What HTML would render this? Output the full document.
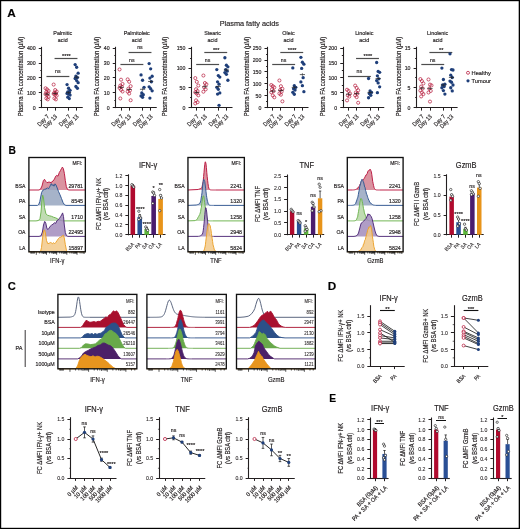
<!DOCTYPE html>
<html><head><meta charset="utf-8"><style>
html,body{margin:0;padding:0;background:#fff;width:520px;height:529px;overflow:hidden}
svg{display:block;will-change:transform}
text{font-family:"Liberation Sans",sans-serif;stroke:#231f20;stroke-width:0.18px}
</style></head><body>
<svg width="520" height="529" viewBox="0 0 520 529" font-family='"Liberation Sans", sans-serif'><rect x="0" y="0" width="520" height="1.2" fill="#000" stroke="none" stroke-width="0"/>
<rect x="0" y="0" width="1.2" height="529" fill="#000" stroke="none" stroke-width="0"/>
<rect x="518.7" y="0" width="1.3" height="529" fill="#000" stroke="none" stroke-width="0"/>
<rect x="0" y="527.8" width="520" height="1.2" fill="#000" stroke="none" stroke-width="0"/>
<text transform="translate(7.3,16.6) scale(1.05,1)" font-size="11.2" text-anchor="start" fill="#000" font-weight="bold">A</text>
<text transform="translate(8.4,154.2) scale(0.92,1)" font-size="11.2" text-anchor="start" fill="#000" font-weight="bold">B</text>
<text transform="translate(7.85,290.3)" font-size="11.2" text-anchor="start" fill="#000" font-weight="bold">C</text>
<text transform="translate(327.7,290.2) scale(1.05,1)" font-size="11.2" text-anchor="start" fill="#000" font-weight="bold">D</text>
<text transform="translate(329.3,402.1) scale(0.92,1)" font-size="11.2" text-anchor="start" fill="#000" font-weight="bold">E</text>
<text transform="translate(249.3,25.8) scale(0.97,1)" font-size="7.5" text-anchor="middle" fill="#231f20" textLength="61.03" lengthAdjust="spacingAndGlyphs">Plasma fatty acids</text>
<text transform="translate(62.75,35.2) scale(0.9,1)" font-size="6" text-anchor="middle" fill="#231f20">Palmitic</text>
<text transform="translate(62.75,41.6) scale(0.9,1)" font-size="6" text-anchor="middle" fill="#231f20">acid</text>
<text transform="translate(22.6,76.5) rotate(-90) scale(0.86,1)" font-size="6.9" text-anchor="middle" fill="#231f20">Plasma FA concentration (µM)</text>
<line x1="41.5" y1="46.8" x2="41.5" y2="108.1" stroke="#231f20" stroke-width="1.1" stroke-linecap="butt"/>
<line x1="41.2" y1="107.5" x2="82.75" y2="107.5" stroke="#231f20" stroke-width="1.1" stroke-linecap="butt"/>
<line x1="38.75" y1="107.5" x2="41.75" y2="107.5" stroke="#231f20" stroke-width="1" stroke-linecap="butt"/>
<text transform="translate(35.65,109.61) scale(0.92,1)" font-size="5.7" text-anchor="end" fill="#231f20">0</text>
<line x1="40.35" y1="100.5" x2="41.75" y2="100.5" stroke="#231f20" stroke-width="1" stroke-linecap="butt"/>
<line x1="38.75" y1="92.5" x2="41.75" y2="92.5" stroke="#231f20" stroke-width="1" stroke-linecap="butt"/>
<text transform="translate(35.65,94.81) scale(0.92,1)" font-size="5.7" text-anchor="end" fill="#231f20">100</text>
<line x1="40.35" y1="85.5" x2="41.75" y2="85.5" stroke="#231f20" stroke-width="1" stroke-linecap="butt"/>
<line x1="38.75" y1="77.5" x2="41.75" y2="77.5" stroke="#231f20" stroke-width="1" stroke-linecap="butt"/>
<text transform="translate(35.65,80.01) scale(0.92,1)" font-size="5.7" text-anchor="end" fill="#231f20">200</text>
<line x1="40.35" y1="70.5" x2="41.75" y2="70.5" stroke="#231f20" stroke-width="1" stroke-linecap="butt"/>
<line x1="38.75" y1="63.5" x2="41.75" y2="63.5" stroke="#231f20" stroke-width="1" stroke-linecap="butt"/>
<text transform="translate(35.65,65.21) scale(0.92,1)" font-size="5.7" text-anchor="end" fill="#231f20">300</text>
<line x1="40.35" y1="55.5" x2="41.75" y2="55.5" stroke="#231f20" stroke-width="1" stroke-linecap="butt"/>
<line x1="38.75" y1="48.5" x2="41.75" y2="48.5" stroke="#231f20" stroke-width="1" stroke-linecap="butt"/>
<text transform="translate(35.65,50.41) scale(0.92,1)" font-size="5.7" text-anchor="end" fill="#231f20">400</text>
<line x1="47.5" y1="107.5" x2="47.5" y2="110.6" stroke="#231f20" stroke-width="1" stroke-linecap="butt"/>
<text transform="translate(49.45,117) rotate(-45) scale(0.86,1)" font-size="6.1" text-anchor="end" fill="#231f20">Day 7</text>
<line x1="55.5" y1="107.5" x2="55.5" y2="110.6" stroke="#231f20" stroke-width="1" stroke-linecap="butt"/>
<text transform="translate(57.55,117) rotate(-45) scale(0.86,1)" font-size="6.1" text-anchor="end" fill="#231f20">Day 13</text>
<line x1="68.5" y1="107.5" x2="68.5" y2="110.6" stroke="#231f20" stroke-width="1" stroke-linecap="butt"/>
<text transform="translate(70.95,117) rotate(-45) scale(0.86,1)" font-size="6.1" text-anchor="end" fill="#231f20">Day 7</text>
<line x1="76.5" y1="107.5" x2="76.5" y2="110.6" stroke="#231f20" stroke-width="1" stroke-linecap="butt"/>
<text transform="translate(79.05,117) rotate(-45) scale(0.86,1)" font-size="6.1" text-anchor="end" fill="#231f20">Day 13</text>
<line x1="46.45" y1="76.5" x2="69.35" y2="76.5" stroke="#4d4d4d" stroke-width="1.2" stroke-linecap="butt"/>
<line x1="54.55" y1="58.5" x2="77.45" y2="58.5" stroke="#4d4d4d" stroke-width="1.2" stroke-linecap="butt"/>
<text transform="translate(57.8,73.2) scale(0.93,1)" font-size="5.6" text-anchor="middle" fill="#231f20">ns</text>
<text transform="translate(66.4,58.07)" font-size="5.6" text-anchor="middle" fill="#231f20">****</text>
<circle cx="45.55" cy="88.26" r="1.55" fill="none" stroke="#b5173a" stroke-width="0.7"/>
<circle cx="47.05" cy="89.44" r="1.55" fill="none" stroke="#b5173a" stroke-width="0.7"/>
<circle cx="48.55" cy="90.92" r="1.55" fill="none" stroke="#b5173a" stroke-width="0.7"/>
<circle cx="46.3" cy="92.11" r="1.55" fill="none" stroke="#b5173a" stroke-width="0.7"/>
<circle cx="47.8" cy="93.29" r="1.55" fill="none" stroke="#b5173a" stroke-width="0.7"/>
<circle cx="45.55" cy="94.18" r="1.55" fill="none" stroke="#b5173a" stroke-width="0.7"/>
<circle cx="47.05" cy="95.07" r="1.55" fill="none" stroke="#b5173a" stroke-width="0.7"/>
<circle cx="48.55" cy="96.84" r="1.55" fill="none" stroke="#b5173a" stroke-width="0.7"/>
<circle cx="46.3" cy="98.32" r="1.55" fill="none" stroke="#b5173a" stroke-width="0.7"/>
<circle cx="47.8" cy="99.36" r="1.55" fill="none" stroke="#b5173a" stroke-width="0.7"/>
<line x1="44.45" y1="94.18" x2="49.65" y2="94.18" stroke="#222" stroke-width="0.7" stroke-linecap="butt"/>
<line x1="47.05" y1="92.58" x2="47.05" y2="95.78" stroke="#222" stroke-width="0.5" stroke-linecap="butt"/>
<circle cx="53.65" cy="84.56" r="1.55" fill="none" stroke="#b5173a" stroke-width="0.7"/>
<circle cx="55.15" cy="90.04" r="1.55" fill="none" stroke="#b5173a" stroke-width="0.7"/>
<circle cx="56.65" cy="91.52" r="1.55" fill="none" stroke="#b5173a" stroke-width="0.7"/>
<circle cx="54.4" cy="92.7" r="1.55" fill="none" stroke="#b5173a" stroke-width="0.7"/>
<circle cx="55.9" cy="93.29" r="1.55" fill="none" stroke="#b5173a" stroke-width="0.7"/>
<circle cx="53.65" cy="93.88" r="1.55" fill="none" stroke="#b5173a" stroke-width="0.7"/>
<circle cx="55.15" cy="94.77" r="1.55" fill="none" stroke="#b5173a" stroke-width="0.7"/>
<circle cx="56.65" cy="95.66" r="1.55" fill="none" stroke="#b5173a" stroke-width="0.7"/>
<circle cx="54.4" cy="98.32" r="1.55" fill="none" stroke="#b5173a" stroke-width="0.7"/>
<circle cx="55.9" cy="99.36" r="1.55" fill="none" stroke="#b5173a" stroke-width="0.7"/>
<line x1="52.55" y1="93.44" x2="57.75" y2="93.44" stroke="#222" stroke-width="0.7" stroke-linecap="butt"/>
<line x1="55.15" y1="91.84" x2="55.15" y2="95.04" stroke="#222" stroke-width="0.5" stroke-linecap="butt"/>
<circle cx="67.05" cy="84.56" r="1.65" fill="#1f3f7a" stroke="none" stroke-width="0"/>
<circle cx="68.55" cy="88.26" r="1.65" fill="#1f3f7a" stroke="none" stroke-width="0"/>
<circle cx="70.05" cy="90.33" r="1.65" fill="#1f3f7a" stroke="none" stroke-width="0"/>
<circle cx="67.8" cy="91.81" r="1.65" fill="#1f3f7a" stroke="none" stroke-width="0"/>
<circle cx="69.3" cy="92.7" r="1.65" fill="#1f3f7a" stroke="none" stroke-width="0"/>
<circle cx="67.05" cy="93.44" r="1.65" fill="#1f3f7a" stroke="none" stroke-width="0"/>
<circle cx="68.55" cy="94.18" r="1.65" fill="#1f3f7a" stroke="none" stroke-width="0"/>
<circle cx="70.05" cy="95.07" r="1.65" fill="#1f3f7a" stroke="none" stroke-width="0"/>
<circle cx="67.8" cy="97.14" r="1.65" fill="#1f3f7a" stroke="none" stroke-width="0"/>
<circle cx="69.3" cy="98.62" r="1.65" fill="#1f3f7a" stroke="none" stroke-width="0"/>
<line x1="65.95" y1="92.7" x2="71.15" y2="92.7" stroke="#222" stroke-width="0.7" stroke-linecap="butt"/>
<line x1="68.55" y1="91.1" x2="68.55" y2="94.3" stroke="#222" stroke-width="0.5" stroke-linecap="butt"/>
<circle cx="75.15" cy="64.58" r="1.65" fill="#1f3f7a" stroke="none" stroke-width="0"/>
<circle cx="76.65" cy="67.24" r="1.65" fill="#1f3f7a" stroke="none" stroke-width="0"/>
<circle cx="78.15" cy="73.16" r="1.65" fill="#1f3f7a" stroke="none" stroke-width="0"/>
<circle cx="75.9" cy="76.12" r="1.65" fill="#1f3f7a" stroke="none" stroke-width="0"/>
<circle cx="77.4" cy="77.6" r="1.65" fill="#1f3f7a" stroke="none" stroke-width="0"/>
<circle cx="75.15" cy="78.49" r="1.65" fill="#1f3f7a" stroke="none" stroke-width="0"/>
<circle cx="76.65" cy="80.56" r="1.65" fill="#1f3f7a" stroke="none" stroke-width="0"/>
<circle cx="78.15" cy="82.64" r="1.65" fill="#1f3f7a" stroke="none" stroke-width="0"/>
<circle cx="75.9" cy="86.48" r="1.65" fill="#1f3f7a" stroke="none" stroke-width="0"/>
<circle cx="77.4" cy="88.26" r="1.65" fill="#1f3f7a" stroke="none" stroke-width="0"/>
<line x1="74.05" y1="77.16" x2="79.25" y2="77.16" stroke="#222" stroke-width="0.7" stroke-linecap="butt"/>
<line x1="76.65" y1="75.56" x2="76.65" y2="78.76" stroke="#222" stroke-width="0.5" stroke-linecap="butt"/>
<text transform="translate(136.75,35.2) scale(0.9,1)" font-size="6" text-anchor="middle" fill="#231f20">Palmitoleic</text>
<text transform="translate(136.75,41.6) scale(0.9,1)" font-size="6" text-anchor="middle" fill="#231f20">acid</text>
<text transform="translate(98.6,76.5) rotate(-90) scale(0.86,1)" font-size="6.9" text-anchor="middle" fill="#231f20">Plasma FA concentration (µM)</text>
<line x1="115.5" y1="46.8" x2="115.5" y2="108.1" stroke="#231f20" stroke-width="1.1" stroke-linecap="butt"/>
<line x1="115.2" y1="107.5" x2="156.75" y2="107.5" stroke="#231f20" stroke-width="1.1" stroke-linecap="butt"/>
<line x1="112.75" y1="107.5" x2="115.75" y2="107.5" stroke="#231f20" stroke-width="1" stroke-linecap="butt"/>
<text transform="translate(109.65,109.61) scale(0.92,1)" font-size="5.7" text-anchor="end" fill="#231f20">0</text>
<line x1="114.35" y1="100.5" x2="115.75" y2="100.5" stroke="#231f20" stroke-width="1" stroke-linecap="butt"/>
<line x1="112.75" y1="92.5" x2="115.75" y2="92.5" stroke="#231f20" stroke-width="1" stroke-linecap="butt"/>
<text transform="translate(109.65,94.81) scale(0.92,1)" font-size="5.7" text-anchor="end" fill="#231f20">10</text>
<line x1="114.35" y1="85.5" x2="115.75" y2="85.5" stroke="#231f20" stroke-width="1" stroke-linecap="butt"/>
<line x1="112.75" y1="77.5" x2="115.75" y2="77.5" stroke="#231f20" stroke-width="1" stroke-linecap="butt"/>
<text transform="translate(109.65,80.01) scale(0.92,1)" font-size="5.7" text-anchor="end" fill="#231f20">20</text>
<line x1="114.35" y1="70.5" x2="115.75" y2="70.5" stroke="#231f20" stroke-width="1" stroke-linecap="butt"/>
<line x1="112.75" y1="63.5" x2="115.75" y2="63.5" stroke="#231f20" stroke-width="1" stroke-linecap="butt"/>
<text transform="translate(109.65,65.21) scale(0.92,1)" font-size="5.7" text-anchor="end" fill="#231f20">30</text>
<line x1="114.35" y1="55.5" x2="115.75" y2="55.5" stroke="#231f20" stroke-width="1" stroke-linecap="butt"/>
<line x1="112.75" y1="48.5" x2="115.75" y2="48.5" stroke="#231f20" stroke-width="1" stroke-linecap="butt"/>
<text transform="translate(109.65,50.41) scale(0.92,1)" font-size="5.7" text-anchor="end" fill="#231f20">40</text>
<line x1="121.5" y1="107.5" x2="121.5" y2="110.6" stroke="#231f20" stroke-width="1" stroke-linecap="butt"/>
<text transform="translate(123.45,117) rotate(-45) scale(0.86,1)" font-size="6.1" text-anchor="end" fill="#231f20">Day 7</text>
<line x1="129.5" y1="107.5" x2="129.5" y2="110.6" stroke="#231f20" stroke-width="1" stroke-linecap="butt"/>
<text transform="translate(131.55,117) rotate(-45) scale(0.86,1)" font-size="6.1" text-anchor="end" fill="#231f20">Day 13</text>
<line x1="142.5" y1="107.5" x2="142.5" y2="110.6" stroke="#231f20" stroke-width="1" stroke-linecap="butt"/>
<text transform="translate(144.95,117) rotate(-45) scale(0.86,1)" font-size="6.1" text-anchor="end" fill="#231f20">Day 7</text>
<line x1="150.5" y1="107.5" x2="150.5" y2="110.6" stroke="#231f20" stroke-width="1" stroke-linecap="butt"/>
<text transform="translate(153.05,117) rotate(-45) scale(0.86,1)" font-size="6.1" text-anchor="end" fill="#231f20">Day 13</text>
<line x1="120.45" y1="64.5" x2="143.35" y2="64.5" stroke="#4d4d4d" stroke-width="1.2" stroke-linecap="butt"/>
<line x1="128.55" y1="52.5" x2="151.45" y2="52.5" stroke="#4d4d4d" stroke-width="1.2" stroke-linecap="butt"/>
<text transform="translate(131.8,61.6) scale(0.93,1)" font-size="5.6" text-anchor="middle" fill="#231f20">ns</text>
<text transform="translate(139.9,49) scale(0.93,1)" font-size="5.6" text-anchor="middle" fill="#231f20">ns</text>
<circle cx="119.55" cy="69.46" r="1.55" fill="none" stroke="#b5173a" stroke-width="0.7"/>
<circle cx="121.05" cy="79.68" r="1.55" fill="none" stroke="#b5173a" stroke-width="0.7"/>
<circle cx="122.55" cy="83.97" r="1.55" fill="none" stroke="#b5173a" stroke-width="0.7"/>
<circle cx="120.3" cy="85.6" r="1.55" fill="none" stroke="#b5173a" stroke-width="0.7"/>
<circle cx="121.8" cy="86.78" r="1.55" fill="none" stroke="#b5173a" stroke-width="0.7"/>
<circle cx="119.55" cy="87.96" r="1.55" fill="none" stroke="#b5173a" stroke-width="0.7"/>
<circle cx="121.05" cy="89.89" r="1.55" fill="none" stroke="#b5173a" stroke-width="0.7"/>
<circle cx="122.55" cy="91.52" r="1.55" fill="none" stroke="#b5173a" stroke-width="0.7"/>
<circle cx="120.3" cy="98.47" r="1.55" fill="none" stroke="#b5173a" stroke-width="0.7"/>
<line x1="118.45" y1="87.37" x2="123.65" y2="87.37" stroke="#222" stroke-width="0.7" stroke-linecap="butt"/>
<line x1="121.05" y1="85.77" x2="121.05" y2="88.97" stroke="#222" stroke-width="0.5" stroke-linecap="butt"/>
<circle cx="127.65" cy="79.38" r="1.55" fill="none" stroke="#b5173a" stroke-width="0.7"/>
<circle cx="129.15" cy="81.75" r="1.55" fill="none" stroke="#b5173a" stroke-width="0.7"/>
<circle cx="130.65" cy="86.19" r="1.55" fill="none" stroke="#b5173a" stroke-width="0.7"/>
<circle cx="128.4" cy="88.7" r="1.55" fill="none" stroke="#b5173a" stroke-width="0.7"/>
<circle cx="129.9" cy="90.48" r="1.55" fill="none" stroke="#b5173a" stroke-width="0.7"/>
<circle cx="127.65" cy="91.66" r="1.55" fill="none" stroke="#b5173a" stroke-width="0.7"/>
<circle cx="129.15" cy="93.59" r="1.55" fill="none" stroke="#b5173a" stroke-width="0.7"/>
<circle cx="130.65" cy="100.25" r="1.55" fill="none" stroke="#b5173a" stroke-width="0.7"/>
<line x1="126.55" y1="89.44" x2="131.75" y2="89.44" stroke="#222" stroke-width="0.7" stroke-linecap="butt"/>
<line x1="129.15" y1="87.84" x2="129.15" y2="91.04" stroke="#222" stroke-width="0.5" stroke-linecap="butt"/>
<circle cx="141.05" cy="74.94" r="1.65" fill="#1f3f7a" stroke="none" stroke-width="0"/>
<circle cx="142.55" cy="80.27" r="1.65" fill="#1f3f7a" stroke="none" stroke-width="0"/>
<circle cx="144.05" cy="87.37" r="1.65" fill="#1f3f7a" stroke="none" stroke-width="0"/>
<circle cx="141.8" cy="93" r="1.65" fill="#1f3f7a" stroke="none" stroke-width="0"/>
<circle cx="143.3" cy="94.77" r="1.65" fill="#1f3f7a" stroke="none" stroke-width="0"/>
<circle cx="141.05" cy="95.96" r="1.65" fill="#1f3f7a" stroke="none" stroke-width="0"/>
<circle cx="142.55" cy="97.29" r="1.65" fill="#1f3f7a" stroke="none" stroke-width="0"/>
<line x1="139.95" y1="89.3" x2="145.15" y2="89.3" stroke="#222" stroke-width="0.7" stroke-linecap="butt"/>
<line x1="142.55" y1="87.7" x2="142.55" y2="90.9" stroke="#222" stroke-width="0.5" stroke-linecap="butt"/>
<circle cx="149.15" cy="63.54" r="1.65" fill="#1f3f7a" stroke="none" stroke-width="0"/>
<circle cx="150.65" cy="68.87" r="1.65" fill="#1f3f7a" stroke="none" stroke-width="0"/>
<circle cx="152.15" cy="76.27" r="1.65" fill="#1f3f7a" stroke="none" stroke-width="0"/>
<circle cx="149.9" cy="78.05" r="1.65" fill="#1f3f7a" stroke="none" stroke-width="0"/>
<circle cx="151.4" cy="81.75" r="1.65" fill="#1f3f7a" stroke="none" stroke-width="0"/>
<circle cx="149.15" cy="86.78" r="1.65" fill="#1f3f7a" stroke="none" stroke-width="0"/>
<circle cx="150.65" cy="88.7" r="1.65" fill="#1f3f7a" stroke="none" stroke-width="0"/>
<circle cx="152.15" cy="90.78" r="1.65" fill="#1f3f7a" stroke="none" stroke-width="0"/>
<circle cx="149.9" cy="98.03" r="1.65" fill="#1f3f7a" stroke="none" stroke-width="0"/>
<line x1="148.05" y1="81.45" x2="153.25" y2="81.45" stroke="#222" stroke-width="0.7" stroke-linecap="butt"/>
<line x1="150.65" y1="79.85" x2="150.65" y2="83.05" stroke="#222" stroke-width="0.5" stroke-linecap="butt"/>
<text transform="translate(212.5,35.2) scale(0.9,1)" font-size="6" text-anchor="middle" fill="#231f20">Stearic</text>
<text transform="translate(212.5,41.6) scale(0.9,1)" font-size="6" text-anchor="middle" fill="#231f20">acid</text>
<text transform="translate(167.3,76.5) rotate(-90) scale(0.86,1)" font-size="6.9" text-anchor="middle" fill="#231f20">Plasma FA concentration (µM)</text>
<line x1="191.5" y1="46.8" x2="191.5" y2="108.1" stroke="#231f20" stroke-width="1.1" stroke-linecap="butt"/>
<line x1="190.95" y1="107.5" x2="232.5" y2="107.5" stroke="#231f20" stroke-width="1.1" stroke-linecap="butt"/>
<line x1="188.5" y1="107.5" x2="191.5" y2="107.5" stroke="#231f20" stroke-width="1" stroke-linecap="butt"/>
<text transform="translate(185.4,109.61) scale(0.92,1)" font-size="5.7" text-anchor="end" fill="#231f20">0</text>
<line x1="190.1" y1="97.5" x2="191.5" y2="97.5" stroke="#231f20" stroke-width="1" stroke-linecap="butt"/>
<line x1="188.5" y1="87.5" x2="191.5" y2="87.5" stroke="#231f20" stroke-width="1" stroke-linecap="butt"/>
<text transform="translate(185.4,89.88) scale(0.92,1)" font-size="5.7" text-anchor="end" fill="#231f20">50</text>
<line x1="190.1" y1="77.5" x2="191.5" y2="77.5" stroke="#231f20" stroke-width="1" stroke-linecap="butt"/>
<line x1="188.5" y1="68.5" x2="191.5" y2="68.5" stroke="#231f20" stroke-width="1" stroke-linecap="butt"/>
<text transform="translate(185.4,70.14) scale(0.92,1)" font-size="5.7" text-anchor="end" fill="#231f20">100</text>
<line x1="190.1" y1="58.5" x2="191.5" y2="58.5" stroke="#231f20" stroke-width="1" stroke-linecap="butt"/>
<line x1="188.5" y1="48.5" x2="191.5" y2="48.5" stroke="#231f20" stroke-width="1" stroke-linecap="butt"/>
<text transform="translate(185.4,50.41) scale(0.92,1)" font-size="5.7" text-anchor="end" fill="#231f20">150</text>
<line x1="196.5" y1="107.5" x2="196.5" y2="110.6" stroke="#231f20" stroke-width="1" stroke-linecap="butt"/>
<text transform="translate(199.2,117) rotate(-45) scale(0.86,1)" font-size="6.1" text-anchor="end" fill="#231f20">Day 7</text>
<line x1="204.5" y1="107.5" x2="204.5" y2="110.6" stroke="#231f20" stroke-width="1" stroke-linecap="butt"/>
<text transform="translate(207.3,117) rotate(-45) scale(0.86,1)" font-size="6.1" text-anchor="end" fill="#231f20">Day 13</text>
<line x1="218.5" y1="107.5" x2="218.5" y2="110.6" stroke="#231f20" stroke-width="1" stroke-linecap="butt"/>
<text transform="translate(220.7,117) rotate(-45) scale(0.86,1)" font-size="6.1" text-anchor="end" fill="#231f20">Day 7</text>
<line x1="226.5" y1="107.5" x2="226.5" y2="110.6" stroke="#231f20" stroke-width="1" stroke-linecap="butt"/>
<text transform="translate(228.8,117) rotate(-45) scale(0.86,1)" font-size="6.1" text-anchor="end" fill="#231f20">Day 13</text>
<line x1="196.2" y1="64.5" x2="219.1" y2="64.5" stroke="#4d4d4d" stroke-width="1.2" stroke-linecap="butt"/>
<line x1="204.3" y1="52.5" x2="227.2" y2="52.5" stroke="#4d4d4d" stroke-width="1.2" stroke-linecap="butt"/>
<text transform="translate(207.55,61.6) scale(0.93,1)" font-size="5.6" text-anchor="middle" fill="#231f20">ns</text>
<text transform="translate(216.15,52.17)" font-size="5.6" text-anchor="middle" fill="#231f20">***</text>
<circle cx="195.3" cy="78.1" r="1.55" fill="none" stroke="#b5173a" stroke-width="0.7"/>
<circle cx="196.8" cy="81.85" r="1.55" fill="none" stroke="#b5173a" stroke-width="0.7"/>
<circle cx="198.3" cy="85.56" r="1.55" fill="none" stroke="#b5173a" stroke-width="0.7"/>
<circle cx="196.05" cy="89.23" r="1.55" fill="none" stroke="#b5173a" stroke-width="0.7"/>
<circle cx="197.55" cy="91.04" r="1.55" fill="none" stroke="#b5173a" stroke-width="0.7"/>
<circle cx="195.3" cy="92.34" r="1.55" fill="none" stroke="#b5173a" stroke-width="0.7"/>
<circle cx="196.8" cy="93.53" r="1.55" fill="none" stroke="#b5173a" stroke-width="0.7"/>
<circle cx="198.3" cy="95.34" r="1.55" fill="none" stroke="#b5173a" stroke-width="0.7"/>
<circle cx="196.05" cy="100.36" r="1.55" fill="none" stroke="#b5173a" stroke-width="0.7"/>
<circle cx="197.55" cy="102.21" r="1.55" fill="none" stroke="#b5173a" stroke-width="0.7"/>
<circle cx="195.3" cy="103.43" r="1.55" fill="none" stroke="#b5173a" stroke-width="0.7"/>
<line x1="194.2" y1="92.5" x2="199.4" y2="92.5" stroke="#222" stroke-width="0.7" stroke-linecap="butt"/>
<line x1="196.8" y1="90.9" x2="196.8" y2="94.1" stroke="#222" stroke-width="0.5" stroke-linecap="butt"/>
<circle cx="203.4" cy="75.53" r="1.55" fill="none" stroke="#b5173a" stroke-width="0.7"/>
<circle cx="204.9" cy="83.03" r="1.55" fill="none" stroke="#b5173a" stroke-width="0.7"/>
<circle cx="206.4" cy="84.21" r="1.55" fill="none" stroke="#b5173a" stroke-width="0.7"/>
<circle cx="204.15" cy="87.37" r="1.55" fill="none" stroke="#b5173a" stroke-width="0.7"/>
<circle cx="205.65" cy="89.35" r="1.55" fill="none" stroke="#b5173a" stroke-width="0.7"/>
<circle cx="203.4" cy="91.71" r="1.55" fill="none" stroke="#b5173a" stroke-width="0.7"/>
<line x1="202.3" y1="86.7" x2="207.5" y2="86.7" stroke="#222" stroke-width="0.7" stroke-linecap="butt"/>
<line x1="204.9" y1="85.1" x2="204.9" y2="88.3" stroke="#222" stroke-width="0.5" stroke-linecap="butt"/>
<circle cx="216.8" cy="69.61" r="1.65" fill="#1f3f7a" stroke="none" stroke-width="0"/>
<circle cx="218.3" cy="75.53" r="1.65" fill="#1f3f7a" stroke="none" stroke-width="0"/>
<circle cx="219.8" cy="77.11" r="1.65" fill="#1f3f7a" stroke="none" stroke-width="0"/>
<circle cx="217.55" cy="81.85" r="1.65" fill="#1f3f7a" stroke="none" stroke-width="0"/>
<circle cx="219.05" cy="84.21" r="1.65" fill="#1f3f7a" stroke="none" stroke-width="0"/>
<circle cx="216.8" cy="87.37" r="1.65" fill="#1f3f7a" stroke="none" stroke-width="0"/>
<circle cx="218.3" cy="89.35" r="1.65" fill="#1f3f7a" stroke="none" stroke-width="0"/>
<circle cx="219.8" cy="92.9" r="1.65" fill="#1f3f7a" stroke="none" stroke-width="0"/>
<circle cx="217.55" cy="94.08" r="1.65" fill="#1f3f7a" stroke="none" stroke-width="0"/>
<circle cx="219.05" cy="105.29" r="1.65" fill="#1f3f7a" stroke="none" stroke-width="0"/>
<line x1="215.7" y1="86.58" x2="220.9" y2="86.58" stroke="#222" stroke-width="0.7" stroke-linecap="butt"/>
<line x1="218.3" y1="84.98" x2="218.3" y2="88.18" stroke="#222" stroke-width="0.5" stroke-linecap="butt"/>
<circle cx="224.9" cy="57.77" r="1.65" fill="#1f3f7a" stroke="none" stroke-width="0"/>
<circle cx="226.4" cy="65.27" r="1.65" fill="#1f3f7a" stroke="none" stroke-width="0"/>
<circle cx="227.9" cy="66.85" r="1.65" fill="#1f3f7a" stroke="none" stroke-width="0"/>
<circle cx="225.65" cy="69.61" r="1.65" fill="#1f3f7a" stroke="none" stroke-width="0"/>
<circle cx="227.15" cy="71.19" r="1.65" fill="#1f3f7a" stroke="none" stroke-width="0"/>
<circle cx="224.9" cy="72.57" r="1.65" fill="#1f3f7a" stroke="none" stroke-width="0"/>
<circle cx="226.4" cy="74.35" r="1.65" fill="#1f3f7a" stroke="none" stroke-width="0"/>
<circle cx="227.9" cy="80.27" r="1.65" fill="#1f3f7a" stroke="none" stroke-width="0"/>
<line x1="223.8" y1="70.01" x2="229" y2="70.01" stroke="#222" stroke-width="0.7" stroke-linecap="butt"/>
<line x1="226.4" y1="68.41" x2="226.4" y2="71.61" stroke="#222" stroke-width="0.5" stroke-linecap="butt"/>
<text transform="translate(288.5,35.2) scale(0.9,1)" font-size="6" text-anchor="middle" fill="#231f20">Oleic</text>
<text transform="translate(288.5,41.6) scale(0.9,1)" font-size="6" text-anchor="middle" fill="#231f20">acid</text>
<text transform="translate(248.8,76.5) rotate(-90) scale(0.86,1)" font-size="6.9" text-anchor="middle" fill="#231f20">Plasma FA concentration (µM)</text>
<line x1="267.5" y1="46.8" x2="267.5" y2="108.1" stroke="#231f20" stroke-width="1.1" stroke-linecap="butt"/>
<line x1="266.95" y1="107.5" x2="308.5" y2="107.5" stroke="#231f20" stroke-width="1.1" stroke-linecap="butt"/>
<line x1="264.5" y1="107.5" x2="267.5" y2="107.5" stroke="#231f20" stroke-width="1" stroke-linecap="butt"/>
<text transform="translate(261.4,109.61) scale(0.92,1)" font-size="5.7" text-anchor="end" fill="#231f20">0</text>
<line x1="266.1" y1="101.5" x2="267.5" y2="101.5" stroke="#231f20" stroke-width="1" stroke-linecap="butt"/>
<line x1="264.5" y1="95.5" x2="267.5" y2="95.5" stroke="#231f20" stroke-width="1" stroke-linecap="butt"/>
<text transform="translate(261.4,97.77) scale(0.92,1)" font-size="5.7" text-anchor="end" fill="#231f20">50</text>
<line x1="266.1" y1="89.5" x2="267.5" y2="89.5" stroke="#231f20" stroke-width="1" stroke-linecap="butt"/>
<line x1="264.5" y1="83.5" x2="267.5" y2="83.5" stroke="#231f20" stroke-width="1" stroke-linecap="butt"/>
<text transform="translate(261.4,85.93) scale(0.92,1)" font-size="5.7" text-anchor="end" fill="#231f20">100</text>
<line x1="266.1" y1="77.5" x2="267.5" y2="77.5" stroke="#231f20" stroke-width="1" stroke-linecap="butt"/>
<line x1="264.5" y1="71.5" x2="267.5" y2="71.5" stroke="#231f20" stroke-width="1" stroke-linecap="butt"/>
<text transform="translate(261.4,74.09) scale(0.92,1)" font-size="5.7" text-anchor="end" fill="#231f20">150</text>
<line x1="266.1" y1="66.5" x2="267.5" y2="66.5" stroke="#231f20" stroke-width="1" stroke-linecap="butt"/>
<line x1="264.5" y1="60.5" x2="267.5" y2="60.5" stroke="#231f20" stroke-width="1" stroke-linecap="butt"/>
<text transform="translate(261.4,62.25) scale(0.92,1)" font-size="5.7" text-anchor="end" fill="#231f20">200</text>
<line x1="266.1" y1="54.5" x2="267.5" y2="54.5" stroke="#231f20" stroke-width="1" stroke-linecap="butt"/>
<line x1="264.5" y1="48.5" x2="267.5" y2="48.5" stroke="#231f20" stroke-width="1" stroke-linecap="butt"/>
<text transform="translate(261.4,50.41) scale(0.92,1)" font-size="5.7" text-anchor="end" fill="#231f20">250</text>
<line x1="272.5" y1="107.5" x2="272.5" y2="110.6" stroke="#231f20" stroke-width="1" stroke-linecap="butt"/>
<text transform="translate(275.2,117) rotate(-45) scale(0.86,1)" font-size="6.1" text-anchor="end" fill="#231f20">Day 7</text>
<line x1="280.5" y1="107.5" x2="280.5" y2="110.6" stroke="#231f20" stroke-width="1" stroke-linecap="butt"/>
<text transform="translate(283.3,117) rotate(-45) scale(0.86,1)" font-size="6.1" text-anchor="end" fill="#231f20">Day 13</text>
<line x1="294.5" y1="107.5" x2="294.5" y2="110.6" stroke="#231f20" stroke-width="1" stroke-linecap="butt"/>
<text transform="translate(296.7,117) rotate(-45) scale(0.86,1)" font-size="6.1" text-anchor="end" fill="#231f20">Day 7</text>
<line x1="302.5" y1="107.5" x2="302.5" y2="110.6" stroke="#231f20" stroke-width="1" stroke-linecap="butt"/>
<text transform="translate(304.8,117) rotate(-45) scale(0.86,1)" font-size="6.1" text-anchor="end" fill="#231f20">Day 13</text>
<line x1="272.2" y1="64.5" x2="295.1" y2="64.5" stroke="#4d4d4d" stroke-width="1.2" stroke-linecap="butt"/>
<line x1="280.3" y1="52.5" x2="303.2" y2="52.5" stroke="#4d4d4d" stroke-width="1.2" stroke-linecap="butt"/>
<text transform="translate(283.55,61.6) scale(0.93,1)" font-size="5.6" text-anchor="middle" fill="#231f20">ns</text>
<text transform="translate(292.15,52.17)" font-size="5.6" text-anchor="middle" fill="#231f20">****</text>
<circle cx="271.3" cy="85" r="1.55" fill="none" stroke="#b5173a" stroke-width="0.7"/>
<circle cx="272.8" cy="86.19" r="1.55" fill="none" stroke="#b5173a" stroke-width="0.7"/>
<circle cx="274.3" cy="87.37" r="1.55" fill="none" stroke="#b5173a" stroke-width="0.7"/>
<circle cx="272.05" cy="89.27" r="1.55" fill="none" stroke="#b5173a" stroke-width="0.7"/>
<circle cx="273.55" cy="91.16" r="1.55" fill="none" stroke="#b5173a" stroke-width="0.7"/>
<circle cx="271.3" cy="92.34" r="1.55" fill="none" stroke="#b5173a" stroke-width="0.7"/>
<circle cx="272.8" cy="95.42" r="1.55" fill="none" stroke="#b5173a" stroke-width="0.7"/>
<circle cx="274.3" cy="97.32" r="1.55" fill="none" stroke="#b5173a" stroke-width="0.7"/>
<line x1="270.2" y1="91.16" x2="275.4" y2="91.16" stroke="#222" stroke-width="0.7" stroke-linecap="butt"/>
<line x1="272.8" y1="89.56" x2="272.8" y2="92.76" stroke="#222" stroke-width="0.5" stroke-linecap="butt"/>
<circle cx="279.4" cy="80.5" r="1.55" fill="none" stroke="#b5173a" stroke-width="0.7"/>
<circle cx="280.9" cy="86.19" r="1.55" fill="none" stroke="#b5173a" stroke-width="0.7"/>
<circle cx="282.4" cy="88.79" r="1.55" fill="none" stroke="#b5173a" stroke-width="0.7"/>
<circle cx="280.15" cy="89.98" r="1.55" fill="none" stroke="#b5173a" stroke-width="0.7"/>
<circle cx="281.65" cy="91.63" r="1.55" fill="none" stroke="#b5173a" stroke-width="0.7"/>
<circle cx="279.4" cy="93.53" r="1.55" fill="none" stroke="#b5173a" stroke-width="0.7"/>
<circle cx="280.9" cy="94.71" r="1.55" fill="none" stroke="#b5173a" stroke-width="0.7"/>
<circle cx="282.4" cy="101.34" r="1.55" fill="none" stroke="#b5173a" stroke-width="0.7"/>
<line x1="278.3" y1="90.45" x2="283.5" y2="90.45" stroke="#222" stroke-width="0.7" stroke-linecap="butt"/>
<line x1="280.9" y1="88.85" x2="280.9" y2="92.05" stroke="#222" stroke-width="0.5" stroke-linecap="butt"/>
<circle cx="292.8" cy="67.95" r="1.65" fill="#1f3f7a" stroke="none" stroke-width="0"/>
<circle cx="294.3" cy="85.71" r="1.65" fill="#1f3f7a" stroke="none" stroke-width="0"/>
<circle cx="295.8" cy="87.37" r="1.65" fill="#1f3f7a" stroke="none" stroke-width="0"/>
<circle cx="293.55" cy="88.79" r="1.65" fill="#1f3f7a" stroke="none" stroke-width="0"/>
<circle cx="295.05" cy="89.98" r="1.65" fill="#1f3f7a" stroke="none" stroke-width="0"/>
<circle cx="292.8" cy="92.34" r="1.65" fill="#1f3f7a" stroke="none" stroke-width="0"/>
<circle cx="294.3" cy="94.24" r="1.65" fill="#1f3f7a" stroke="none" stroke-width="0"/>
<line x1="291.7" y1="87.37" x2="296.9" y2="87.37" stroke="#222" stroke-width="0.7" stroke-linecap="butt"/>
<line x1="294.3" y1="85.77" x2="294.3" y2="88.97" stroke="#222" stroke-width="0.5" stroke-linecap="butt"/>
<circle cx="300.9" cy="57.3" r="1.65" fill="#1f3f7a" stroke="none" stroke-width="0"/>
<circle cx="302.4" cy="62.27" r="1.65" fill="#1f3f7a" stroke="none" stroke-width="0"/>
<circle cx="303.9" cy="64.17" r="1.65" fill="#1f3f7a" stroke="none" stroke-width="0"/>
<circle cx="301.65" cy="68.43" r="1.65" fill="#1f3f7a" stroke="none" stroke-width="0"/>
<circle cx="303.15" cy="77.66" r="1.65" fill="#1f3f7a" stroke="none" stroke-width="0"/>
<circle cx="300.9" cy="81.93" r="1.65" fill="#1f3f7a" stroke="none" stroke-width="0"/>
<circle cx="302.4" cy="85.71" r="1.65" fill="#1f3f7a" stroke="none" stroke-width="0"/>
<circle cx="303.9" cy="91.63" r="1.65" fill="#1f3f7a" stroke="none" stroke-width="0"/>
<line x1="299.8" y1="74.58" x2="305" y2="74.58" stroke="#222" stroke-width="0.7" stroke-linecap="butt"/>
<line x1="302.4" y1="72.98" x2="302.4" y2="76.18" stroke="#222" stroke-width="0.5" stroke-linecap="butt"/>
<text transform="translate(364.25,35.2) scale(0.9,1)" font-size="6" text-anchor="middle" fill="#231f20">Linoleic</text>
<text transform="translate(364.25,41.6) scale(0.9,1)" font-size="6" text-anchor="middle" fill="#231f20">acid</text>
<text transform="translate(324.8,76.5) rotate(-90) scale(0.86,1)" font-size="6.9" text-anchor="middle" fill="#231f20">Plasma FA concentration (µM)</text>
<line x1="343.5" y1="46.8" x2="343.5" y2="108.1" stroke="#231f20" stroke-width="1.1" stroke-linecap="butt"/>
<line x1="342.7" y1="107.5" x2="384.25" y2="107.5" stroke="#231f20" stroke-width="1.1" stroke-linecap="butt"/>
<line x1="340.25" y1="107.5" x2="343.25" y2="107.5" stroke="#231f20" stroke-width="1" stroke-linecap="butt"/>
<text transform="translate(337.15,109.61) scale(0.92,1)" font-size="5.7" text-anchor="end" fill="#231f20">0</text>
<line x1="341.85" y1="100.5" x2="343.25" y2="100.5" stroke="#231f20" stroke-width="1" stroke-linecap="butt"/>
<line x1="340.25" y1="92.5" x2="343.25" y2="92.5" stroke="#231f20" stroke-width="1" stroke-linecap="butt"/>
<text transform="translate(337.15,94.81) scale(0.92,1)" font-size="5.7" text-anchor="end" fill="#231f20">50</text>
<line x1="341.85" y1="85.5" x2="343.25" y2="85.5" stroke="#231f20" stroke-width="1" stroke-linecap="butt"/>
<line x1="340.25" y1="77.5" x2="343.25" y2="77.5" stroke="#231f20" stroke-width="1" stroke-linecap="butt"/>
<text transform="translate(337.15,80.01) scale(0.92,1)" font-size="5.7" text-anchor="end" fill="#231f20">100</text>
<line x1="341.85" y1="70.5" x2="343.25" y2="70.5" stroke="#231f20" stroke-width="1" stroke-linecap="butt"/>
<line x1="340.25" y1="63.5" x2="343.25" y2="63.5" stroke="#231f20" stroke-width="1" stroke-linecap="butt"/>
<text transform="translate(337.15,65.21) scale(0.92,1)" font-size="5.7" text-anchor="end" fill="#231f20">150</text>
<line x1="341.85" y1="55.5" x2="343.25" y2="55.5" stroke="#231f20" stroke-width="1" stroke-linecap="butt"/>
<line x1="340.25" y1="48.5" x2="343.25" y2="48.5" stroke="#231f20" stroke-width="1" stroke-linecap="butt"/>
<text transform="translate(337.15,50.41) scale(0.92,1)" font-size="5.7" text-anchor="end" fill="#231f20">200</text>
<line x1="348.5" y1="107.5" x2="348.5" y2="110.6" stroke="#231f20" stroke-width="1" stroke-linecap="butt"/>
<text transform="translate(350.95,117) rotate(-45) scale(0.86,1)" font-size="6.1" text-anchor="end" fill="#231f20">Day 7</text>
<line x1="356.5" y1="107.5" x2="356.5" y2="110.6" stroke="#231f20" stroke-width="1" stroke-linecap="butt"/>
<text transform="translate(359.05,117) rotate(-45) scale(0.86,1)" font-size="6.1" text-anchor="end" fill="#231f20">Day 13</text>
<line x1="370.5" y1="107.5" x2="370.5" y2="110.6" stroke="#231f20" stroke-width="1" stroke-linecap="butt"/>
<text transform="translate(372.45,117) rotate(-45) scale(0.86,1)" font-size="6.1" text-anchor="end" fill="#231f20">Day 7</text>
<line x1="378.5" y1="107.5" x2="378.5" y2="110.6" stroke="#231f20" stroke-width="1" stroke-linecap="butt"/>
<text transform="translate(380.55,117) rotate(-45) scale(0.86,1)" font-size="6.1" text-anchor="end" fill="#231f20">Day 13</text>
<line x1="347.95" y1="76.5" x2="370.85" y2="76.5" stroke="#4d4d4d" stroke-width="1.2" stroke-linecap="butt"/>
<line x1="356.05" y1="58.5" x2="378.95" y2="58.5" stroke="#4d4d4d" stroke-width="1.2" stroke-linecap="butt"/>
<text transform="translate(359.3,73.4) scale(0.93,1)" font-size="5.6" text-anchor="middle" fill="#231f20">ns</text>
<text transform="translate(367.9,58.17)" font-size="5.6" text-anchor="middle" fill="#231f20">****</text>
<circle cx="347.05" cy="89.74" r="1.55" fill="none" stroke="#b5173a" stroke-width="0.7"/>
<circle cx="348.55" cy="90.92" r="1.55" fill="none" stroke="#b5173a" stroke-width="0.7"/>
<circle cx="350.05" cy="93.59" r="1.55" fill="none" stroke="#b5173a" stroke-width="0.7"/>
<circle cx="347.8" cy="95.36" r="1.55" fill="none" stroke="#b5173a" stroke-width="0.7"/>
<circle cx="349.3" cy="96.55" r="1.55" fill="none" stroke="#b5173a" stroke-width="0.7"/>
<circle cx="347.05" cy="100.4" r="1.55" fill="none" stroke="#b5173a" stroke-width="0.7"/>
<line x1="345.95" y1="94.18" x2="351.15" y2="94.18" stroke="#222" stroke-width="0.7" stroke-linecap="butt"/>
<line x1="348.55" y1="92.58" x2="348.55" y2="95.78" stroke="#222" stroke-width="0.5" stroke-linecap="butt"/>
<circle cx="355.15" cy="85.6" r="1.55" fill="none" stroke="#b5173a" stroke-width="0.7"/>
<circle cx="356.65" cy="87.96" r="1.55" fill="none" stroke="#b5173a" stroke-width="0.7"/>
<circle cx="358.15" cy="90.33" r="1.55" fill="none" stroke="#b5173a" stroke-width="0.7"/>
<circle cx="355.9" cy="92.4" r="1.55" fill="none" stroke="#b5173a" stroke-width="0.7"/>
<circle cx="357.4" cy="93.59" r="1.55" fill="none" stroke="#b5173a" stroke-width="0.7"/>
<circle cx="355.15" cy="95.36" r="1.55" fill="none" stroke="#b5173a" stroke-width="0.7"/>
<circle cx="356.65" cy="97.14" r="1.55" fill="none" stroke="#b5173a" stroke-width="0.7"/>
<circle cx="358.15" cy="102.76" r="1.55" fill="none" stroke="#b5173a" stroke-width="0.7"/>
<line x1="354.05" y1="93.59" x2="359.25" y2="93.59" stroke="#222" stroke-width="0.7" stroke-linecap="butt"/>
<line x1="356.65" y1="91.99" x2="356.65" y2="95.19" stroke="#222" stroke-width="0.5" stroke-linecap="butt"/>
<circle cx="368.55" cy="78.49" r="1.65" fill="#1f3f7a" stroke="none" stroke-width="0"/>
<circle cx="370.05" cy="90.92" r="1.65" fill="#1f3f7a" stroke="none" stroke-width="0"/>
<circle cx="371.55" cy="92.4" r="1.65" fill="#1f3f7a" stroke="none" stroke-width="0"/>
<circle cx="369.3" cy="93.59" r="1.65" fill="#1f3f7a" stroke="none" stroke-width="0"/>
<circle cx="370.8" cy="95.36" r="1.65" fill="#1f3f7a" stroke="none" stroke-width="0"/>
<circle cx="368.55" cy="97.73" r="1.65" fill="#1f3f7a" stroke="none" stroke-width="0"/>
<line x1="367.45" y1="92.4" x2="372.65" y2="92.4" stroke="#222" stroke-width="0.7" stroke-linecap="butt"/>
<line x1="370.05" y1="90.8" x2="370.05" y2="94" stroke="#222" stroke-width="0.5" stroke-linecap="butt"/>
<circle cx="376.65" cy="62.51" r="1.65" fill="#1f3f7a" stroke="none" stroke-width="0"/>
<circle cx="378.15" cy="71.39" r="1.65" fill="#1f3f7a" stroke="none" stroke-width="0"/>
<circle cx="379.65" cy="72.28" r="1.65" fill="#1f3f7a" stroke="none" stroke-width="0"/>
<circle cx="377.4" cy="75.83" r="1.65" fill="#1f3f7a" stroke="none" stroke-width="0"/>
<circle cx="378.9" cy="78.79" r="1.65" fill="#1f3f7a" stroke="none" stroke-width="0"/>
<circle cx="376.65" cy="80.56" r="1.65" fill="#1f3f7a" stroke="none" stroke-width="0"/>
<circle cx="378.15" cy="82.93" r="1.65" fill="#1f3f7a" stroke="none" stroke-width="0"/>
<circle cx="379.65" cy="86.78" r="1.65" fill="#1f3f7a" stroke="none" stroke-width="0"/>
<circle cx="377.4" cy="92.7" r="1.65" fill="#1f3f7a" stroke="none" stroke-width="0"/>
<line x1="375.55" y1="78.49" x2="380.75" y2="78.49" stroke="#222" stroke-width="0.7" stroke-linecap="butt"/>
<line x1="378.15" y1="76.89" x2="378.15" y2="80.09" stroke="#222" stroke-width="0.5" stroke-linecap="butt"/>
<text transform="translate(437.6,35.2) scale(0.9,1)" font-size="6" text-anchor="middle" fill="#231f20">Linolenic</text>
<text transform="translate(437.6,41.6) scale(0.9,1)" font-size="6" text-anchor="middle" fill="#231f20">acid</text>
<text transform="translate(401.3,76.5) rotate(-90) scale(0.86,1)" font-size="6.9" text-anchor="middle" fill="#231f20">Plasma FA concentration (µM)</text>
<line x1="416.5" y1="46.8" x2="416.5" y2="108.1" stroke="#231f20" stroke-width="1.1" stroke-linecap="butt"/>
<line x1="416.05" y1="107.5" x2="457.6" y2="107.5" stroke="#231f20" stroke-width="1.1" stroke-linecap="butt"/>
<line x1="413.6" y1="107.5" x2="416.6" y2="107.5" stroke="#231f20" stroke-width="1" stroke-linecap="butt"/>
<text transform="translate(410.5,109.61) scale(0.92,1)" font-size="5.7" text-anchor="end" fill="#231f20">0</text>
<line x1="415.2" y1="97.5" x2="416.6" y2="97.5" stroke="#231f20" stroke-width="1" stroke-linecap="butt"/>
<line x1="413.6" y1="87.5" x2="416.6" y2="87.5" stroke="#231f20" stroke-width="1" stroke-linecap="butt"/>
<text transform="translate(410.5,89.88) scale(0.92,1)" font-size="5.7" text-anchor="end" fill="#231f20">5</text>
<line x1="415.2" y1="77.5" x2="416.6" y2="77.5" stroke="#231f20" stroke-width="1" stroke-linecap="butt"/>
<line x1="413.6" y1="68.5" x2="416.6" y2="68.5" stroke="#231f20" stroke-width="1" stroke-linecap="butt"/>
<text transform="translate(410.5,70.14) scale(0.92,1)" font-size="5.7" text-anchor="end" fill="#231f20">10</text>
<line x1="415.2" y1="58.5" x2="416.6" y2="58.5" stroke="#231f20" stroke-width="1" stroke-linecap="butt"/>
<line x1="413.6" y1="48.5" x2="416.6" y2="48.5" stroke="#231f20" stroke-width="1" stroke-linecap="butt"/>
<text transform="translate(410.5,50.41) scale(0.92,1)" font-size="5.7" text-anchor="end" fill="#231f20">15</text>
<line x1="421.5" y1="107.5" x2="421.5" y2="110.6" stroke="#231f20" stroke-width="1" stroke-linecap="butt"/>
<text transform="translate(424.3,117) rotate(-45) scale(0.86,1)" font-size="6.1" text-anchor="end" fill="#231f20">Day 7</text>
<line x1="430.5" y1="107.5" x2="430.5" y2="110.6" stroke="#231f20" stroke-width="1" stroke-linecap="butt"/>
<text transform="translate(432.4,117) rotate(-45) scale(0.86,1)" font-size="6.1" text-anchor="end" fill="#231f20">Day 13</text>
<line x1="443.5" y1="107.5" x2="443.5" y2="110.6" stroke="#231f20" stroke-width="1" stroke-linecap="butt"/>
<text transform="translate(445.8,117) rotate(-45) scale(0.86,1)" font-size="6.1" text-anchor="end" fill="#231f20">Day 7</text>
<line x1="451.5" y1="107.5" x2="451.5" y2="110.6" stroke="#231f20" stroke-width="1" stroke-linecap="butt"/>
<text transform="translate(453.9,117) rotate(-45) scale(0.86,1)" font-size="6.1" text-anchor="end" fill="#231f20">Day 13</text>
<line x1="421.3" y1="64.5" x2="444.2" y2="64.5" stroke="#4d4d4d" stroke-width="1.2" stroke-linecap="butt"/>
<line x1="429.4" y1="52.5" x2="452.3" y2="52.5" stroke="#4d4d4d" stroke-width="1.2" stroke-linecap="butt"/>
<text transform="translate(432.65,61.6) scale(0.93,1)" font-size="5.6" text-anchor="middle" fill="#231f20">ns</text>
<text transform="translate(441.25,52.17)" font-size="5.6" text-anchor="middle" fill="#231f20">**</text>
<circle cx="420.4" cy="79.08" r="1.55" fill="none" stroke="#b5173a" stroke-width="0.7"/>
<circle cx="421.9" cy="81.06" r="1.55" fill="none" stroke="#b5173a" stroke-width="0.7"/>
<circle cx="423.4" cy="83.43" r="1.55" fill="none" stroke="#b5173a" stroke-width="0.7"/>
<circle cx="421.15" cy="86.58" r="1.55" fill="none" stroke="#b5173a" stroke-width="0.7"/>
<circle cx="422.65" cy="88.56" r="1.55" fill="none" stroke="#b5173a" stroke-width="0.7"/>
<circle cx="420.4" cy="90.53" r="1.55" fill="none" stroke="#b5173a" stroke-width="0.7"/>
<circle cx="421.9" cy="92.5" r="1.55" fill="none" stroke="#b5173a" stroke-width="0.7"/>
<circle cx="423.4" cy="94.08" r="1.55" fill="none" stroke="#b5173a" stroke-width="0.7"/>
<circle cx="421.15" cy="96.45" r="1.55" fill="none" stroke="#b5173a" stroke-width="0.7"/>
<line x1="419.3" y1="88.16" x2="424.5" y2="88.16" stroke="#222" stroke-width="0.7" stroke-linecap="butt"/>
<line x1="421.9" y1="86.56" x2="421.9" y2="89.76" stroke="#222" stroke-width="0.5" stroke-linecap="butt"/>
<circle cx="428.5" cy="79.48" r="1.55" fill="none" stroke="#b5173a" stroke-width="0.7"/>
<circle cx="430" cy="84.61" r="1.55" fill="none" stroke="#b5173a" stroke-width="0.7"/>
<circle cx="431.5" cy="85.4" r="1.55" fill="none" stroke="#b5173a" stroke-width="0.7"/>
<circle cx="429.25" cy="88.56" r="1.55" fill="none" stroke="#b5173a" stroke-width="0.7"/>
<circle cx="430.75" cy="90.92" r="1.55" fill="none" stroke="#b5173a" stroke-width="0.7"/>
<circle cx="428.5" cy="92.5" r="1.55" fill="none" stroke="#b5173a" stroke-width="0.7"/>
<circle cx="430" cy="101.58" r="1.55" fill="none" stroke="#b5173a" stroke-width="0.7"/>
<line x1="427.4" y1="88.56" x2="432.6" y2="88.56" stroke="#222" stroke-width="0.7" stroke-linecap="butt"/>
<line x1="430" y1="86.96" x2="430" y2="90.16" stroke="#222" stroke-width="0.5" stroke-linecap="butt"/>
<circle cx="441.9" cy="68.03" r="1.65" fill="#1f3f7a" stroke="none" stroke-width="0"/>
<circle cx="443.4" cy="79.48" r="1.65" fill="#1f3f7a" stroke="none" stroke-width="0"/>
<circle cx="444.9" cy="84.21" r="1.65" fill="#1f3f7a" stroke="none" stroke-width="0"/>
<circle cx="442.65" cy="85" r="1.65" fill="#1f3f7a" stroke="none" stroke-width="0"/>
<circle cx="444.15" cy="86.58" r="1.65" fill="#1f3f7a" stroke="none" stroke-width="0"/>
<circle cx="441.9" cy="87.77" r="1.65" fill="#1f3f7a" stroke="none" stroke-width="0"/>
<circle cx="443.4" cy="90.53" r="1.65" fill="#1f3f7a" stroke="none" stroke-width="0"/>
<circle cx="444.9" cy="94.08" r="1.65" fill="#1f3f7a" stroke="none" stroke-width="0"/>
<line x1="440.8" y1="85" x2="446" y2="85" stroke="#222" stroke-width="0.7" stroke-linecap="butt"/>
<line x1="443.4" y1="83.4" x2="443.4" y2="86.6" stroke="#222" stroke-width="0.5" stroke-linecap="butt"/>
<circle cx="450" cy="53.83" r="1.65" fill="#1f3f7a" stroke="none" stroke-width="0"/>
<circle cx="451.5" cy="69.61" r="1.65" fill="#1f3f7a" stroke="none" stroke-width="0"/>
<circle cx="453" cy="70.01" r="1.65" fill="#1f3f7a" stroke="none" stroke-width="0"/>
<circle cx="450.75" cy="75.14" r="1.65" fill="#1f3f7a" stroke="none" stroke-width="0"/>
<circle cx="452.25" cy="77.51" r="1.65" fill="#1f3f7a" stroke="none" stroke-width="0"/>
<circle cx="450" cy="81.06" r="1.65" fill="#1f3f7a" stroke="none" stroke-width="0"/>
<circle cx="451.5" cy="82.24" r="1.65" fill="#1f3f7a" stroke="none" stroke-width="0"/>
<circle cx="453" cy="85" r="1.65" fill="#1f3f7a" stroke="none" stroke-width="0"/>
<circle cx="450.75" cy="87.77" r="1.65" fill="#1f3f7a" stroke="none" stroke-width="0"/>
<circle cx="452.25" cy="90.92" r="1.65" fill="#1f3f7a" stroke="none" stroke-width="0"/>
<line x1="448.9" y1="77.51" x2="454.1" y2="77.51" stroke="#222" stroke-width="0.7" stroke-linecap="butt"/>
<line x1="451.5" y1="75.91" x2="451.5" y2="79.11" stroke="#222" stroke-width="0.5" stroke-linecap="butt"/>
<circle cx="468" cy="72.8" r="1.5" fill="none" stroke="#b5173a" stroke-width="0.75"/>
<text transform="translate(471.6,75) scale(0.92,1)" font-size="6.2" text-anchor="start" fill="#231f20">Healthy</text>
<circle cx="468" cy="80.8" r="1.6" fill="#1f3f7a" stroke="none" stroke-width="0"/>
<text transform="translate(471.6,83) scale(0.92,1)" font-size="6.2" text-anchor="start" fill="#231f20">Tumour</text>
<path d="M28.9,190 L39,190 L40.5,189.2 L42,186 L43.4,180.5 L44.5,179.3 L45.6,181.2 L47,182.7 L49,182 L51,182.6 L53,181 L54.5,179 L55.6,176.3 L56.8,175.4 L58,176.2 L59.3,172.5 L60.5,170.5 L61.5,168.5 L62.4,167.1 L63.4,168.8 L64.4,173.5 L65.3,180.5 L66.3,186.5 L67.6,189.6 L69,190 L85.35,190 Z" fill="#d4808f" stroke="none" stroke-width="0" fill-opacity="0.85"/>
<path d="M28.9,190 L39,190 L40.5,189.2 L42,186 L43.4,180.5 L44.5,179.3 L45.6,181.2 L47,182.7 L49,182 L51,182.6 L53,181 L54.5,179 L55.6,176.3 L56.8,175.4 L58,176.2 L59.3,172.5 L60.5,170.5 L61.5,168.5 L62.4,167.1 L63.4,168.8 L64.4,173.5 L65.3,180.5 L66.3,186.5 L67.6,189.6 L69,190 L85.35,190" fill="none" stroke="#bb1740" stroke-width="0.95" stroke-linejoin="round"/>
<path d="M28.9,205.4 L37.5,205.4 L38.8,204.3 L39.8,201.5 L40.7,197 L41.6,192.5 L42.8,190.3 L44.5,189.3 L46,189 L47.5,187.8 L48.5,188.8 L49.5,187.2 L50.5,185.2 L51.3,183.6 L52.2,185.5 L53,184.5 L54,186.2 L55,183.8 L56,185 L57.2,188 L58.5,191.5 L60,194.8 L61.5,198.5 L63,202.5 L64.5,204.8 L66,205.4 L85.35,205.4 Z" fill="#96a6c0" stroke="none" stroke-width="0" fill-opacity="0.85"/>
<path d="M28.9,205.4 L37.5,205.4 L38.8,204.3 L39.8,201.5 L40.7,197 L41.6,192.5 L42.8,190.3 L44.5,189.3 L46,189 L47.5,187.8 L48.5,188.8 L49.5,187.2 L50.5,185.2 L51.3,183.6 L52.2,185.5 L53,184.5 L54,186.2 L55,183.8 L56,185 L57.2,188 L58.5,191.5 L60,194.8 L61.5,198.5 L63,202.5 L64.5,204.8 L66,205.4 L85.35,205.4" fill="none" stroke="#2f5590" stroke-width="0.95" stroke-linejoin="round"/>
<path d="M28.9,220.9 L36,220.9 L38.5,220.5 L40,218.5 L41,212 L41.9,201 L42.7,195.2 L43.5,198 L44.5,207.5 L45.9,213.8 L47.5,215.2 L49.5,215.8 L51.5,216.3 L53.5,217.2 L55.5,217.8 L57.5,218.8 L59.5,219.8 L61.5,220.6 L63,220.9 L85.35,220.9 Z" fill="#b5d6a5" stroke="none" stroke-width="0" fill-opacity="0.85"/>
<path d="M28.9,220.9 L36,220.9 L38.5,220.5 L40,218.5 L41,212 L41.9,201 L42.7,195.2 L43.5,198 L44.5,207.5 L45.9,213.8 L47.5,215.2 L49.5,215.8 L51.5,216.3 L53.5,217.2 L55.5,217.8 L57.5,218.8 L59.5,219.8 L61.5,220.6 L63,220.9 L85.35,220.9" fill="none" stroke="#6cb34d" stroke-width="0.95" stroke-linejoin="round"/>
<path d="M28.9,236.4 L39,236.4 L41,235.8 L42.4,232 L43.5,225 L44.7,221.4 L45.8,223.2 L46.8,228 L47.8,229.6 L49,228.2 L50.2,226.3 L51.5,225.2 L53,224.2 L54.5,222.8 L55.8,223.3 L57,220.5 L58.3,219.8 L59.4,218.5 L60.6,216.6 L61.6,215 L62.6,212.9 L63.5,216.5 L64.3,225 L65.3,232.5 L66.5,235.8 L68,236.4 L85.35,236.4 Z" fill="#a28cbc" stroke="none" stroke-width="0" fill-opacity="0.85"/>
<path d="M28.9,236.4 L39,236.4 L41,235.8 L42.4,232 L43.5,225 L44.7,221.4 L45.8,223.2 L46.8,228 L47.8,229.6 L49,228.2 L50.2,226.3 L51.5,225.2 L53,224.2 L54.5,222.8 L55.8,223.3 L57,220.5 L58.3,219.8 L59.4,218.5 L60.6,216.6 L61.6,215 L62.6,212.9 L63.5,216.5 L64.3,225 L65.3,232.5 L66.5,235.8 L68,236.4 L85.35,236.4" fill="none" stroke="#4f2a78" stroke-width="0.95" stroke-linejoin="round"/>
<path d="M28.9,251.8 L40.5,251.8 L41.5,247.5 L42.7,237 L43.7,231 L44.5,229.8 L45.4,233 L46.5,240.5 L47.7,243.6 L49,243.4 L50.3,242.5 L51.3,242.8 L52.4,243.8 L53.5,242.6 L54.6,243.8 L55.8,242.4 L57,240.7 L58.3,238.8 L59.5,237.5 L60.8,237.2 L62,236.3 L63.3,235.2 L64.3,238 L65.3,244.5 L66.5,250.5 L67.2,251.8 L85.35,251.8 Z" fill="#f2c98a" stroke="none" stroke-width="0" fill-opacity="0.85"/>
<path d="M28.9,251.8 L40.5,251.8 L41.5,247.5 L42.7,237 L43.7,231 L44.5,229.8 L45.4,233 L46.5,240.5 L47.7,243.6 L49,243.4 L50.3,242.5 L51.3,242.8 L52.4,243.8 L53.5,242.6 L54.6,243.8 L55.8,242.4 L57,240.7 L58.3,238.8 L59.5,237.5 L60.8,237.2 L62,236.3 L63.3,235.2 L64.3,238 L65.3,244.5 L66.5,250.5 L67.2,251.8 L85.35,251.8" fill="none" stroke="#eba12a" stroke-width="0.95" stroke-linejoin="round"/>
<rect x="28.9" y="157.5" width="56.45" height="94.3" fill="none" stroke="#111" stroke-width="1.35"/>
<text transform="translate(25.5,187.8) scale(0.86,1)" font-size="5.9" text-anchor="end" fill="#231f20">BSA</text>
<text transform="translate(83.05,187.7) scale(0.88,1)" font-size="6" text-anchor="end" fill="#231f20">29781</text>
<text transform="translate(25.5,203.2) scale(0.86,1)" font-size="5.9" text-anchor="end" fill="#231f20">PA</text>
<text transform="translate(83.05,203.1) scale(0.88,1)" font-size="6" text-anchor="end" fill="#231f20">8545</text>
<text transform="translate(25.5,218.7) scale(0.86,1)" font-size="5.9" text-anchor="end" fill="#231f20">SA</text>
<text transform="translate(83.05,218.6) scale(0.88,1)" font-size="6" text-anchor="end" fill="#231f20">1710</text>
<text transform="translate(25.5,234.2) scale(0.86,1)" font-size="5.9" text-anchor="end" fill="#231f20">OA</text>
<text transform="translate(83.05,234.1) scale(0.88,1)" font-size="6" text-anchor="end" fill="#231f20">22495</text>
<text transform="translate(25.5,249.6) scale(0.86,1)" font-size="5.9" text-anchor="end" fill="#231f20">LA</text>
<text transform="translate(83.05,249.5) scale(0.88,1)" font-size="6" text-anchor="end" fill="#231f20">15897</text>
<text transform="translate(82.35,164.6) scale(0.88,1)" font-size="5.6" text-anchor="end" fill="#231f20">MFI:</text>
<line x1="30.7" y1="251.8" x2="30.7" y2="253.6" stroke="#111" stroke-width="0.6" stroke-linecap="butt"/>
<line x1="31.45" y1="251.8" x2="31.45" y2="253.6" stroke="#111" stroke-width="0.6" stroke-linecap="butt"/>
<line x1="32.2" y1="251.8" x2="32.2" y2="253.6" stroke="#111" stroke-width="0.6" stroke-linecap="butt"/>
<line x1="32.95" y1="251.8" x2="32.95" y2="253.6" stroke="#111" stroke-width="0.6" stroke-linecap="butt"/>
<line x1="33.7" y1="251.8" x2="33.7" y2="253.6" stroke="#111" stroke-width="0.6" stroke-linecap="butt"/>
<line x1="34.45" y1="251.8" x2="34.45" y2="253.6" stroke="#111" stroke-width="0.6" stroke-linecap="butt"/>
<line x1="36.3" y1="251.8" x2="36.3" y2="254.8" stroke="#111" stroke-width="0.7" stroke-linecap="butt"/>
<line x1="39.36" y1="251.8" x2="39.36" y2="253.5" stroke="#111" stroke-width="0.7" stroke-linecap="butt"/>
<line x1="41.16" y1="251.8" x2="41.16" y2="253.5" stroke="#111" stroke-width="0.7" stroke-linecap="butt"/>
<line x1="42.43" y1="251.8" x2="42.43" y2="253.5" stroke="#111" stroke-width="0.7" stroke-linecap="butt"/>
<line x1="43.41" y1="251.8" x2="43.41" y2="254" stroke="#111" stroke-width="0.7" stroke-linecap="butt"/>
<line x1="44.22" y1="251.8" x2="44.22" y2="253.5" stroke="#111" stroke-width="0.7" stroke-linecap="butt"/>
<line x1="44.9" y1="251.8" x2="44.9" y2="253.5" stroke="#111" stroke-width="0.7" stroke-linecap="butt"/>
<line x1="45.49" y1="251.8" x2="45.49" y2="253.5" stroke="#111" stroke-width="0.7" stroke-linecap="butt"/>
<line x1="46.01" y1="251.8" x2="46.01" y2="253.5" stroke="#111" stroke-width="0.7" stroke-linecap="butt"/>
<line x1="46.48" y1="251.8" x2="46.48" y2="254.8" stroke="#111" stroke-width="0.7" stroke-linecap="butt"/>
<line x1="49.54" y1="251.8" x2="49.54" y2="253.5" stroke="#111" stroke-width="0.7" stroke-linecap="butt"/>
<line x1="51.33" y1="251.8" x2="51.33" y2="253.5" stroke="#111" stroke-width="0.7" stroke-linecap="butt"/>
<line x1="52.61" y1="251.8" x2="52.61" y2="253.5" stroke="#111" stroke-width="0.7" stroke-linecap="butt"/>
<line x1="53.59" y1="251.8" x2="53.59" y2="254" stroke="#111" stroke-width="0.7" stroke-linecap="butt"/>
<line x1="54.4" y1="251.8" x2="54.4" y2="253.5" stroke="#111" stroke-width="0.7" stroke-linecap="butt"/>
<line x1="55.08" y1="251.8" x2="55.08" y2="253.5" stroke="#111" stroke-width="0.7" stroke-linecap="butt"/>
<line x1="55.67" y1="251.8" x2="55.67" y2="253.5" stroke="#111" stroke-width="0.7" stroke-linecap="butt"/>
<line x1="56.19" y1="251.8" x2="56.19" y2="253.5" stroke="#111" stroke-width="0.7" stroke-linecap="butt"/>
<line x1="56.66" y1="251.8" x2="56.66" y2="254.8" stroke="#111" stroke-width="0.7" stroke-linecap="butt"/>
<line x1="59.72" y1="251.8" x2="59.72" y2="253.5" stroke="#111" stroke-width="0.7" stroke-linecap="butt"/>
<line x1="61.51" y1="251.8" x2="61.51" y2="253.5" stroke="#111" stroke-width="0.7" stroke-linecap="butt"/>
<line x1="62.79" y1="251.8" x2="62.79" y2="253.5" stroke="#111" stroke-width="0.7" stroke-linecap="butt"/>
<line x1="63.77" y1="251.8" x2="63.77" y2="254" stroke="#111" stroke-width="0.7" stroke-linecap="butt"/>
<line x1="64.58" y1="251.8" x2="64.58" y2="253.5" stroke="#111" stroke-width="0.7" stroke-linecap="butt"/>
<line x1="65.26" y1="251.8" x2="65.26" y2="253.5" stroke="#111" stroke-width="0.7" stroke-linecap="butt"/>
<line x1="65.85" y1="251.8" x2="65.85" y2="253.5" stroke="#111" stroke-width="0.7" stroke-linecap="butt"/>
<line x1="66.37" y1="251.8" x2="66.37" y2="253.5" stroke="#111" stroke-width="0.7" stroke-linecap="butt"/>
<line x1="66.84" y1="251.8" x2="66.84" y2="254.8" stroke="#111" stroke-width="0.7" stroke-linecap="butt"/>
<line x1="69.9" y1="251.8" x2="69.9" y2="253.5" stroke="#111" stroke-width="0.7" stroke-linecap="butt"/>
<line x1="71.69" y1="251.8" x2="71.69" y2="253.5" stroke="#111" stroke-width="0.7" stroke-linecap="butt"/>
<line x1="72.96" y1="251.8" x2="72.96" y2="253.5" stroke="#111" stroke-width="0.7" stroke-linecap="butt"/>
<line x1="73.95" y1="251.8" x2="73.95" y2="254" stroke="#111" stroke-width="0.7" stroke-linecap="butt"/>
<line x1="74.76" y1="251.8" x2="74.76" y2="253.5" stroke="#111" stroke-width="0.7" stroke-linecap="butt"/>
<line x1="75.44" y1="251.8" x2="75.44" y2="253.5" stroke="#111" stroke-width="0.7" stroke-linecap="butt"/>
<line x1="76.03" y1="251.8" x2="76.03" y2="253.5" stroke="#111" stroke-width="0.7" stroke-linecap="butt"/>
<line x1="76.55" y1="251.8" x2="76.55" y2="253.5" stroke="#111" stroke-width="0.7" stroke-linecap="butt"/>
<line x1="77.02" y1="251.8" x2="77.02" y2="254.8" stroke="#111" stroke-width="0.7" stroke-linecap="butt"/>
<line x1="80.08" y1="251.8" x2="80.08" y2="253.5" stroke="#111" stroke-width="0.7" stroke-linecap="butt"/>
<line x1="81.87" y1="251.8" x2="81.87" y2="253.5" stroke="#111" stroke-width="0.7" stroke-linecap="butt"/>
<line x1="83.14" y1="251.8" x2="83.14" y2="253.5" stroke="#111" stroke-width="0.7" stroke-linecap="butt"/>
<line x1="84.13" y1="251.8" x2="84.13" y2="254" stroke="#111" stroke-width="0.7" stroke-linecap="butt"/>
<text transform="translate(57.2,263.3) scale(0.88,1)" font-size="6.6" text-anchor="middle" fill="#231f20">IFN-γ</text>
<path d="M187.95,190 L198,189.5 L198.4,189.38 L198.8,189.25 L199.2,189.18 L199.6,188.85 L200,188.66 L200.4,188.53 L200.8,188.55 L201.2,188.11 L201.6,187.82 L202,187.21 L202.4,185.23 L202.8,183.21 L203.2,181.45 L203.6,176.59 L204,172.33 L204.4,167.98 L204.8,164.31 L205.2,161.75 L205.6,162.13 L206,163.96 L206.4,167.63 L206.8,172.73 L207.2,176.53 L207.6,180.33 L208,183.57 L208.4,186.33 L208.8,188.25 L209.2,189.06 L209.6,189.42 L210,189.69 L210.4,189.83 L210.8,189.91 L211.2,189.94 L211.6,189.96 L212,189.98 L212.4,189.99 L212.8,189.99 L213.2,189.99 L213.6,190 L214,190 L214.4,190 L214.8,190 L215.2,190 L215.6,190 L216,190 L244.35,190 Z" fill="#d4808f" stroke="none" stroke-width="0" fill-opacity="0.85"/>
<path d="M187.95,190 L198,189.5 L198.4,189.38 L198.8,189.25 L199.2,189.18 L199.6,188.85 L200,188.66 L200.4,188.53 L200.8,188.55 L201.2,188.11 L201.6,187.82 L202,187.21 L202.4,185.23 L202.8,183.21 L203.2,181.45 L203.6,176.59 L204,172.33 L204.4,167.98 L204.8,164.31 L205.2,161.75 L205.6,162.13 L206,163.96 L206.4,167.63 L206.8,172.73 L207.2,176.53 L207.6,180.33 L208,183.57 L208.4,186.33 L208.8,188.25 L209.2,189.06 L209.6,189.42 L210,189.69 L210.4,189.83 L210.8,189.91 L211.2,189.94 L211.6,189.96 L212,189.98 L212.4,189.99 L212.8,189.99 L213.2,189.99 L213.6,190 L214,190 L214.4,190 L214.8,190 L215.2,190 L215.6,190 L216,190 L244.35,190" fill="none" stroke="#bb1740" stroke-width="0.95" stroke-linejoin="round"/>
<path d="M187.95,205.4 L196,205.03 L196.4,204.94 L196.8,204.84 L197.2,204.72 L197.6,204.6 L198,204.44 L198.4,204.42 L198.8,204.12 L199.2,203.81 L199.6,203.31 L200,203.17 L200.4,202.11 L200.8,200.96 L201.2,198.04 L201.6,195.45 L202,192.9 L202.4,188.07 L202.8,184.42 L203.2,181.65 L203.6,179.61 L204,179.5 L204.4,180.41 L204.8,181.68 L205.2,185.03 L205.6,188.2 L206,191.63 L206.4,195.22 L206.8,197.64 L207.2,200.06 L207.6,201.46 L208,203.14 L208.4,203.99 L208.8,204.62 L209.2,204.97 L209.6,205.17 L210,205.29 L210.4,205.34 L210.8,205.37 L211.2,205.39 L211.6,205.39 L212,205.4 L212.4,205.4 L212.8,205.4 L213.2,205.4 L213.6,205.4 L214,205.4 L244.35,205.4 Z" fill="#96a6c0" stroke="none" stroke-width="0" fill-opacity="0.85"/>
<path d="M187.95,205.4 L196,205.03 L196.4,204.94 L196.8,204.84 L197.2,204.72 L197.6,204.6 L198,204.44 L198.4,204.42 L198.8,204.12 L199.2,203.81 L199.6,203.31 L200,203.17 L200.4,202.11 L200.8,200.96 L201.2,198.04 L201.6,195.45 L202,192.9 L202.4,188.07 L202.8,184.42 L203.2,181.65 L203.6,179.61 L204,179.5 L204.4,180.41 L204.8,181.68 L205.2,185.03 L205.6,188.2 L206,191.63 L206.4,195.22 L206.8,197.64 L207.2,200.06 L207.6,201.46 L208,203.14 L208.4,203.99 L208.8,204.62 L209.2,204.97 L209.6,205.17 L210,205.29 L210.4,205.34 L210.8,205.37 L211.2,205.39 L211.6,205.39 L212,205.4 L212.4,205.4 L212.8,205.4 L213.2,205.4 L213.6,205.4 L214,205.4 L244.35,205.4" fill="none" stroke="#2f5590" stroke-width="0.95" stroke-linejoin="round"/>
<path d="M187.95,220.9 L195,220.64 L195.4,220.49 L195.8,220.29 L196.2,220.11 L196.6,219.84 L197,219.27 L197.4,218.82 L197.8,217.79 L198.2,217.18 L198.6,216.53 L199,215.82 L199.4,214.86 L199.8,214.51 L200.2,212.96 L200.6,211.73 L201,208.81 L201.4,207.3 L201.8,203.45 L202.2,201.29 L202.6,197.84 L203,196.4 L203.4,195.77 L203.8,196.16 L204.2,199.31 L204.6,202.38 L205,204.97 L205.4,209.13 L205.8,212.96 L206.2,214.63 L206.6,216.81 L207,219 L207.4,219.72 L207.8,220.27 L208.2,220.59 L208.6,220.75 L209,220.84 L209.4,220.87 L209.8,220.89 L210.2,220.9 L210.6,220.9 L211,220.9 L211.4,220.9 L211.8,220.9 L212.2,220.9 L212.6,220.9 L213,220.9 L244.35,220.9 Z" fill="#b5d6a5" stroke="none" stroke-width="0" fill-opacity="0.85"/>
<path d="M187.95,220.9 L195,220.64 L195.4,220.49 L195.8,220.29 L196.2,220.11 L196.6,219.84 L197,219.27 L197.4,218.82 L197.8,217.79 L198.2,217.18 L198.6,216.53 L199,215.82 L199.4,214.86 L199.8,214.51 L200.2,212.96 L200.6,211.73 L201,208.81 L201.4,207.3 L201.8,203.45 L202.2,201.29 L202.6,197.84 L203,196.4 L203.4,195.77 L203.8,196.16 L204.2,199.31 L204.6,202.38 L205,204.97 L205.4,209.13 L205.8,212.96 L206.2,214.63 L206.6,216.81 L207,219 L207.4,219.72 L207.8,220.27 L208.2,220.59 L208.6,220.75 L209,220.84 L209.4,220.87 L209.8,220.89 L210.2,220.9 L210.6,220.9 L211,220.9 L211.4,220.9 L211.8,220.9 L212.2,220.9 L212.6,220.9 L213,220.9 L244.35,220.9" fill="none" stroke="#6cb34d" stroke-width="0.95" stroke-linejoin="round"/>
<path d="M187.95,236.4 L198,236.35 L198.4,236.32 L198.8,236.27 L199.2,236.2 L199.6,236.1 L200,235.97 L200.4,235.79 L200.8,235.65 L201.2,235.24 L201.6,235.14 L202,234.49 L202.4,234.01 L202.8,232.84 L203.2,230.8 L203.6,227.45 L204,223.83 L204.4,219.83 L204.8,214.67 L205.2,210.8 L205.6,207.72 L206,207.93 L206.4,209.79 L206.8,212.96 L207.2,217.06 L207.6,221.06 L208,225.24 L208.4,229.28 L208.8,231.2 L209.2,233.51 L209.6,234.62 L210,235.5 L210.4,235.96 L210.8,236.19 L211.2,236.31 L211.6,236.36 L212,236.38 L212.4,236.39 L212.8,236.4 L213.2,236.4 L213.6,236.4 L214,236.4 L244.35,236.4 Z" fill="#a28cbc" stroke="none" stroke-width="0" fill-opacity="0.85"/>
<path d="M187.95,236.4 L198,236.35 L198.4,236.32 L198.8,236.27 L199.2,236.2 L199.6,236.1 L200,235.97 L200.4,235.79 L200.8,235.65 L201.2,235.24 L201.6,235.14 L202,234.49 L202.4,234.01 L202.8,232.84 L203.2,230.8 L203.6,227.45 L204,223.83 L204.4,219.83 L204.8,214.67 L205.2,210.8 L205.6,207.72 L206,207.93 L206.4,209.79 L206.8,212.96 L207.2,217.06 L207.6,221.06 L208,225.24 L208.4,229.28 L208.8,231.2 L209.2,233.51 L209.6,234.62 L210,235.5 L210.4,235.96 L210.8,236.19 L211.2,236.31 L211.6,236.36 L212,236.38 L212.4,236.39 L212.8,236.4 L213.2,236.4 L213.6,236.4 L214,236.4 L244.35,236.4" fill="none" stroke="#4f2a78" stroke-width="0.95" stroke-linejoin="round"/>
<path d="M187.95,251.8 L199,251.8 L199.4,251.8 L199.8,251.8 L200.2,251.8 L200.6,251.79 L201,251.79 L201.4,251.77 L201.8,251.75 L202.2,251.7 L202.6,251.61 L203,251.45 L203.4,251.15 L203.8,250.79 L204.2,250.02 L204.6,248.24 L205,247.03 L205.4,244.78 L205.8,241.19 L206.2,238.04 L206.6,235.1 L207,231.24 L207.4,228.16 L207.8,226.45 L208.2,224.29 L208.6,224.06 L209,223.6 L209.4,224.31 L209.8,225.14 L210.2,225.72 L210.6,228.42 L211,230.14 L211.4,233.52 L211.8,236.16 L212.2,238.65 L212.6,241.51 L213,244.54 L213.4,245.96 L213.8,247.52 L214.2,249.21 L214.6,250.11 L215,250.41 L215.4,251.01 L215.8,251.32 L216.2,251.52 L216.6,251.64 L217,251.71 L217.4,251.75 L217.8,251.78 L244.35,251.8 Z" fill="#f2c98a" stroke="none" stroke-width="0" fill-opacity="0.85"/>
<path d="M187.95,251.8 L199,251.8 L199.4,251.8 L199.8,251.8 L200.2,251.8 L200.6,251.79 L201,251.79 L201.4,251.77 L201.8,251.75 L202.2,251.7 L202.6,251.61 L203,251.45 L203.4,251.15 L203.8,250.79 L204.2,250.02 L204.6,248.24 L205,247.03 L205.4,244.78 L205.8,241.19 L206.2,238.04 L206.6,235.1 L207,231.24 L207.4,228.16 L207.8,226.45 L208.2,224.29 L208.6,224.06 L209,223.6 L209.4,224.31 L209.8,225.14 L210.2,225.72 L210.6,228.42 L211,230.14 L211.4,233.52 L211.8,236.16 L212.2,238.65 L212.6,241.51 L213,244.54 L213.4,245.96 L213.8,247.52 L214.2,249.21 L214.6,250.11 L215,250.41 L215.4,251.01 L215.8,251.32 L216.2,251.52 L216.6,251.64 L217,251.71 L217.4,251.75 L217.8,251.78 L244.35,251.8" fill="none" stroke="#eba12a" stroke-width="0.95" stroke-linejoin="round"/>
<rect x="187.95" y="157.5" width="56.4" height="94.3" fill="none" stroke="#111" stroke-width="1.35"/>
<text transform="translate(184.55,187.8) scale(0.86,1)" font-size="5.9" text-anchor="end" fill="#231f20">BSA</text>
<text transform="translate(242.05,187.7) scale(0.88,1)" font-size="6" text-anchor="end" fill="#231f20">2241</text>
<text transform="translate(184.55,203.2) scale(0.86,1)" font-size="5.9" text-anchor="end" fill="#231f20">PA</text>
<text transform="translate(242.05,203.1) scale(0.88,1)" font-size="6" text-anchor="end" fill="#231f20">1320</text>
<text transform="translate(184.55,218.7) scale(0.86,1)" font-size="5.9" text-anchor="end" fill="#231f20">SA</text>
<text transform="translate(242.05,218.6) scale(0.88,1)" font-size="6" text-anchor="end" fill="#231f20">1258</text>
<text transform="translate(184.55,234.2) scale(0.86,1)" font-size="5.9" text-anchor="end" fill="#231f20">OA</text>
<text transform="translate(242.05,234.1) scale(0.88,1)" font-size="6" text-anchor="end" fill="#231f20">2948</text>
<text transform="translate(184.55,249.6) scale(0.86,1)" font-size="5.9" text-anchor="end" fill="#231f20">LA</text>
<text transform="translate(242.05,249.5) scale(0.88,1)" font-size="6" text-anchor="end" fill="#231f20">5824</text>
<text transform="translate(241.35,164.6) scale(0.88,1)" font-size="5.6" text-anchor="end" fill="#231f20">MFI:</text>
<line x1="189.75" y1="251.8" x2="189.75" y2="253.6" stroke="#111" stroke-width="0.6" stroke-linecap="butt"/>
<line x1="190.5" y1="251.8" x2="190.5" y2="253.6" stroke="#111" stroke-width="0.6" stroke-linecap="butt"/>
<line x1="191.25" y1="251.8" x2="191.25" y2="253.6" stroke="#111" stroke-width="0.6" stroke-linecap="butt"/>
<line x1="192" y1="251.8" x2="192" y2="253.6" stroke="#111" stroke-width="0.6" stroke-linecap="butt"/>
<line x1="192.75" y1="251.8" x2="192.75" y2="253.6" stroke="#111" stroke-width="0.6" stroke-linecap="butt"/>
<line x1="193.5" y1="251.8" x2="193.5" y2="253.6" stroke="#111" stroke-width="0.6" stroke-linecap="butt"/>
<line x1="195.34" y1="251.8" x2="195.34" y2="254.8" stroke="#111" stroke-width="0.7" stroke-linecap="butt"/>
<line x1="198.4" y1="251.8" x2="198.4" y2="253.5" stroke="#111" stroke-width="0.7" stroke-linecap="butt"/>
<line x1="200.2" y1="251.8" x2="200.2" y2="253.5" stroke="#111" stroke-width="0.7" stroke-linecap="butt"/>
<line x1="201.47" y1="251.8" x2="201.47" y2="253.5" stroke="#111" stroke-width="0.7" stroke-linecap="butt"/>
<line x1="202.45" y1="251.8" x2="202.45" y2="254" stroke="#111" stroke-width="0.7" stroke-linecap="butt"/>
<line x1="203.26" y1="251.8" x2="203.26" y2="253.5" stroke="#111" stroke-width="0.7" stroke-linecap="butt"/>
<line x1="203.94" y1="251.8" x2="203.94" y2="253.5" stroke="#111" stroke-width="0.7" stroke-linecap="butt"/>
<line x1="204.53" y1="251.8" x2="204.53" y2="253.5" stroke="#111" stroke-width="0.7" stroke-linecap="butt"/>
<line x1="205.05" y1="251.8" x2="205.05" y2="253.5" stroke="#111" stroke-width="0.7" stroke-linecap="butt"/>
<line x1="205.51" y1="251.8" x2="205.51" y2="254.8" stroke="#111" stroke-width="0.7" stroke-linecap="butt"/>
<line x1="208.57" y1="251.8" x2="208.57" y2="253.5" stroke="#111" stroke-width="0.7" stroke-linecap="butt"/>
<line x1="210.37" y1="251.8" x2="210.37" y2="253.5" stroke="#111" stroke-width="0.7" stroke-linecap="butt"/>
<line x1="211.64" y1="251.8" x2="211.64" y2="253.5" stroke="#111" stroke-width="0.7" stroke-linecap="butt"/>
<line x1="212.62" y1="251.8" x2="212.62" y2="254" stroke="#111" stroke-width="0.7" stroke-linecap="butt"/>
<line x1="213.43" y1="251.8" x2="213.43" y2="253.5" stroke="#111" stroke-width="0.7" stroke-linecap="butt"/>
<line x1="214.11" y1="251.8" x2="214.11" y2="253.5" stroke="#111" stroke-width="0.7" stroke-linecap="butt"/>
<line x1="214.7" y1="251.8" x2="214.7" y2="253.5" stroke="#111" stroke-width="0.7" stroke-linecap="butt"/>
<line x1="215.22" y1="251.8" x2="215.22" y2="253.5" stroke="#111" stroke-width="0.7" stroke-linecap="butt"/>
<line x1="215.68" y1="251.8" x2="215.68" y2="254.8" stroke="#111" stroke-width="0.7" stroke-linecap="butt"/>
<line x1="218.74" y1="251.8" x2="218.74" y2="253.5" stroke="#111" stroke-width="0.7" stroke-linecap="butt"/>
<line x1="220.54" y1="251.8" x2="220.54" y2="253.5" stroke="#111" stroke-width="0.7" stroke-linecap="butt"/>
<line x1="221.81" y1="251.8" x2="221.81" y2="253.5" stroke="#111" stroke-width="0.7" stroke-linecap="butt"/>
<line x1="222.79" y1="251.8" x2="222.79" y2="254" stroke="#111" stroke-width="0.7" stroke-linecap="butt"/>
<line x1="223.6" y1="251.8" x2="223.6" y2="253.5" stroke="#111" stroke-width="0.7" stroke-linecap="butt"/>
<line x1="224.28" y1="251.8" x2="224.28" y2="253.5" stroke="#111" stroke-width="0.7" stroke-linecap="butt"/>
<line x1="224.87" y1="251.8" x2="224.87" y2="253.5" stroke="#111" stroke-width="0.7" stroke-linecap="butt"/>
<line x1="225.39" y1="251.8" x2="225.39" y2="253.5" stroke="#111" stroke-width="0.7" stroke-linecap="butt"/>
<line x1="225.85" y1="251.8" x2="225.85" y2="254.8" stroke="#111" stroke-width="0.7" stroke-linecap="butt"/>
<line x1="228.91" y1="251.8" x2="228.91" y2="253.5" stroke="#111" stroke-width="0.7" stroke-linecap="butt"/>
<line x1="230.71" y1="251.8" x2="230.71" y2="253.5" stroke="#111" stroke-width="0.7" stroke-linecap="butt"/>
<line x1="231.98" y1="251.8" x2="231.98" y2="253.5" stroke="#111" stroke-width="0.7" stroke-linecap="butt"/>
<line x1="232.96" y1="251.8" x2="232.96" y2="254" stroke="#111" stroke-width="0.7" stroke-linecap="butt"/>
<line x1="233.77" y1="251.8" x2="233.77" y2="253.5" stroke="#111" stroke-width="0.7" stroke-linecap="butt"/>
<line x1="234.45" y1="251.8" x2="234.45" y2="253.5" stroke="#111" stroke-width="0.7" stroke-linecap="butt"/>
<line x1="235.04" y1="251.8" x2="235.04" y2="253.5" stroke="#111" stroke-width="0.7" stroke-linecap="butt"/>
<line x1="235.56" y1="251.8" x2="235.56" y2="253.5" stroke="#111" stroke-width="0.7" stroke-linecap="butt"/>
<line x1="236.02" y1="251.8" x2="236.02" y2="254.8" stroke="#111" stroke-width="0.7" stroke-linecap="butt"/>
<line x1="239.08" y1="251.8" x2="239.08" y2="253.5" stroke="#111" stroke-width="0.7" stroke-linecap="butt"/>
<line x1="240.87" y1="251.8" x2="240.87" y2="253.5" stroke="#111" stroke-width="0.7" stroke-linecap="butt"/>
<line x1="242.15" y1="251.8" x2="242.15" y2="253.5" stroke="#111" stroke-width="0.7" stroke-linecap="butt"/>
<line x1="243.13" y1="251.8" x2="243.13" y2="254" stroke="#111" stroke-width="0.7" stroke-linecap="butt"/>
<text transform="translate(216,263.3) scale(0.88,1)" font-size="6.6" text-anchor="middle" fill="#231f20">TNF</text>
<path d="M347.3,190 L352,189.99 L352.45,189.98 L352.9,189.96 L353.35,189.94 L353.8,189.9 L354.25,189.85 L354.7,189.78 L355.15,189.67 L355.6,189.53 L356.05,189.35 L356.5,189.13 L356.95,188.59 L357.4,188.64 L357.85,188.09 L358.3,187.02 L358.75,186.87 L359.2,186.53 L359.65,185.66 L360.1,184.06 L360.55,184.06 L361,183.13 L361.45,182.06 L361.9,181.05 L362.35,180.75 L362.8,180.63 L363.25,179.27 L363.7,179.37 L364.15,178.64 L364.6,177.84 L365.05,176.44 L365.5,176.28 L365.95,174.94 L366.4,174.87 L366.85,174.1 L367.3,173.39 L367.75,171.61 L368.2,170.64 L368.65,170.86 L369.1,170.29 L369.55,170.22 L370,169.13 L370.45,169.61 L370.9,170.67 L371.35,171.88 L371.8,174.66 L372.25,177.95 L372.7,181.41 L373.15,183.41 L373.6,185.69 L374.05,187.43 L374.5,188.65 L374.95,189.03 L375.4,189.57 L375.85,189.79 L376.3,189.9 L376.75,189.96 L377.2,189.98 L377.65,189.99 L378.1,190 L378.55,190 L379,190 L379.45,190 L379.9,190 L403.1,190 Z" fill="#d4808f" stroke="none" stroke-width="0" fill-opacity="0.85"/>
<path d="M347.3,190 L352,189.99 L352.45,189.98 L352.9,189.96 L353.35,189.94 L353.8,189.9 L354.25,189.85 L354.7,189.78 L355.15,189.67 L355.6,189.53 L356.05,189.35 L356.5,189.13 L356.95,188.59 L357.4,188.64 L357.85,188.09 L358.3,187.02 L358.75,186.87 L359.2,186.53 L359.65,185.66 L360.1,184.06 L360.55,184.06 L361,183.13 L361.45,182.06 L361.9,181.05 L362.35,180.75 L362.8,180.63 L363.25,179.27 L363.7,179.37 L364.15,178.64 L364.6,177.84 L365.05,176.44 L365.5,176.28 L365.95,174.94 L366.4,174.87 L366.85,174.1 L367.3,173.39 L367.75,171.61 L368.2,170.64 L368.65,170.86 L369.1,170.29 L369.55,170.22 L370,169.13 L370.45,169.61 L370.9,170.67 L371.35,171.88 L371.8,174.66 L372.25,177.95 L372.7,181.41 L373.15,183.41 L373.6,185.69 L374.05,187.43 L374.5,188.65 L374.95,189.03 L375.4,189.57 L375.85,189.79 L376.3,189.9 L376.75,189.96 L377.2,189.98 L377.65,189.99 L378.1,190 L378.55,190 L379,190 L379.45,190 L379.9,190 L403.1,190" fill="none" stroke="#bb1740" stroke-width="0.95" stroke-linejoin="round"/>
<path d="M347.3,205.4 L348,205.4 L348.45,205.4 L348.9,205.4 L349.35,205.4 L349.8,205.4 L350.25,205.4 L350.7,205.39 L351.15,205.38 L351.6,205.37 L352.05,205.35 L352.5,205.31 L352.95,205.25 L353.4,205.15 L353.85,205.01 L354.3,204.78 L354.75,204.54 L355.2,204.13 L355.65,203.69 L356.1,202.01 L356.55,201.09 L357,199.54 L357.45,198.25 L357.9,197.15 L358.35,194.56 L358.8,191.98 L359.25,190.08 L359.7,186.49 L360.15,185.05 L360.6,183.39 L361.05,180.9 L361.5,180.83 L361.95,179.23 L362.4,179.97 L362.85,180.39 L363.3,181.69 L363.75,182.86 L364.2,184.91 L364.65,186.94 L365.1,187.69 L365.55,190.48 L366,191.56 L366.45,194.09 L366.9,194.61 L367.35,196.15 L367.8,197.63 L368.25,198.75 L368.7,200 L369.15,200.66 L369.6,202.22 L370.05,202.42 L370.5,202.69 L370.95,203.66 L371.4,203.65 L371.85,204.06 L372.3,204.53 L372.75,204.73 L373.2,204.91 L373.65,205.05 L374.1,205.15 L374.55,205.23 L375,205.28 L375.45,205.32 L375.9,205.35 L403.1,205.4 Z" fill="#96a6c0" stroke="none" stroke-width="0" fill-opacity="0.85"/>
<path d="M347.3,205.4 L348,205.4 L348.45,205.4 L348.9,205.4 L349.35,205.4 L349.8,205.4 L350.25,205.4 L350.7,205.39 L351.15,205.38 L351.6,205.37 L352.05,205.35 L352.5,205.31 L352.95,205.25 L353.4,205.15 L353.85,205.01 L354.3,204.78 L354.75,204.54 L355.2,204.13 L355.65,203.69 L356.1,202.01 L356.55,201.09 L357,199.54 L357.45,198.25 L357.9,197.15 L358.35,194.56 L358.8,191.98 L359.25,190.08 L359.7,186.49 L360.15,185.05 L360.6,183.39 L361.05,180.9 L361.5,180.83 L361.95,179.23 L362.4,179.97 L362.85,180.39 L363.3,181.69 L363.75,182.86 L364.2,184.91 L364.65,186.94 L365.1,187.69 L365.55,190.48 L366,191.56 L366.45,194.09 L366.9,194.61 L367.35,196.15 L367.8,197.63 L368.25,198.75 L368.7,200 L369.15,200.66 L369.6,202.22 L370.05,202.42 L370.5,202.69 L370.95,203.66 L371.4,203.65 L371.85,204.06 L372.3,204.53 L372.75,204.73 L373.2,204.91 L373.65,205.05 L374.1,205.15 L374.55,205.23 L375,205.28 L375.45,205.32 L375.9,205.35 L403.1,205.4" fill="none" stroke="#2f5590" stroke-width="0.95" stroke-linejoin="round"/>
<path d="M347.3,220.9 L350,220.9 L350.45,220.9 L350.9,220.9 L351.35,220.9 L351.8,220.9 L352.25,220.9 L352.7,220.9 L353.15,220.9 L353.6,220.89 L354.05,220.87 L354.5,220.84 L354.95,220.76 L355.4,220.62 L355.85,220.35 L356.3,219.82 L356.75,218.87 L357.2,217.76 L357.65,216.96 L358.1,213.62 L358.55,211.36 L359,208.73 L359.45,205.79 L359.9,202.05 L360.35,200.24 L360.8,198.53 L361.25,198.64 L361.7,199.18 L362.15,201.31 L362.6,203.25 L363.05,205.78 L363.5,208.72 L363.95,210.03 L364.4,212.95 L364.85,213.99 L365.3,215.14 L365.75,216.69 L366.2,218.19 L366.65,218.27 L367.1,219.04 L367.55,219.76 L368,220.15 L368.45,220.3 L368.9,220.51 L369.35,220.66 L369.8,220.76 L370.25,220.82 L370.7,220.86 L371.15,220.88 L371.6,220.89 L403.1,220.9 Z" fill="#b5d6a5" stroke="none" stroke-width="0" fill-opacity="0.85"/>
<path d="M347.3,220.9 L350,220.9 L350.45,220.9 L350.9,220.9 L351.35,220.9 L351.8,220.9 L352.25,220.9 L352.7,220.9 L353.15,220.9 L353.6,220.89 L354.05,220.87 L354.5,220.84 L354.95,220.76 L355.4,220.62 L355.85,220.35 L356.3,219.82 L356.75,218.87 L357.2,217.76 L357.65,216.96 L358.1,213.62 L358.55,211.36 L359,208.73 L359.45,205.79 L359.9,202.05 L360.35,200.24 L360.8,198.53 L361.25,198.64 L361.7,199.18 L362.15,201.31 L362.6,203.25 L363.05,205.78 L363.5,208.72 L363.95,210.03 L364.4,212.95 L364.85,213.99 L365.3,215.14 L365.75,216.69 L366.2,218.19 L366.65,218.27 L367.1,219.04 L367.55,219.76 L368,220.15 L368.45,220.3 L368.9,220.51 L369.35,220.66 L369.8,220.76 L370.25,220.82 L370.7,220.86 L371.15,220.88 L371.6,220.89 L403.1,220.9" fill="none" stroke="#6cb34d" stroke-width="0.95" stroke-linejoin="round"/>
<path d="M347.3,236.4 L354,236.4 L356,236 L357.5,235 L358.5,233 L359.6,229 L360.6,225 L361.3,223 L362.5,222.2 L363.8,221 L365,219.6 L366.2,218.3 L367.2,216 L368,213.8 L368.8,215.2 L369.6,214.2 L370.4,215.4 L371.2,216.5 L372,218.5 L373,222.5 L374,227 L375,231 L376,234 L377.2,235.9 L379,236.4 L403.1,236.4 Z" fill="#a28cbc" stroke="none" stroke-width="0" fill-opacity="0.85"/>
<path d="M347.3,236.4 L354,236.4 L356,236 L357.5,235 L358.5,233 L359.6,229 L360.6,225 L361.3,223 L362.5,222.2 L363.8,221 L365,219.6 L366.2,218.3 L367.2,216 L368,213.8 L368.8,215.2 L369.6,214.2 L370.4,215.4 L371.2,216.5 L372,218.5 L373,222.5 L374,227 L375,231 L376,234 L377.2,235.9 L379,236.4 L403.1,236.4" fill="none" stroke="#4f2a78" stroke-width="0.95" stroke-linejoin="round"/>
<path d="M347.3,251.8 L354,251.78 L354.45,251.77 L354.9,251.76 L355.35,251.74 L355.8,251.72 L356.25,251.69 L356.7,251.64 L357.15,251.58 L357.6,251.49 L358.05,251.38 L358.5,251.24 L358.95,251.06 L359.4,250.84 L359.85,250.37 L360.3,249.89 L360.75,250 L361.2,249.17 L361.65,248.02 L362.1,247.46 L362.55,247 L363,246.21 L363.45,244.18 L363.9,244.15 L364.35,241.85 L364.8,240.27 L365.25,239.69 L365.7,237.85 L366.15,236.24 L366.6,234.28 L367.05,232.94 L367.5,230.7 L367.95,229.27 L368.4,228.9 L368.85,227.07 L369.3,227.43 L369.75,226.86 L370.2,225.8 L370.65,225.78 L371.1,227.09 L371.55,229.24 L372,232.56 L372.45,236.87 L372.9,239.65 L373.35,242.51 L373.8,246.29 L374.25,247.76 L374.7,249.55 L375.15,250.45 L375.6,250.93 L376.05,251.32 L376.5,251.55 L376.95,251.68 L377.4,251.74 L377.85,251.77 L378.3,251.79 L378.75,251.8 L379.2,251.8 L379.65,251.8 L380.1,251.8 L380.55,251.8 L381,251.8 L403.1,251.8 Z" fill="#f2c98a" stroke="none" stroke-width="0" fill-opacity="0.85"/>
<path d="M347.3,251.8 L354,251.78 L354.45,251.77 L354.9,251.76 L355.35,251.74 L355.8,251.72 L356.25,251.69 L356.7,251.64 L357.15,251.58 L357.6,251.49 L358.05,251.38 L358.5,251.24 L358.95,251.06 L359.4,250.84 L359.85,250.37 L360.3,249.89 L360.75,250 L361.2,249.17 L361.65,248.02 L362.1,247.46 L362.55,247 L363,246.21 L363.45,244.18 L363.9,244.15 L364.35,241.85 L364.8,240.27 L365.25,239.69 L365.7,237.85 L366.15,236.24 L366.6,234.28 L367.05,232.94 L367.5,230.7 L367.95,229.27 L368.4,228.9 L368.85,227.07 L369.3,227.43 L369.75,226.86 L370.2,225.8 L370.65,225.78 L371.1,227.09 L371.55,229.24 L372,232.56 L372.45,236.87 L372.9,239.65 L373.35,242.51 L373.8,246.29 L374.25,247.76 L374.7,249.55 L375.15,250.45 L375.6,250.93 L376.05,251.32 L376.5,251.55 L376.95,251.68 L377.4,251.74 L377.85,251.77 L378.3,251.79 L378.75,251.8 L379.2,251.8 L379.65,251.8 L380.1,251.8 L380.55,251.8 L381,251.8 L403.1,251.8" fill="none" stroke="#eba12a" stroke-width="0.95" stroke-linejoin="round"/>
<rect x="347.3" y="157.5" width="55.8" height="94.3" fill="none" stroke="#111" stroke-width="1.35"/>
<text transform="translate(343.9,187.8) scale(0.86,1)" font-size="5.9" text-anchor="end" fill="#231f20">BSA</text>
<text transform="translate(400.8,187.7) scale(0.88,1)" font-size="6" text-anchor="end" fill="#231f20">2241</text>
<text transform="translate(343.9,203.2) scale(0.86,1)" font-size="5.9" text-anchor="end" fill="#231f20">PA</text>
<text transform="translate(400.8,203.1) scale(0.88,1)" font-size="6" text-anchor="end" fill="#231f20">1320</text>
<text transform="translate(343.9,218.7) scale(0.86,1)" font-size="5.9" text-anchor="end" fill="#231f20">SA</text>
<text transform="translate(400.8,218.6) scale(0.88,1)" font-size="6" text-anchor="end" fill="#231f20">1258</text>
<text transform="translate(343.9,234.2) scale(0.86,1)" font-size="5.9" text-anchor="end" fill="#231f20">OA</text>
<text transform="translate(400.8,234.1) scale(0.88,1)" font-size="6" text-anchor="end" fill="#231f20">2948</text>
<text transform="translate(343.9,249.6) scale(0.86,1)" font-size="5.9" text-anchor="end" fill="#231f20">LA</text>
<text transform="translate(400.8,249.5) scale(0.88,1)" font-size="6" text-anchor="end" fill="#231f20">5824</text>
<text transform="translate(400.1,164.6) scale(0.88,1)" font-size="5.6" text-anchor="end" fill="#231f20">MFI:</text>
<line x1="349.1" y1="251.8" x2="349.1" y2="253.6" stroke="#111" stroke-width="0.6" stroke-linecap="butt"/>
<line x1="349.85" y1="251.8" x2="349.85" y2="253.6" stroke="#111" stroke-width="0.6" stroke-linecap="butt"/>
<line x1="350.6" y1="251.8" x2="350.6" y2="253.6" stroke="#111" stroke-width="0.6" stroke-linecap="butt"/>
<line x1="351.35" y1="251.8" x2="351.35" y2="253.6" stroke="#111" stroke-width="0.6" stroke-linecap="butt"/>
<line x1="352.1" y1="251.8" x2="352.1" y2="253.6" stroke="#111" stroke-width="0.6" stroke-linecap="butt"/>
<line x1="352.85" y1="251.8" x2="352.85" y2="253.6" stroke="#111" stroke-width="0.6" stroke-linecap="butt"/>
<line x1="354.63" y1="251.8" x2="354.63" y2="254.8" stroke="#111" stroke-width="0.7" stroke-linecap="butt"/>
<line x1="357.66" y1="251.8" x2="357.66" y2="253.5" stroke="#111" stroke-width="0.7" stroke-linecap="butt"/>
<line x1="359.43" y1="251.8" x2="359.43" y2="253.5" stroke="#111" stroke-width="0.7" stroke-linecap="butt"/>
<line x1="360.69" y1="251.8" x2="360.69" y2="253.5" stroke="#111" stroke-width="0.7" stroke-linecap="butt"/>
<line x1="361.66" y1="251.8" x2="361.66" y2="254" stroke="#111" stroke-width="0.7" stroke-linecap="butt"/>
<line x1="362.46" y1="251.8" x2="362.46" y2="253.5" stroke="#111" stroke-width="0.7" stroke-linecap="butt"/>
<line x1="363.13" y1="251.8" x2="363.13" y2="253.5" stroke="#111" stroke-width="0.7" stroke-linecap="butt"/>
<line x1="363.71" y1="251.8" x2="363.71" y2="253.5" stroke="#111" stroke-width="0.7" stroke-linecap="butt"/>
<line x1="364.23" y1="251.8" x2="364.23" y2="253.5" stroke="#111" stroke-width="0.7" stroke-linecap="butt"/>
<line x1="364.69" y1="251.8" x2="364.69" y2="254.8" stroke="#111" stroke-width="0.7" stroke-linecap="butt"/>
<line x1="367.72" y1="251.8" x2="367.72" y2="253.5" stroke="#111" stroke-width="0.7" stroke-linecap="butt"/>
<line x1="369.49" y1="251.8" x2="369.49" y2="253.5" stroke="#111" stroke-width="0.7" stroke-linecap="butt"/>
<line x1="370.74" y1="251.8" x2="370.74" y2="253.5" stroke="#111" stroke-width="0.7" stroke-linecap="butt"/>
<line x1="371.72" y1="251.8" x2="371.72" y2="254" stroke="#111" stroke-width="0.7" stroke-linecap="butt"/>
<line x1="372.51" y1="251.8" x2="372.51" y2="253.5" stroke="#111" stroke-width="0.7" stroke-linecap="butt"/>
<line x1="373.19" y1="251.8" x2="373.19" y2="253.5" stroke="#111" stroke-width="0.7" stroke-linecap="butt"/>
<line x1="373.77" y1="251.8" x2="373.77" y2="253.5" stroke="#111" stroke-width="0.7" stroke-linecap="butt"/>
<line x1="374.28" y1="251.8" x2="374.28" y2="253.5" stroke="#111" stroke-width="0.7" stroke-linecap="butt"/>
<line x1="374.74" y1="251.8" x2="374.74" y2="254.8" stroke="#111" stroke-width="0.7" stroke-linecap="butt"/>
<line x1="377.77" y1="251.8" x2="377.77" y2="253.5" stroke="#111" stroke-width="0.7" stroke-linecap="butt"/>
<line x1="379.54" y1="251.8" x2="379.54" y2="253.5" stroke="#111" stroke-width="0.7" stroke-linecap="butt"/>
<line x1="380.8" y1="251.8" x2="380.8" y2="253.5" stroke="#111" stroke-width="0.7" stroke-linecap="butt"/>
<line x1="381.77" y1="251.8" x2="381.77" y2="254" stroke="#111" stroke-width="0.7" stroke-linecap="butt"/>
<line x1="382.57" y1="251.8" x2="382.57" y2="253.5" stroke="#111" stroke-width="0.7" stroke-linecap="butt"/>
<line x1="383.24" y1="251.8" x2="383.24" y2="253.5" stroke="#111" stroke-width="0.7" stroke-linecap="butt"/>
<line x1="383.83" y1="251.8" x2="383.83" y2="253.5" stroke="#111" stroke-width="0.7" stroke-linecap="butt"/>
<line x1="384.34" y1="251.8" x2="384.34" y2="253.5" stroke="#111" stroke-width="0.7" stroke-linecap="butt"/>
<line x1="384.8" y1="251.8" x2="384.8" y2="254.8" stroke="#111" stroke-width="0.7" stroke-linecap="butt"/>
<line x1="387.83" y1="251.8" x2="387.83" y2="253.5" stroke="#111" stroke-width="0.7" stroke-linecap="butt"/>
<line x1="389.6" y1="251.8" x2="389.6" y2="253.5" stroke="#111" stroke-width="0.7" stroke-linecap="butt"/>
<line x1="390.86" y1="251.8" x2="390.86" y2="253.5" stroke="#111" stroke-width="0.7" stroke-linecap="butt"/>
<line x1="391.83" y1="251.8" x2="391.83" y2="254" stroke="#111" stroke-width="0.7" stroke-linecap="butt"/>
<line x1="392.63" y1="251.8" x2="392.63" y2="253.5" stroke="#111" stroke-width="0.7" stroke-linecap="butt"/>
<line x1="393.3" y1="251.8" x2="393.3" y2="253.5" stroke="#111" stroke-width="0.7" stroke-linecap="butt"/>
<line x1="393.88" y1="251.8" x2="393.88" y2="253.5" stroke="#111" stroke-width="0.7" stroke-linecap="butt"/>
<line x1="394.4" y1="251.8" x2="394.4" y2="253.5" stroke="#111" stroke-width="0.7" stroke-linecap="butt"/>
<line x1="394.86" y1="251.8" x2="394.86" y2="254.8" stroke="#111" stroke-width="0.7" stroke-linecap="butt"/>
<line x1="397.88" y1="251.8" x2="397.88" y2="253.5" stroke="#111" stroke-width="0.7" stroke-linecap="butt"/>
<line x1="399.66" y1="251.8" x2="399.66" y2="253.5" stroke="#111" stroke-width="0.7" stroke-linecap="butt"/>
<line x1="400.91" y1="251.8" x2="400.91" y2="253.5" stroke="#111" stroke-width="0.7" stroke-linecap="butt"/>
<line x1="401.89" y1="251.8" x2="401.89" y2="254" stroke="#111" stroke-width="0.7" stroke-linecap="butt"/>
<text transform="translate(375.4,263.3) scale(0.88,1)" font-size="6.6" text-anchor="middle" fill="#231f20">GzmB</text>
<text transform="translate(148,167.8) scale(0.9,1)" font-size="8.3" text-anchor="middle" fill="#231f20">IFN-γ</text>
<line x1="128.5" y1="174.3" x2="128.5" y2="235.3" stroke="#231f20" stroke-width="1.1" stroke-linecap="butt"/>
<line x1="127.95" y1="234.5" x2="165.5" y2="234.5" stroke="#231f20" stroke-width="1.1" stroke-linecap="butt"/>
<line x1="125.4" y1="234.5" x2="128.5" y2="234.5" stroke="#231f20" stroke-width="1" stroke-linecap="butt"/>
<text transform="translate(122.4,236.76) scale(0.98,1)" font-size="5.3" text-anchor="end" fill="#231f20" style="stroke-width:0.08px">0.0</text>
<line x1="125.4" y1="224.5" x2="128.5" y2="224.5" stroke="#231f20" stroke-width="1" stroke-linecap="butt"/>
<text transform="translate(122.4,226.93) scale(0.98,1)" font-size="5.3" text-anchor="end" fill="#231f20" style="stroke-width:0.08px">0.2</text>
<line x1="125.4" y1="215.5" x2="128.5" y2="215.5" stroke="#231f20" stroke-width="1" stroke-linecap="butt"/>
<text transform="translate(122.4,217.09) scale(0.98,1)" font-size="5.3" text-anchor="end" fill="#231f20" style="stroke-width:0.08px">0.4</text>
<line x1="125.4" y1="205.5" x2="128.5" y2="205.5" stroke="#231f20" stroke-width="1" stroke-linecap="butt"/>
<text transform="translate(122.4,207.26) scale(0.98,1)" font-size="5.3" text-anchor="end" fill="#231f20" style="stroke-width:0.08px">0.6</text>
<line x1="125.4" y1="195.5" x2="128.5" y2="195.5" stroke="#231f20" stroke-width="1" stroke-linecap="butt"/>
<text transform="translate(122.4,197.43) scale(0.98,1)" font-size="5.3" text-anchor="end" fill="#231f20" style="stroke-width:0.08px">0.8</text>
<line x1="125.4" y1="185.5" x2="128.5" y2="185.5" stroke="#231f20" stroke-width="1" stroke-linecap="butt"/>
<text transform="translate(122.4,187.59) scale(0.98,1)" font-size="5.3" text-anchor="end" fill="#231f20" style="stroke-width:0.08px">1.0</text>
<line x1="125.4" y1="175.5" x2="128.5" y2="175.5" stroke="#231f20" stroke-width="1" stroke-linecap="butt"/>
<text transform="translate(122.4,177.76) scale(0.98,1)" font-size="5.3" text-anchor="end" fill="#231f20" style="stroke-width:0.08px">1.2</text>
<text transform="translate(101,204) rotate(-90) scale(0.88,1)" font-size="6.6" text-anchor="middle" fill="#231f20">FC ΔMFI IFN-γ+ NK</text>
<text transform="translate(108,204) rotate(-90) scale(0.88,1)" font-size="6.6" text-anchor="middle" fill="#231f20">(vs BSA ctrl)</text>
<rect x="130.5" y="185.63" width="4.6" height="49.17" fill="#b00a2e" stroke="none" stroke-width="0"/>
<line x1="132.8" y1="185.63" x2="132.8" y2="184.65" stroke="#111" stroke-width="0.7" stroke-linecap="butt"/>
<line x1="131.6" y1="184.65" x2="134" y2="184.65" stroke="#111" stroke-width="0.7" stroke-linecap="butt"/>
<circle cx="131.9" cy="184.65" r="1.2" fill="#fff" stroke="#111" stroke-width="0.6"/>
<circle cx="132.8" cy="186.12" r="1.2" fill="#fff" stroke="#111" stroke-width="0.6"/>
<circle cx="133.7" cy="187.11" r="1.2" fill="#fff" stroke="#111" stroke-width="0.6"/>
<line x1="132.5" y1="234.8" x2="132.5" y2="237.7" stroke="#231f20" stroke-width="1" stroke-linecap="butt"/>
<rect x="137.45" y="217.1" width="4.6" height="17.7" fill="#2a4f95" stroke="none" stroke-width="0"/>
<line x1="139.75" y1="217.1" x2="139.75" y2="214.64" stroke="#111" stroke-width="0.7" stroke-linecap="butt"/>
<line x1="138.55" y1="214.64" x2="140.95" y2="214.64" stroke="#111" stroke-width="0.7" stroke-linecap="butt"/>
<circle cx="138.85" cy="211.2" r="1.2" fill="#fff" stroke="#111" stroke-width="0.6"/>
<circle cx="139.75" cy="216.12" r="1.2" fill="#fff" stroke="#111" stroke-width="0.6"/>
<circle cx="140.65" cy="218.08" r="1.2" fill="#fff" stroke="#111" stroke-width="0.6"/>
<circle cx="138.85" cy="219.56" r="1.2" fill="#fff" stroke="#111" stroke-width="0.6"/>
<line x1="139.5" y1="234.8" x2="139.5" y2="237.7" stroke="#231f20" stroke-width="1" stroke-linecap="butt"/>
<rect x="144.4" y="228.9" width="4.6" height="5.9" fill="#5cb83a" stroke="none" stroke-width="0"/>
<line x1="146.7" y1="228.9" x2="146.7" y2="227.43" stroke="#111" stroke-width="0.7" stroke-linecap="butt"/>
<line x1="145.5" y1="227.43" x2="147.9" y2="227.43" stroke="#111" stroke-width="0.7" stroke-linecap="butt"/>
<circle cx="145.8" cy="226.93" r="1.2" fill="#fff" stroke="#111" stroke-width="0.6"/>
<circle cx="146.7" cy="228.9" r="1.2" fill="#fff" stroke="#111" stroke-width="0.6"/>
<circle cx="147.6" cy="230.38" r="1.2" fill="#fff" stroke="#111" stroke-width="0.6"/>
<line x1="146.5" y1="234.8" x2="146.5" y2="237.7" stroke="#231f20" stroke-width="1" stroke-linecap="butt"/>
<rect x="151.35" y="195.96" width="4.6" height="38.84" fill="#4a1c6e" stroke="none" stroke-width="0"/>
<line x1="153.65" y1="195.96" x2="153.65" y2="192.03" stroke="#111" stroke-width="0.7" stroke-linecap="butt"/>
<line x1="152.45" y1="192.03" x2="154.85" y2="192.03" stroke="#111" stroke-width="0.7" stroke-linecap="butt"/>
<circle cx="152.75" cy="192.03" r="1.2" fill="#fff" stroke="#111" stroke-width="0.6"/>
<circle cx="153.65" cy="193.01" r="1.2" fill="#fff" stroke="#111" stroke-width="0.6"/>
<circle cx="154.55" cy="195.47" r="1.2" fill="#fff" stroke="#111" stroke-width="0.6"/>
<circle cx="152.75" cy="203.33" r="1.2" fill="#fff" stroke="#111" stroke-width="0.6"/>
<line x1="153.5" y1="234.8" x2="153.5" y2="237.7" stroke="#231f20" stroke-width="1" stroke-linecap="butt"/>
<rect x="158.3" y="198.91" width="4.6" height="35.89" fill="#e8941a" stroke="none" stroke-width="0"/>
<line x1="160.6" y1="198.91" x2="160.6" y2="194.98" stroke="#111" stroke-width="0.7" stroke-linecap="butt"/>
<line x1="159.4" y1="194.98" x2="161.8" y2="194.98" stroke="#111" stroke-width="0.7" stroke-linecap="butt"/>
<circle cx="159.7" cy="189.57" r="1.2" fill="#fff" stroke="#111" stroke-width="0.6"/>
<circle cx="160.6" cy="195.47" r="1.2" fill="#fff" stroke="#111" stroke-width="0.6"/>
<circle cx="161.5" cy="197.93" r="1.2" fill="#fff" stroke="#111" stroke-width="0.6"/>
<circle cx="159.7" cy="210.71" r="1.2" fill="#fff" stroke="#111" stroke-width="0.6"/>
<line x1="160.5" y1="234.8" x2="160.5" y2="237.7" stroke="#231f20" stroke-width="1" stroke-linecap="butt"/>
<text transform="translate(140.3,210.57)" font-size="5.6" text-anchor="middle" fill="#231f20">****</text>
<text transform="translate(146.8,225.57)" font-size="5.6" text-anchor="middle" fill="#231f20">****</text>
<text transform="translate(153.5,189.97)" font-size="5.6" text-anchor="middle" fill="#231f20">*</text>
<text transform="translate(160.8,187.47)" font-size="5.6" text-anchor="middle" fill="#231f20">**</text>
<text transform="translate(306.7,167.8) scale(0.9,1)" font-size="8.3" text-anchor="middle" fill="#231f20">TNF</text>
<line x1="287.5" y1="174.5" x2="287.5" y2="235.2" stroke="#231f20" stroke-width="1.1" stroke-linecap="butt"/>
<line x1="286.65" y1="234.5" x2="324.2" y2="234.5" stroke="#231f20" stroke-width="1.1" stroke-linecap="butt"/>
<line x1="284.1" y1="234.5" x2="287.2" y2="234.5" stroke="#231f20" stroke-width="1" stroke-linecap="butt"/>
<text transform="translate(281.1,236.66) scale(0.98,1)" font-size="5.3" text-anchor="end" fill="#231f20" style="stroke-width:0.08px">0.0</text>
<line x1="284.1" y1="222.5" x2="287.2" y2="222.5" stroke="#231f20" stroke-width="1" stroke-linecap="butt"/>
<text transform="translate(281.1,224.92) scale(0.98,1)" font-size="5.3" text-anchor="end" fill="#231f20" style="stroke-width:0.08px">0.5</text>
<line x1="284.1" y1="211.5" x2="287.2" y2="211.5" stroke="#231f20" stroke-width="1" stroke-linecap="butt"/>
<text transform="translate(281.1,213.18) scale(0.98,1)" font-size="5.3" text-anchor="end" fill="#231f20" style="stroke-width:0.08px">1.0</text>
<line x1="284.1" y1="199.5" x2="287.2" y2="199.5" stroke="#231f20" stroke-width="1" stroke-linecap="butt"/>
<text transform="translate(281.1,201.44) scale(0.98,1)" font-size="5.3" text-anchor="end" fill="#231f20" style="stroke-width:0.08px">1.5</text>
<line x1="284.1" y1="187.5" x2="287.2" y2="187.5" stroke="#231f20" stroke-width="1" stroke-linecap="butt"/>
<text transform="translate(281.1,189.7) scale(0.98,1)" font-size="5.3" text-anchor="end" fill="#231f20" style="stroke-width:0.08px">2.0</text>
<line x1="284.1" y1="176.5" x2="287.2" y2="176.5" stroke="#231f20" stroke-width="1" stroke-linecap="butt"/>
<text transform="translate(281.1,177.96) scale(0.98,1)" font-size="5.3" text-anchor="end" fill="#231f20" style="stroke-width:0.08px">2.5</text>
<text transform="translate(259.8,204) rotate(-90) scale(0.88,1)" font-size="6.6" text-anchor="middle" fill="#231f20">FC ΔMFI TNF</text>
<text transform="translate(268.1,204) rotate(-90) scale(0.88,1)" font-size="6.6" text-anchor="middle" fill="#231f20">(vs BSA ctrl)</text>
<rect x="289.9" y="211.22" width="4.4" height="23.48" fill="#b00a2e" stroke="none" stroke-width="0"/>
<line x1="292.1" y1="211.22" x2="292.1" y2="210.28" stroke="#111" stroke-width="0.7" stroke-linecap="butt"/>
<line x1="290.9" y1="210.28" x2="293.3" y2="210.28" stroke="#111" stroke-width="0.7" stroke-linecap="butt"/>
<circle cx="291.2" cy="209.34" r="1.2" fill="#fff" stroke="#111" stroke-width="0.6"/>
<circle cx="292.1" cy="210.75" r="1.2" fill="#fff" stroke="#111" stroke-width="0.6"/>
<circle cx="293" cy="211.92" r="1.2" fill="#fff" stroke="#111" stroke-width="0.6"/>
<line x1="292.5" y1="234.7" x2="292.5" y2="237.6" stroke="#231f20" stroke-width="1" stroke-linecap="butt"/>
<rect x="296.9" y="221.55" width="4.4" height="13.15" fill="#2a4f95" stroke="none" stroke-width="0"/>
<line x1="299.1" y1="221.55" x2="299.1" y2="220.38" stroke="#111" stroke-width="0.7" stroke-linecap="butt"/>
<line x1="297.9" y1="220.38" x2="300.3" y2="220.38" stroke="#111" stroke-width="0.7" stroke-linecap="butt"/>
<circle cx="298.2" cy="220.61" r="1.2" fill="#fff" stroke="#111" stroke-width="0.6"/>
<circle cx="299.1" cy="221.79" r="1.2" fill="#fff" stroke="#111" stroke-width="0.6"/>
<circle cx="300" cy="222.96" r="1.2" fill="#fff" stroke="#111" stroke-width="0.6"/>
<line x1="299.5" y1="234.7" x2="299.5" y2="237.6" stroke="#231f20" stroke-width="1" stroke-linecap="butt"/>
<rect x="303.9" y="228.36" width="4.4" height="6.34" fill="#5cb83a" stroke="none" stroke-width="0"/>
<line x1="306.1" y1="228.36" x2="306.1" y2="226.95" stroke="#111" stroke-width="0.7" stroke-linecap="butt"/>
<line x1="304.9" y1="226.95" x2="307.3" y2="226.95" stroke="#111" stroke-width="0.7" stroke-linecap="butt"/>
<circle cx="305.2" cy="225.78" r="1.2" fill="#fff" stroke="#111" stroke-width="0.6"/>
<circle cx="306.1" cy="227.66" r="1.2" fill="#fff" stroke="#111" stroke-width="0.6"/>
<circle cx="307" cy="229.53" r="1.2" fill="#fff" stroke="#111" stroke-width="0.6"/>
<circle cx="305.2" cy="231.18" r="1.2" fill="#fff" stroke="#111" stroke-width="0.6"/>
<line x1="306.5" y1="234.7" x2="306.5" y2="237.6" stroke="#231f20" stroke-width="1" stroke-linecap="butt"/>
<rect x="310.9" y="206.76" width="4.4" height="27.94" fill="#4a1c6e" stroke="none" stroke-width="0"/>
<line x1="313.1" y1="206.76" x2="313.1" y2="204.41" stroke="#111" stroke-width="0.7" stroke-linecap="butt"/>
<line x1="311.9" y1="204.41" x2="314.3" y2="204.41" stroke="#111" stroke-width="0.7" stroke-linecap="butt"/>
<circle cx="312.2" cy="202.3" r="1.2" fill="#fff" stroke="#111" stroke-width="0.6"/>
<circle cx="313.1" cy="203.47" r="1.2" fill="#fff" stroke="#111" stroke-width="0.6"/>
<circle cx="314" cy="206.99" r="1.2" fill="#fff" stroke="#111" stroke-width="0.6"/>
<circle cx="312.2" cy="210.75" r="1.2" fill="#fff" stroke="#111" stroke-width="0.6"/>
<line x1="313.5" y1="234.7" x2="313.5" y2="237.6" stroke="#231f20" stroke-width="1" stroke-linecap="butt"/>
<rect x="317.9" y="198.31" width="4.4" height="36.39" fill="#e8941a" stroke="none" stroke-width="0"/>
<line x1="320.1" y1="198.31" x2="320.1" y2="191.03" stroke="#111" stroke-width="0.7" stroke-linecap="butt"/>
<line x1="318.9" y1="191.03" x2="321.3" y2="191.03" stroke="#111" stroke-width="0.7" stroke-linecap="butt"/>
<circle cx="319.2" cy="184.22" r="1.2" fill="#fff" stroke="#111" stroke-width="0.6"/>
<circle cx="320.1" cy="187.27" r="1.2" fill="#fff" stroke="#111" stroke-width="0.6"/>
<circle cx="321" cy="210.75" r="1.2" fill="#fff" stroke="#111" stroke-width="0.6"/>
<circle cx="319.2" cy="211.69" r="1.2" fill="#fff" stroke="#111" stroke-width="0.6"/>
<line x1="320.5" y1="234.7" x2="320.5" y2="237.6" stroke="#231f20" stroke-width="1" stroke-linecap="butt"/>
<text transform="translate(299.2,214.5) scale(0.93,1)" font-size="5.6" text-anchor="middle" fill="#231f20">ns</text>
<text transform="translate(306,223.57)" font-size="5.6" text-anchor="middle" fill="#231f20">*</text>
<text transform="translate(313,197.3) scale(0.93,1)" font-size="5.6" text-anchor="middle" fill="#231f20">ns</text>
<text transform="translate(320,180.1) scale(0.93,1)" font-size="5.6" text-anchor="middle" fill="#231f20">ns</text>
<text transform="translate(466.2,167.8) scale(0.9,1)" font-size="8.3" text-anchor="middle" fill="#231f20">GzmB</text>
<line x1="446.5" y1="174.3" x2="446.5" y2="235.3" stroke="#231f20" stroke-width="1.1" stroke-linecap="butt"/>
<line x1="446.15" y1="234.5" x2="483.7" y2="234.5" stroke="#231f20" stroke-width="1.1" stroke-linecap="butt"/>
<line x1="443.6" y1="234.5" x2="446.7" y2="234.5" stroke="#231f20" stroke-width="1" stroke-linecap="butt"/>
<text transform="translate(440.6,236.76) scale(0.98,1)" font-size="5.3" text-anchor="end" fill="#231f20" style="stroke-width:0.08px">0.0</text>
<line x1="443.6" y1="215.5" x2="446.7" y2="215.5" stroke="#231f20" stroke-width="1" stroke-linecap="butt"/>
<text transform="translate(440.6,217.09) scale(0.98,1)" font-size="5.3" text-anchor="end" fill="#231f20" style="stroke-width:0.08px">0.5</text>
<line x1="443.6" y1="195.5" x2="446.7" y2="195.5" stroke="#231f20" stroke-width="1" stroke-linecap="butt"/>
<text transform="translate(440.6,197.43) scale(0.98,1)" font-size="5.3" text-anchor="end" fill="#231f20" style="stroke-width:0.08px">1.0</text>
<line x1="443.6" y1="175.5" x2="446.7" y2="175.5" stroke="#231f20" stroke-width="1" stroke-linecap="butt"/>
<text transform="translate(440.6,177.76) scale(0.98,1)" font-size="5.3" text-anchor="end" fill="#231f20" style="stroke-width:0.08px">1.5</text>
<text transform="translate(418.8,204) rotate(-90) scale(0.88,1)" font-size="6.6" text-anchor="middle" fill="#231f20">FC ΔMFI I GzmB</text>
<text transform="translate(427.8,204) rotate(-90) scale(0.88,1)" font-size="6.6" text-anchor="middle" fill="#231f20">(vs BSA ctrl)</text>
<rect x="449.4" y="196.65" width="4.5" height="38.15" fill="#b00a2e" stroke="none" stroke-width="0"/>
<line x1="451.65" y1="196.65" x2="451.65" y2="194.68" stroke="#111" stroke-width="0.7" stroke-linecap="butt"/>
<line x1="450.45" y1="194.68" x2="452.85" y2="194.68" stroke="#111" stroke-width="0.7" stroke-linecap="butt"/>
<circle cx="450.75" cy="189.57" r="1.2" fill="#fff" stroke="#111" stroke-width="0.6"/>
<circle cx="451.65" cy="194.68" r="1.2" fill="#fff" stroke="#111" stroke-width="0.6"/>
<circle cx="452.55" cy="196.25" r="1.2" fill="#fff" stroke="#111" stroke-width="0.6"/>
<circle cx="450.75" cy="200.19" r="1.2" fill="#fff" stroke="#111" stroke-width="0.6"/>
<line x1="451.5" y1="234.8" x2="451.5" y2="237.7" stroke="#231f20" stroke-width="1" stroke-linecap="butt"/>
<rect x="456.3" y="222.21" width="4.5" height="12.59" fill="#2a4f95" stroke="none" stroke-width="0"/>
<line x1="458.55" y1="222.21" x2="458.55" y2="219.07" stroke="#111" stroke-width="0.7" stroke-linecap="butt"/>
<line x1="457.35" y1="219.07" x2="459.75" y2="219.07" stroke="#111" stroke-width="0.7" stroke-linecap="butt"/>
<circle cx="457.65" cy="217.1" r="1.2" fill="#fff" stroke="#111" stroke-width="0.6"/>
<circle cx="458.55" cy="219.07" r="1.2" fill="#fff" stroke="#111" stroke-width="0.6"/>
<circle cx="459.45" cy="223.79" r="1.2" fill="#fff" stroke="#111" stroke-width="0.6"/>
<circle cx="457.65" cy="226.15" r="1.2" fill="#fff" stroke="#111" stroke-width="0.6"/>
<line x1="458.5" y1="234.8" x2="458.5" y2="237.7" stroke="#231f20" stroke-width="1" stroke-linecap="butt"/>
<rect x="463.2" y="228.9" width="4.5" height="5.9" fill="#5cb83a" stroke="none" stroke-width="0"/>
<line x1="465.45" y1="228.9" x2="465.45" y2="227.33" stroke="#111" stroke-width="0.7" stroke-linecap="butt"/>
<line x1="464.25" y1="227.33" x2="466.65" y2="227.33" stroke="#111" stroke-width="0.7" stroke-linecap="butt"/>
<circle cx="464.55" cy="224.18" r="1.2" fill="#fff" stroke="#111" stroke-width="0.6"/>
<circle cx="465.45" cy="228.9" r="1.2" fill="#fff" stroke="#111" stroke-width="0.6"/>
<circle cx="466.35" cy="230.08" r="1.2" fill="#fff" stroke="#111" stroke-width="0.6"/>
<line x1="465.5" y1="234.8" x2="465.5" y2="237.7" stroke="#231f20" stroke-width="1" stroke-linecap="butt"/>
<rect x="470.1" y="193.5" width="4.5" height="41.3" fill="#4a1c6e" stroke="none" stroke-width="0"/>
<line x1="472.35" y1="193.5" x2="472.35" y2="191.93" stroke="#111" stroke-width="0.7" stroke-linecap="butt"/>
<line x1="471.15" y1="191.93" x2="473.55" y2="191.93" stroke="#111" stroke-width="0.7" stroke-linecap="butt"/>
<circle cx="471.45" cy="190.75" r="1.2" fill="#fff" stroke="#111" stroke-width="0.6"/>
<circle cx="472.35" cy="192.32" r="1.2" fill="#fff" stroke="#111" stroke-width="0.6"/>
<circle cx="473.25" cy="193.89" r="1.2" fill="#fff" stroke="#111" stroke-width="0.6"/>
<circle cx="471.45" cy="194.68" r="1.2" fill="#fff" stroke="#111" stroke-width="0.6"/>
<line x1="472.5" y1="234.8" x2="472.5" y2="237.7" stroke="#231f20" stroke-width="1" stroke-linecap="butt"/>
<rect x="477" y="187.6" width="4.5" height="47.2" fill="#e8941a" stroke="none" stroke-width="0"/>
<line x1="479.25" y1="187.6" x2="479.25" y2="183.67" stroke="#111" stroke-width="0.7" stroke-linecap="butt"/>
<line x1="478.05" y1="183.67" x2="480.45" y2="183.67" stroke="#111" stroke-width="0.7" stroke-linecap="butt"/>
<circle cx="478.35" cy="181.7" r="1.2" fill="#fff" stroke="#111" stroke-width="0.6"/>
<circle cx="479.25" cy="183.67" r="1.2" fill="#fff" stroke="#111" stroke-width="0.6"/>
<circle cx="480.15" cy="188.39" r="1.2" fill="#fff" stroke="#111" stroke-width="0.6"/>
<circle cx="478.35" cy="196.25" r="1.2" fill="#fff" stroke="#111" stroke-width="0.6"/>
<line x1="479.5" y1="234.8" x2="479.5" y2="237.7" stroke="#231f20" stroke-width="1" stroke-linecap="butt"/>
<text transform="translate(458.7,215.97)" font-size="5.6" text-anchor="middle" fill="#231f20">****</text>
<text transform="translate(465.4,223.27)" font-size="5.6" text-anchor="middle" fill="#231f20">****</text>
<text transform="translate(472.1,187.7) scale(0.93,1)" font-size="5.6" text-anchor="middle" fill="#231f20">ns</text>
<text transform="translate(478.8,177.1) scale(0.93,1)" font-size="5.6" text-anchor="middle" fill="#231f20">ns</text>
<text transform="translate(134.55,244.8) rotate(-45) scale(0.9,1)" font-size="5.3" text-anchor="end" fill="#231f20" style="stroke-width:0.08px">BSA</text>
<text transform="translate(141.5,244.8) rotate(-45) scale(0.9,1)" font-size="5.3" text-anchor="end" fill="#231f20" style="stroke-width:0.08px">PA</text>
<text transform="translate(148.45,244.8) rotate(-45) scale(0.9,1)" font-size="5.3" text-anchor="end" fill="#231f20" style="stroke-width:0.08px">SA</text>
<text transform="translate(155.4,244.8) rotate(-45) scale(0.9,1)" font-size="5.3" text-anchor="end" fill="#231f20" style="stroke-width:0.08px">OA</text>
<text transform="translate(162.35,244.8) rotate(-45) scale(0.9,1)" font-size="5.3" text-anchor="end" fill="#231f20" style="stroke-width:0.08px">LA</text>
<text transform="translate(293.95,244.8) rotate(-45) scale(0.9,1)" font-size="5.3" text-anchor="end" fill="#231f20" style="stroke-width:0.08px">BSA</text>
<text transform="translate(300.95,244.8) rotate(-45) scale(0.9,1)" font-size="5.3" text-anchor="end" fill="#231f20" style="stroke-width:0.08px">PA</text>
<text transform="translate(307.95,244.8) rotate(-45) scale(0.9,1)" font-size="5.3" text-anchor="end" fill="#231f20" style="stroke-width:0.08px">SA</text>
<text transform="translate(314.95,244.8) rotate(-45) scale(0.9,1)" font-size="5.3" text-anchor="end" fill="#231f20" style="stroke-width:0.08px">OA</text>
<text transform="translate(321.95,244.8) rotate(-45) scale(0.9,1)" font-size="5.3" text-anchor="end" fill="#231f20" style="stroke-width:0.08px">LA</text>
<text transform="translate(453.45,244.8) rotate(-45) scale(0.9,1)" font-size="5.3" text-anchor="end" fill="#231f20" style="stroke-width:0.08px">BSA</text>
<text transform="translate(460.35,244.8) rotate(-45) scale(0.9,1)" font-size="5.3" text-anchor="end" fill="#231f20" style="stroke-width:0.08px">PA</text>
<text transform="translate(467.25,244.8) rotate(-45) scale(0.9,1)" font-size="5.3" text-anchor="end" fill="#231f20" style="stroke-width:0.08px">SA</text>
<text transform="translate(474.15,244.8) rotate(-45) scale(0.9,1)" font-size="5.3" text-anchor="end" fill="#231f20" style="stroke-width:0.08px">OA</text>
<text transform="translate(481.05,244.8) rotate(-45) scale(0.9,1)" font-size="5.3" text-anchor="end" fill="#231f20" style="stroke-width:0.08px">LA</text>
<path d="M57.9,317.3 L70,317.1 L70.4,317.04 L70.8,316.97 L71.2,316.88 L71.6,316.79 L72,316.68 L72.4,316.55 L72.8,316.41 L73.2,316.23 L73.6,316 L74,315.66 L74.4,315.15 L74.8,314.38 L75.2,313.24 L75.6,311.64 L76,309.53 L76.4,306.98 L76.8,304.15 L77.2,301.35 L77.6,298.97 L78,297.39 L78.4,296.91 L78.8,297.56 L79.2,299.17 L79.6,301.53 L80,304.29 L80.4,307.13 L80.8,309.76 L81.2,311.99 L81.6,313.76 L82,315.05 L82.4,315.93 L82.8,316.51 L83.2,316.86 L83.6,317.06 L84,317.17 L84.4,317.23 L84.8,317.26 L85.2,317.28 L85.6,317.29 L86,317.29 L86.4,317.3 L86.8,317.3 L87.2,317.3 L87.6,317.3 L88,317.3 L88.4,317.3 L88.8,317.3 L89.2,317.3 L89.6,317.3 L90,317.3 L136.85,317.3" fill="none" stroke="#4a5672" stroke-width="0.9" stroke-linejoin="round"/>
<path d="M57.9,327.4 L80.5,327.4 L82.5,326 L84.5,322.5 L86.5,320 L88,321.5 L90,322.3 L92,322 L94,321.6 L96,322.2 L98,321.3 L100,321.5 L102,320 L104,318.5 L105.8,317 L107.5,317.5 L109,315 L110.5,314.5 L112,312.5 L113.5,310.8 L115,312 L116.5,310.8 L118,312.5 L119.5,315.5 L121.5,320 L123.5,324.5 L125.8,327 L127,327.4 L136.85,327.4 Z" fill="#a8102e" stroke="none" stroke-width="0"/>
<path d="M57.9,327.4 L80.5,327.4 L82.5,326 L84.5,322.5 L86.5,320 L88,321.5 L90,322.3 L92,322 L94,321.6 L96,322.2 L98,321.3 L100,321.5 L102,320 L104,318.5 L105.8,317 L107.5,317.5 L109,315 L110.5,314.5 L112,312.5 L113.5,310.8 L115,312 L116.5,310.8 L118,312.5 L119.5,315.5 L121.5,320 L123.5,324.5 L125.8,327 L127,327.4 L136.85,327.4" fill="none" stroke="#a8102e" stroke-width="0.9" stroke-linejoin="round"/>
<path d="M57.9,337.9 L80.5,337.9 L82.5,337 L84,335 L86,334 L88,333.6 L90,334.2 L92,333.5 L93.5,334.5 L95,333.5 L97,334.3 L99,333.5 L101,333.2 L103,331.5 L104.5,330.5 L105.8,327.5 L107.5,326.5 L109,325.5 L111,323.8 L112.5,323.2 L114.2,323 L116,323.3 L118,325.5 L120,330 L122,334.5 L124.2,337.5 L125.5,337.9 L136.85,337.9 Z" fill="#2c5088" stroke="none" stroke-width="0"/>
<path d="M57.9,337.9 L80.5,337.9 L82.5,337 L84,335 L86,334 L88,333.6 L90,334.2 L92,333.5 L93.5,334.5 L95,333.5 L97,334.3 L99,333.5 L101,333.2 L103,331.5 L104.5,330.5 L105.8,327.5 L107.5,326.5 L109,325.5 L111,323.8 L112.5,323.2 L114.2,323 L116,323.3 L118,325.5 L120,330 L122,334.5 L124.2,337.5 L125.5,337.9 L136.85,337.9" fill="none" stroke="#2c5088" stroke-width="0.9" stroke-linejoin="round"/>
<path d="M57.9,348.3 L79.5,348.3 L81.5,347.5 L83.5,345 L85.5,343.8 L88,344 L90.5,344.6 L93,344.3 L95.5,343.8 L97.5,342 L99.6,340 L101.5,339 L103.5,336.5 L105,334 L107,333 L108.7,331 L110.7,330.3 L112.5,331 L114,332.5 L116,333.5 L118,336 L120,340 L122,344 L124,347.3 L125.5,348.3 L136.85,348.3 Z" fill="#68a94a" stroke="none" stroke-width="0"/>
<path d="M57.9,348.3 L79.5,348.3 L81.5,347.5 L83.5,345 L85.5,343.8 L88,344 L90.5,344.6 L93,344.3 L95.5,343.8 L97.5,342 L99.6,340 L101.5,339 L103.5,336.5 L105,334 L107,333 L108.7,331 L110.7,330.3 L112.5,331 L114,332.5 L116,333.5 L118,336 L120,340 L122,344 L124,347.3 L125.5,348.3 L136.85,348.3" fill="none" stroke="#68a94a" stroke-width="0.9" stroke-linejoin="round"/>
<path d="M57.9,358.9 L77.5,358.9 L79.5,358 L81.5,356 L83.5,353 L85.8,351.5 L88,350.5 L90.5,349 L93,348 L95.5,347 L98,345.5 L100.5,344.8 L102.5,343.2 L104.2,343 L106,343.8 L108,345 L110,345.5 L112,347 L114,349.5 L116,352.5 L118,355.8 L120,358 L121.5,358.9 L136.85,358.9 Z" fill="#4b2068" stroke="none" stroke-width="0"/>
<path d="M57.9,358.9 L77.5,358.9 L79.5,358 L81.5,356 L83.5,353 L85.8,351.5 L88,350.5 L90.5,349 L93,348 L95.5,347 L98,345.5 L100.5,344.8 L102.5,343.2 L104.2,343 L106,343.8 L108,345 L110,345.5 L112,347 L114,349.5 L116,352.5 L118,355.8 L120,358 L121.5,358.9 L136.85,358.9" fill="none" stroke="#4b2068" stroke-width="0.9" stroke-linejoin="round"/>
<path d="M57.9,368.8 L75.5,368.8 L77.5,366 L79.5,360 L81.5,356.8 L83.3,355.2 L85,354.3 L87,355.5 L89,356.2 L91,356.8 L93,355.8 L95,357 L97,356.2 L99,356.5 L101,357.5 L103,358.8 L105,360.3 L107,361.8 L109,363.5 L111,365.5 L113,367.2 L115,368.3 L116.5,368.8 L136.85,368.8 Z" fill="#e8951e" stroke="none" stroke-width="0"/>
<path d="M57.9,368.8 L75.5,368.8 L77.5,366 L79.5,360 L81.5,356.8 L83.3,355.2 L85,354.3 L87,355.5 L89,356.2 L91,356.8 L93,355.8 L95,357 L97,356.2 L99,356.5 L101,357.5 L103,358.8 L105,360.3 L107,361.8 L109,363.5 L111,365.5 L113,367.2 L115,368.3 L116.5,368.8 L136.85,368.8" fill="none" stroke="#e8951e" stroke-width="0.9" stroke-linejoin="round"/>
<rect x="57.9" y="294.4" width="78.95" height="74.4" fill="none" stroke="#111" stroke-width="1.35"/>
<text transform="translate(135.25,314.3) scale(0.86,1)" font-size="5" text-anchor="end" fill="#231f20" style="stroke-width:0.08px">882</text>
<text transform="translate(135.25,324.4) scale(0.86,1)" font-size="5" text-anchor="end" fill="#231f20" style="stroke-width:0.08px">26447</text>
<text transform="translate(135.25,334.9) scale(0.86,1)" font-size="5" text-anchor="end" fill="#231f20" style="stroke-width:0.08px">26546</text>
<text transform="translate(135.25,345.3) scale(0.86,1)" font-size="5" text-anchor="end" fill="#231f20" style="stroke-width:0.08px">26210</text>
<text transform="translate(135.25,355.9) scale(0.86,1)" font-size="5" text-anchor="end" fill="#231f20" style="stroke-width:0.08px">13607</text>
<text transform="translate(135.25,365.8) scale(0.86,1)" font-size="5" text-anchor="end" fill="#231f20" style="stroke-width:0.08px">5157</text>
<text transform="translate(134.55,302.6) scale(0.86,1)" font-size="5" text-anchor="end" fill="#231f20" style="stroke-width:0.08px">MFI:</text>
<text transform="translate(54.7,314.3) scale(0.88,1)" font-size="6" text-anchor="end" fill="#231f20">Isotype</text>
<text transform="translate(54.7,324.4) scale(0.88,1)" font-size="6" text-anchor="end" fill="#231f20">BSA</text>
<text transform="translate(54.7,334.9) scale(0.88,1)" font-size="6" text-anchor="end" fill="#231f20">10µM</text>
<text transform="translate(54.7,345.3) scale(0.88,1)" font-size="6" text-anchor="end" fill="#231f20">100µM</text>
<text transform="translate(54.7,355.9) scale(0.88,1)" font-size="6" text-anchor="end" fill="#231f20">500µM</text>
<text transform="translate(54.7,365.8) scale(0.88,1)" font-size="6" text-anchor="end" fill="#231f20">1000µM</text>
<line x1="59.7" y1="368.8" x2="59.7" y2="370.6" stroke="#111" stroke-width="0.6" stroke-linecap="butt"/>
<line x1="60.45" y1="368.8" x2="60.45" y2="370.6" stroke="#111" stroke-width="0.6" stroke-linecap="butt"/>
<line x1="61.2" y1="368.8" x2="61.2" y2="370.6" stroke="#111" stroke-width="0.6" stroke-linecap="butt"/>
<line x1="61.95" y1="368.8" x2="61.95" y2="370.6" stroke="#111" stroke-width="0.6" stroke-linecap="butt"/>
<line x1="62.7" y1="368.8" x2="62.7" y2="370.6" stroke="#111" stroke-width="0.6" stroke-linecap="butt"/>
<line x1="63.45" y1="368.8" x2="63.45" y2="370.6" stroke="#111" stroke-width="0.6" stroke-linecap="butt"/>
<line x1="69.96" y1="368.8" x2="69.96" y2="371.8" stroke="#111" stroke-width="0.7" stroke-linecap="butt"/>
<line x1="75.57" y1="368.8" x2="75.57" y2="370.5" stroke="#111" stroke-width="0.7" stroke-linecap="butt"/>
<line x1="78.85" y1="368.8" x2="78.85" y2="370.5" stroke="#111" stroke-width="0.7" stroke-linecap="butt"/>
<line x1="81.18" y1="368.8" x2="81.18" y2="370.5" stroke="#111" stroke-width="0.7" stroke-linecap="butt"/>
<line x1="82.99" y1="368.8" x2="82.99" y2="371" stroke="#111" stroke-width="0.7" stroke-linecap="butt"/>
<line x1="84.47" y1="368.8" x2="84.47" y2="370.5" stroke="#111" stroke-width="0.7" stroke-linecap="butt"/>
<line x1="85.71" y1="368.8" x2="85.71" y2="370.5" stroke="#111" stroke-width="0.7" stroke-linecap="butt"/>
<line x1="86.79" y1="368.8" x2="86.79" y2="370.5" stroke="#111" stroke-width="0.7" stroke-linecap="butt"/>
<line x1="87.75" y1="368.8" x2="87.75" y2="370.5" stroke="#111" stroke-width="0.7" stroke-linecap="butt"/>
<line x1="88.6" y1="368.8" x2="88.6" y2="371.8" stroke="#111" stroke-width="0.7" stroke-linecap="butt"/>
<line x1="94.21" y1="368.8" x2="94.21" y2="370.5" stroke="#111" stroke-width="0.7" stroke-linecap="butt"/>
<line x1="97.5" y1="368.8" x2="97.5" y2="370.5" stroke="#111" stroke-width="0.7" stroke-linecap="butt"/>
<line x1="99.83" y1="368.8" x2="99.83" y2="370.5" stroke="#111" stroke-width="0.7" stroke-linecap="butt"/>
<line x1="101.64" y1="368.8" x2="101.64" y2="371" stroke="#111" stroke-width="0.7" stroke-linecap="butt"/>
<line x1="103.11" y1="368.8" x2="103.11" y2="370.5" stroke="#111" stroke-width="0.7" stroke-linecap="butt"/>
<line x1="104.36" y1="368.8" x2="104.36" y2="370.5" stroke="#111" stroke-width="0.7" stroke-linecap="butt"/>
<line x1="105.44" y1="368.8" x2="105.44" y2="370.5" stroke="#111" stroke-width="0.7" stroke-linecap="butt"/>
<line x1="106.39" y1="368.8" x2="106.39" y2="370.5" stroke="#111" stroke-width="0.7" stroke-linecap="butt"/>
<line x1="107.25" y1="368.8" x2="107.25" y2="371.8" stroke="#111" stroke-width="0.7" stroke-linecap="butt"/>
<line x1="112.86" y1="368.8" x2="112.86" y2="370.5" stroke="#111" stroke-width="0.7" stroke-linecap="butt"/>
<line x1="116.14" y1="368.8" x2="116.14" y2="370.5" stroke="#111" stroke-width="0.7" stroke-linecap="butt"/>
<line x1="118.47" y1="368.8" x2="118.47" y2="370.5" stroke="#111" stroke-width="0.7" stroke-linecap="butt"/>
<line x1="120.28" y1="368.8" x2="120.28" y2="371" stroke="#111" stroke-width="0.7" stroke-linecap="butt"/>
<line x1="121.76" y1="368.8" x2="121.76" y2="370.5" stroke="#111" stroke-width="0.7" stroke-linecap="butt"/>
<line x1="123.01" y1="368.8" x2="123.01" y2="370.5" stroke="#111" stroke-width="0.7" stroke-linecap="butt"/>
<line x1="124.09" y1="368.8" x2="124.09" y2="370.5" stroke="#111" stroke-width="0.7" stroke-linecap="butt"/>
<line x1="125.04" y1="368.8" x2="125.04" y2="370.5" stroke="#111" stroke-width="0.7" stroke-linecap="butt"/>
<line x1="125.89" y1="368.8" x2="125.89" y2="371.8" stroke="#111" stroke-width="0.7" stroke-linecap="butt"/>
<line x1="131.51" y1="368.8" x2="131.51" y2="370.5" stroke="#111" stroke-width="0.7" stroke-linecap="butt"/>
<line x1="134.79" y1="368.8" x2="134.79" y2="370.5" stroke="#111" stroke-width="0.7" stroke-linecap="butt"/>
<text transform="translate(97.5,381.5) scale(0.88,1)" font-size="6.8" text-anchor="middle" fill="#231f20">IFN-γ</text>
<path d="M146.9,317.3 L150,317.3 L150.5,317.3 L151,317.3 L151.5,317.3 L152,317.3 L152.5,317.3 L153,317.29 L153.5,317.29 L154,317.29 L154.5,317.28 L155,317.28 L155.5,317.27 L156,317.27 L156.5,317.26 L157,317.25 L157.5,317.23 L158,317.21 L158.5,317.19 L159,317.16 L159.5,317.12 L160,317.07 L160.5,317.01 L161,316.91 L161.5,316.77 L162,316.57 L162.5,316.28 L163,315.87 L163.5,315.29 L164,314.52 L164.5,313.52 L165,312.26 L165.5,310.75 L166,309.03 L166.5,307.18 L167,305.29 L167.5,303.52 L168,302 L168.5,300.86 L169,300.22 L169.5,300.12 L170,300.5 L170.5,301.3 L171,302.45 L171.5,303.84 L172,305.36 L172.5,306.9 L173,308.37 L173.5,309.7 L174,310.85 L174.5,311.8 L175,312.56 L175.5,313.14 L176,313.57 L176.5,313.89 L177,314.12 L177.5,314.29 L178,314.42 L178.5,314.53 L179,314.62 L179.5,314.7 L180,314.79 L180.5,314.87 L181,314.95 L181.5,315.03 L182,315.12 L182.5,315.21 L183,315.3 L183.5,315.39 L184,315.48 L184.5,315.57 L185,315.66 L185.5,315.75 L186,315.84 L186.5,315.93 L187,316.01 L187.5,316.09 L188,316.17 L188.5,316.25 L189,316.33 L189.5,316.4 L190,316.47 L190.5,316.53 L191,316.59 L191.5,316.65 L192,316.71 L192.5,316.76 L193,316.81 L193.5,316.85 L194,316.89 L194.5,316.93 L195,316.97 L195.5,317 L196,317.03 L196.5,317.06 L197,317.09 L197.5,317.11 L198,317.13 L198.5,317.15 L199,317.17 L199.5,317.18 L200,317.2 L200.5,317.21 L201,317.22 L201.5,317.23 L202,317.24 L202.5,317.25 L203,317.26 L203.5,317.26 L204,317.27 L204.5,317.27 L205,317.28 L226.3,317.3" fill="none" stroke="#4a5672" stroke-width="0.9" stroke-linejoin="round"/>
<path d="M146.9,327.4 L170,327.4 L170.4,327.4 L170.8,327.4 L171.2,327.39 L171.6,327.39 L172,327.38 L172.4,327.36 L172.8,327.33 L173.2,327.27 L173.6,327.18 L174,327.04 L174.4,326.82 L174.8,326.47 L175.2,326.16 L175.6,325.46 L176,324.53 L176.4,323.74 L176.8,322.05 L177.2,320.59 L177.6,319.44 L178,317.65 L178.4,315.52 L178.8,313.55 L179.2,312.37 L179.6,311.29 L180,310.41 L180.4,310.38 L180.8,310.47 L181.2,310.94 L181.6,311.85 L182,313.24 L182.4,314.69 L182.8,316.27 L183.2,317.74 L183.6,319.41 L184,321.05 L184.4,321.9 L184.8,323.23 L185.2,324.19 L185.6,325.17 L186,325.57 L186.4,326.13 L186.8,326.61 L187.2,326.83 L187.6,327.03 L188,327.16 L188.4,327.25 L188.8,327.31 L189.2,327.34 L189.6,327.37 L190,327.38 L190.4,327.39 L190.8,327.39 L191.2,327.4 L191.6,327.4 L192,327.4 L192.4,327.4 L192.8,327.4 L193.2,327.4 L193.6,327.4 L194,327.4 L194.4,327.4 L194.8,327.4 L226.3,327.4 Z" fill="#a8102e" stroke="none" stroke-width="0"/>
<path d="M146.9,327.4 L170,327.4 L170.4,327.4 L170.8,327.4 L171.2,327.39 L171.6,327.39 L172,327.38 L172.4,327.36 L172.8,327.33 L173.2,327.27 L173.6,327.18 L174,327.04 L174.4,326.82 L174.8,326.47 L175.2,326.16 L175.6,325.46 L176,324.53 L176.4,323.74 L176.8,322.05 L177.2,320.59 L177.6,319.44 L178,317.65 L178.4,315.52 L178.8,313.55 L179.2,312.37 L179.6,311.29 L180,310.41 L180.4,310.38 L180.8,310.47 L181.2,310.94 L181.6,311.85 L182,313.24 L182.4,314.69 L182.8,316.27 L183.2,317.74 L183.6,319.41 L184,321.05 L184.4,321.9 L184.8,323.23 L185.2,324.19 L185.6,325.17 L186,325.57 L186.4,326.13 L186.8,326.61 L187.2,326.83 L187.6,327.03 L188,327.16 L188.4,327.25 L188.8,327.31 L189.2,327.34 L189.6,327.37 L190,327.38 L190.4,327.39 L190.8,327.39 L191.2,327.4 L191.6,327.4 L192,327.4 L192.4,327.4 L192.8,327.4 L193.2,327.4 L193.6,327.4 L194,327.4 L194.4,327.4 L194.8,327.4 L226.3,327.4" fill="none" stroke="#a8102e" stroke-width="0.9" stroke-linejoin="round"/>
<path d="M146.9,337.9 L170,337.9 L170.4,337.9 L170.8,337.9 L171.2,337.89 L171.6,337.89 L172,337.88 L172.4,337.86 L172.8,337.82 L173.2,337.76 L173.6,337.67 L174,337.52 L174.4,337.29 L174.8,336.97 L175.2,336.5 L175.6,335.76 L176,334.75 L176.4,333.6 L176.8,332.5 L177.2,330.98 L177.6,329.32 L178,327.56 L178.4,325.64 L178.8,323.55 L179.2,322.04 L179.6,320.75 L180,319.64 L180.4,319.58 L180.8,319.78 L181.2,320.6 L181.6,321.73 L182,322.86 L182.4,324.5 L182.8,325.94 L183.2,327.35 L183.6,329.21 L184,331.07 L184.4,332.06 L184.8,333.35 L185.2,334.45 L185.6,335.27 L186,336.03 L186.4,336.57 L186.8,337.03 L187.2,337.3 L187.6,337.5 L188,337.64 L188.4,337.74 L188.8,337.8 L189.2,337.84 L189.6,337.87 L190,337.88 L190.4,337.89 L190.8,337.89 L191.2,337.9 L191.6,337.9 L192,337.9 L192.4,337.9 L192.8,337.9 L193.2,337.9 L193.6,337.9 L194,337.9 L194.4,337.9 L194.8,337.9 L226.3,337.9 Z" fill="#2c5088" stroke="none" stroke-width="0"/>
<path d="M146.9,337.9 L170,337.9 L170.4,337.9 L170.8,337.9 L171.2,337.89 L171.6,337.89 L172,337.88 L172.4,337.86 L172.8,337.82 L173.2,337.76 L173.6,337.67 L174,337.52 L174.4,337.29 L174.8,336.97 L175.2,336.5 L175.6,335.76 L176,334.75 L176.4,333.6 L176.8,332.5 L177.2,330.98 L177.6,329.32 L178,327.56 L178.4,325.64 L178.8,323.55 L179.2,322.04 L179.6,320.75 L180,319.64 L180.4,319.58 L180.8,319.78 L181.2,320.6 L181.6,321.73 L182,322.86 L182.4,324.5 L182.8,325.94 L183.2,327.35 L183.6,329.21 L184,331.07 L184.4,332.06 L184.8,333.35 L185.2,334.45 L185.6,335.27 L186,336.03 L186.4,336.57 L186.8,337.03 L187.2,337.3 L187.6,337.5 L188,337.64 L188.4,337.74 L188.8,337.8 L189.2,337.84 L189.6,337.87 L190,337.88 L190.4,337.89 L190.8,337.89 L191.2,337.9 L191.6,337.9 L192,337.9 L192.4,337.9 L192.8,337.9 L193.2,337.9 L193.6,337.9 L194,337.9 L194.4,337.9 L194.8,337.9 L226.3,337.9" fill="none" stroke="#2c5088" stroke-width="0.9" stroke-linejoin="round"/>
<path d="M146.9,348.3 L168,348.3 L168.4,348.3 L168.8,348.3 L169.2,348.3 L169.6,348.3 L170,348.29 L170.4,348.28 L170.8,348.27 L171.2,348.25 L171.6,348.21 L172,348.15 L172.4,348.06 L172.8,347.92 L173.2,347.71 L173.6,347.4 L174,347.07 L174.4,346.41 L174.8,345.57 L175.2,344.77 L175.6,343.5 L176,342.18 L176.4,340.99 L176.8,338.85 L177.2,337.12 L177.6,335.45 L178,333.84 L178.4,331.75 L178.8,330.68 L179.2,329.61 L179.6,329.03 L180,329.12 L180.4,329.41 L180.8,330.53 L181.2,331.42 L181.6,333.04 L182,334.33 L182.4,336.06 L182.8,338.24 L183.2,339.87 L183.6,341.38 L184,342.32 L184.4,343.86 L184.8,344.8 L185.2,345.79 L185.6,346.4 L186,346.96 L186.4,347.36 L186.8,347.64 L187.2,347.85 L187.6,348.01 L188,348.11 L188.4,348.18 L188.8,348.23 L189.2,348.26 L189.6,348.27 L190,348.28 L190.4,348.29 L190.8,348.3 L191.2,348.3 L191.6,348.3 L192,348.3 L192.4,348.3 L192.8,348.3 L226.3,348.3 Z" fill="#68a94a" stroke="none" stroke-width="0"/>
<path d="M146.9,348.3 L168,348.3 L168.4,348.3 L168.8,348.3 L169.2,348.3 L169.6,348.3 L170,348.29 L170.4,348.28 L170.8,348.27 L171.2,348.25 L171.6,348.21 L172,348.15 L172.4,348.06 L172.8,347.92 L173.2,347.71 L173.6,347.4 L174,347.07 L174.4,346.41 L174.8,345.57 L175.2,344.77 L175.6,343.5 L176,342.18 L176.4,340.99 L176.8,338.85 L177.2,337.12 L177.6,335.45 L178,333.84 L178.4,331.75 L178.8,330.68 L179.2,329.61 L179.6,329.03 L180,329.12 L180.4,329.41 L180.8,330.53 L181.2,331.42 L181.6,333.04 L182,334.33 L182.4,336.06 L182.8,338.24 L183.2,339.87 L183.6,341.38 L184,342.32 L184.4,343.86 L184.8,344.8 L185.2,345.79 L185.6,346.4 L186,346.96 L186.4,347.36 L186.8,347.64 L187.2,347.85 L187.6,348.01 L188,348.11 L188.4,348.18 L188.8,348.23 L189.2,348.26 L189.6,348.27 L190,348.28 L190.4,348.29 L190.8,348.3 L191.2,348.3 L191.6,348.3 L192,348.3 L192.4,348.3 L192.8,348.3 L226.3,348.3" fill="none" stroke="#68a94a" stroke-width="0.9" stroke-linejoin="round"/>
<path d="M146.9,358.9 L166,358.9 L166.4,358.9 L166.8,358.9 L167.2,358.9 L167.6,358.9 L168,358.89 L168.4,358.89 L168.8,358.88 L169.2,358.87 L169.6,358.84 L170,358.81 L170.4,358.75 L170.8,358.66 L171.2,358.52 L171.6,358.32 L172,357.99 L172.4,357.59 L172.8,357.06 L173.2,356.35 L173.6,355.75 L174,354.65 L174.4,353.2 L174.8,351.68 L175.2,349.97 L175.6,348.2 L176,346.87 L176.4,344.76 L176.8,343.05 L177.2,341.69 L177.6,340.73 L178,339.77 L178.4,339.66 L178.8,339.25 L179.2,339.78 L179.6,340.82 L180,342.13 L180.4,343.16 L180.8,344.94 L181.2,346.42 L181.6,348.13 L182,349.97 L182.4,351.56 L182.8,352.84 L183.2,354.17 L183.6,355.38 L184,356.15 L184.4,356.68 L184.8,357.45 L185.2,357.86 L185.6,358.12 L186,358.36 L186.4,358.54 L186.8,358.66 L187.2,358.74 L187.6,358.8 L188,358.84 L188.4,358.86 L188.8,358.88 L189.2,358.89 L189.6,358.89 L190,358.9 L190.4,358.9 L190.8,358.9 L191.2,358.9 L191.6,358.9 L192,358.9 L226.3,358.9 Z" fill="#4b2068" stroke="none" stroke-width="0"/>
<path d="M146.9,358.9 L166,358.9 L166.4,358.9 L166.8,358.9 L167.2,358.9 L167.6,358.9 L168,358.89 L168.4,358.89 L168.8,358.88 L169.2,358.87 L169.6,358.84 L170,358.81 L170.4,358.75 L170.8,358.66 L171.2,358.52 L171.6,358.32 L172,357.99 L172.4,357.59 L172.8,357.06 L173.2,356.35 L173.6,355.75 L174,354.65 L174.4,353.2 L174.8,351.68 L175.2,349.97 L175.6,348.2 L176,346.87 L176.4,344.76 L176.8,343.05 L177.2,341.69 L177.6,340.73 L178,339.77 L178.4,339.66 L178.8,339.25 L179.2,339.78 L179.6,340.82 L180,342.13 L180.4,343.16 L180.8,344.94 L181.2,346.42 L181.6,348.13 L182,349.97 L182.4,351.56 L182.8,352.84 L183.2,354.17 L183.6,355.38 L184,356.15 L184.4,356.68 L184.8,357.45 L185.2,357.86 L185.6,358.12 L186,358.36 L186.4,358.54 L186.8,358.66 L187.2,358.74 L187.6,358.8 L188,358.84 L188.4,358.86 L188.8,358.88 L189.2,358.89 L189.6,358.89 L190,358.9 L190.4,358.9 L190.8,358.9 L191.2,358.9 L191.6,358.9 L192,358.9 L226.3,358.9" fill="none" stroke="#4b2068" stroke-width="0.9" stroke-linejoin="round"/>
<path d="M146.9,368.8 L165,368.8 L165.4,368.8 L165.8,368.8 L166.2,368.79 L166.6,368.79 L167,368.78 L167.4,368.77 L167.8,368.75 L168.2,368.72 L168.6,368.67 L169,368.59 L169.4,368.47 L169.8,368.31 L170.2,368.07 L170.6,367.75 L171,367.3 L171.4,366.9 L171.8,366.15 L172.2,365.26 L172.6,363.81 L173,362.64 L173.4,361.57 L173.8,359.62 L174.2,358.34 L174.6,356.35 L175,354.98 L175.4,353.52 L175.8,351.66 L176.2,351 L176.6,350.29 L177,349.52 L177.4,349.68 L177.8,350.47 L178.2,350.84 L178.6,352.16 L179,353.36 L179.4,355.1 L179.8,356.22 L180.2,357.96 L180.6,359.35 L181,360.87 L181.4,362.59 L181.8,363.77 L182.2,364.95 L182.6,365.82 L183,366.56 L183.4,367.06 L183.8,367.46 L184.2,367.92 L184.6,368.13 L185,368.34 L185.4,368.48 L185.8,368.59 L186.2,368.66 L186.6,368.71 L187,368.74 L187.4,368.77 L187.8,368.78 L188.2,368.79 L188.6,368.79 L189,368.8 L189.4,368.8 L189.8,368.8 L226.3,368.8 Z" fill="#e8951e" stroke="none" stroke-width="0"/>
<path d="M146.9,368.8 L165,368.8 L165.4,368.8 L165.8,368.8 L166.2,368.79 L166.6,368.79 L167,368.78 L167.4,368.77 L167.8,368.75 L168.2,368.72 L168.6,368.67 L169,368.59 L169.4,368.47 L169.8,368.31 L170.2,368.07 L170.6,367.75 L171,367.3 L171.4,366.9 L171.8,366.15 L172.2,365.26 L172.6,363.81 L173,362.64 L173.4,361.57 L173.8,359.62 L174.2,358.34 L174.6,356.35 L175,354.98 L175.4,353.52 L175.8,351.66 L176.2,351 L176.6,350.29 L177,349.52 L177.4,349.68 L177.8,350.47 L178.2,350.84 L178.6,352.16 L179,353.36 L179.4,355.1 L179.8,356.22 L180.2,357.96 L180.6,359.35 L181,360.87 L181.4,362.59 L181.8,363.77 L182.2,364.95 L182.6,365.82 L183,366.56 L183.4,367.06 L183.8,367.46 L184.2,367.92 L184.6,368.13 L185,368.34 L185.4,368.48 L185.8,368.59 L186.2,368.66 L186.6,368.71 L187,368.74 L187.4,368.77 L187.8,368.78 L188.2,368.79 L188.6,368.79 L189,368.8 L189.4,368.8 L189.8,368.8 L226.3,368.8" fill="none" stroke="#e8951e" stroke-width="0.9" stroke-linejoin="round"/>
<rect x="146.9" y="294.4" width="79.4" height="74.4" fill="none" stroke="#111" stroke-width="1.35"/>
<text transform="translate(224.7,314.3) scale(0.86,1)" font-size="5" text-anchor="end" fill="#231f20" style="stroke-width:0.08px">1161</text>
<text transform="translate(224.7,324.4) scale(0.86,1)" font-size="5" text-anchor="end" fill="#231f20" style="stroke-width:0.08px">3991</text>
<text transform="translate(224.7,334.9) scale(0.86,1)" font-size="5" text-anchor="end" fill="#231f20" style="stroke-width:0.08px">3794</text>
<text transform="translate(224.7,345.3) scale(0.86,1)" font-size="5" text-anchor="end" fill="#231f20" style="stroke-width:0.08px">3461</text>
<text transform="translate(224.7,355.9) scale(0.86,1)" font-size="5" text-anchor="end" fill="#231f20" style="stroke-width:0.08px">2929</text>
<text transform="translate(224.7,365.8) scale(0.86,1)" font-size="5" text-anchor="end" fill="#231f20" style="stroke-width:0.08px">2478</text>
<text transform="translate(224,302.6) scale(0.86,1)" font-size="5" text-anchor="end" fill="#231f20" style="stroke-width:0.08px">MFI:</text>
<line x1="148.7" y1="368.8" x2="148.7" y2="370.6" stroke="#111" stroke-width="0.6" stroke-linecap="butt"/>
<line x1="149.45" y1="368.8" x2="149.45" y2="370.6" stroke="#111" stroke-width="0.6" stroke-linecap="butt"/>
<line x1="150.2" y1="368.8" x2="150.2" y2="370.6" stroke="#111" stroke-width="0.6" stroke-linecap="butt"/>
<line x1="150.95" y1="368.8" x2="150.95" y2="370.6" stroke="#111" stroke-width="0.6" stroke-linecap="butt"/>
<line x1="151.7" y1="368.8" x2="151.7" y2="370.6" stroke="#111" stroke-width="0.6" stroke-linecap="butt"/>
<line x1="152.45" y1="368.8" x2="152.45" y2="370.6" stroke="#111" stroke-width="0.6" stroke-linecap="butt"/>
<line x1="159.02" y1="368.8" x2="159.02" y2="371.8" stroke="#111" stroke-width="0.7" stroke-linecap="butt"/>
<line x1="164.66" y1="368.8" x2="164.66" y2="370.5" stroke="#111" stroke-width="0.7" stroke-linecap="butt"/>
<line x1="167.96" y1="368.8" x2="167.96" y2="370.5" stroke="#111" stroke-width="0.7" stroke-linecap="butt"/>
<line x1="170.31" y1="368.8" x2="170.31" y2="370.5" stroke="#111" stroke-width="0.7" stroke-linecap="butt"/>
<line x1="172.13" y1="368.8" x2="172.13" y2="371" stroke="#111" stroke-width="0.7" stroke-linecap="butt"/>
<line x1="173.61" y1="368.8" x2="173.61" y2="370.5" stroke="#111" stroke-width="0.7" stroke-linecap="butt"/>
<line x1="174.87" y1="368.8" x2="174.87" y2="370.5" stroke="#111" stroke-width="0.7" stroke-linecap="butt"/>
<line x1="175.95" y1="368.8" x2="175.95" y2="370.5" stroke="#111" stroke-width="0.7" stroke-linecap="butt"/>
<line x1="176.91" y1="368.8" x2="176.91" y2="370.5" stroke="#111" stroke-width="0.7" stroke-linecap="butt"/>
<line x1="177.77" y1="368.8" x2="177.77" y2="371.8" stroke="#111" stroke-width="0.7" stroke-linecap="butt"/>
<line x1="183.42" y1="368.8" x2="183.42" y2="370.5" stroke="#111" stroke-width="0.7" stroke-linecap="butt"/>
<line x1="186.72" y1="368.8" x2="186.72" y2="370.5" stroke="#111" stroke-width="0.7" stroke-linecap="butt"/>
<line x1="189.06" y1="368.8" x2="189.06" y2="370.5" stroke="#111" stroke-width="0.7" stroke-linecap="butt"/>
<line x1="190.88" y1="368.8" x2="190.88" y2="371" stroke="#111" stroke-width="0.7" stroke-linecap="butt"/>
<line x1="192.37" y1="368.8" x2="192.37" y2="370.5" stroke="#111" stroke-width="0.7" stroke-linecap="butt"/>
<line x1="193.62" y1="368.8" x2="193.62" y2="370.5" stroke="#111" stroke-width="0.7" stroke-linecap="butt"/>
<line x1="194.71" y1="368.8" x2="194.71" y2="370.5" stroke="#111" stroke-width="0.7" stroke-linecap="butt"/>
<line x1="195.67" y1="368.8" x2="195.67" y2="370.5" stroke="#111" stroke-width="0.7" stroke-linecap="butt"/>
<line x1="196.53" y1="368.8" x2="196.53" y2="371.8" stroke="#111" stroke-width="0.7" stroke-linecap="butt"/>
<line x1="202.17" y1="368.8" x2="202.17" y2="370.5" stroke="#111" stroke-width="0.7" stroke-linecap="butt"/>
<line x1="205.48" y1="368.8" x2="205.48" y2="370.5" stroke="#111" stroke-width="0.7" stroke-linecap="butt"/>
<line x1="207.82" y1="368.8" x2="207.82" y2="370.5" stroke="#111" stroke-width="0.7" stroke-linecap="butt"/>
<line x1="209.64" y1="368.8" x2="209.64" y2="371" stroke="#111" stroke-width="0.7" stroke-linecap="butt"/>
<line x1="211.12" y1="368.8" x2="211.12" y2="370.5" stroke="#111" stroke-width="0.7" stroke-linecap="butt"/>
<line x1="212.38" y1="368.8" x2="212.38" y2="370.5" stroke="#111" stroke-width="0.7" stroke-linecap="butt"/>
<line x1="213.47" y1="368.8" x2="213.47" y2="370.5" stroke="#111" stroke-width="0.7" stroke-linecap="butt"/>
<line x1="214.43" y1="368.8" x2="214.43" y2="370.5" stroke="#111" stroke-width="0.7" stroke-linecap="butt"/>
<line x1="215.28" y1="368.8" x2="215.28" y2="371.8" stroke="#111" stroke-width="0.7" stroke-linecap="butt"/>
<line x1="220.93" y1="368.8" x2="220.93" y2="370.5" stroke="#111" stroke-width="0.7" stroke-linecap="butt"/>
<line x1="224.23" y1="368.8" x2="224.23" y2="370.5" stroke="#111" stroke-width="0.7" stroke-linecap="butt"/>
<text transform="translate(186.5,381.5) scale(0.88,1)" font-size="6.8" text-anchor="middle" fill="#231f20">TNF</text>
<path d="M236.5,317.3 L240,317.3 L244,317 L247,316.5 L248.7,316 L250.5,314.8 L252,313.2 L253.5,311.2 L254.8,308.5 L255.9,304.5 L257,301 L258,298.8 L258.75,298.3 L259.6,299.5 L260.7,303.5 L261.6,307.5 L262.6,311.2 L264,314.6 L265.5,316.6 L267,317.3 L315.3,317.3" fill="none" stroke="#4a5672" stroke-width="0.9" stroke-linejoin="round"/>
<path d="M236.5,327.4 L249.6,327.4 L252,326.6 L254.4,325.2 L256.2,323 L257.8,320.8 L259.3,318.5 L260.7,316.5 L262.2,315.2 L263.6,314.6 L264.8,313.5 L266,312.7 L267.4,311.2 L268.2,312.5 L268.8,312.7 L269.8,311.8 L270.8,311.2 L271.8,312.8 L272.7,314.1 L273.6,316 L274.6,317.5 L275.5,318.5 L276.5,319.9 L277.5,321.8 L278.5,323.7 L280,325.2 L281.3,326.1 L283,326.9 L285.2,327.4 L315.3,327.4 Z" fill="#a8102e" stroke="none" stroke-width="0"/>
<path d="M236.5,327.4 L249.6,327.4 L252,326.6 L254.4,325.2 L256.2,323 L257.8,320.8 L259.3,318.5 L260.7,316.5 L262.2,315.2 L263.6,314.6 L264.8,313.5 L266,312.7 L267.4,311.2 L268.2,312.5 L268.8,312.7 L269.8,311.8 L270.8,311.2 L271.8,312.8 L272.7,314.1 L273.6,316 L274.6,317.5 L275.5,318.5 L276.5,319.9 L277.5,321.8 L278.5,323.7 L280,325.2 L281.3,326.1 L283,326.9 L285.2,327.4 L315.3,327.4" fill="none" stroke="#a8102e" stroke-width="0.9" stroke-linejoin="round"/>
<path d="M236.5,337.9 L249.6,337.9 L251,337.2 L252.5,336.2 L254.2,334.5 L255.9,332.4 L256.9,329.5 L257.8,326.6 L259.2,324 L260.7,321.8 L262.2,320.5 L263.6,320.1 L265,321.2 L266.4,322.8 L268.1,324.5 L269.8,326.1 L271.5,328.3 L273.2,330.5 L274.6,332.5 L276.1,334.3 L277.8,335.8 L279.4,336.9 L282,337.6 L285,337.9 L315.3,337.9 Z" fill="#2c5088" stroke="none" stroke-width="0"/>
<path d="M236.5,337.9 L249.6,337.9 L251,337.2 L252.5,336.2 L254.2,334.5 L255.9,332.4 L256.9,329.5 L257.8,326.6 L259.2,324 L260.7,321.8 L262.2,320.5 L263.6,320.1 L265,321.2 L266.4,322.8 L268.1,324.5 L269.8,326.1 L271.5,328.3 L273.2,330.5 L274.6,332.5 L276.1,334.3 L277.8,335.8 L279.4,336.9 L282,337.6 L285,337.9 L315.3,337.9" fill="none" stroke="#2c5088" stroke-width="0.9" stroke-linejoin="round"/>
<path d="M236.5,348.3 L250.6,348.3 L252,347.2 L253.5,345.6 L254.5,343.5 L255.4,341.2 L256.6,338.3 L257.8,335.5 L258.5,333.5 L259.2,331.6 L260,332.3 L260.7,332.6 L261.6,333.8 L262.6,334 L263.3,333.2 L264,333.5 L264.8,334.3 L265.5,335 L266.2,336.8 L266.9,338.3 L268.1,339.8 L269.3,341.2 L270.5,342.5 L271.7,343.6 L273.2,344.9 L274.6,346 L276.3,346.9 L278,347.6 L280,348.3 L315.3,348.3 Z" fill="#68a94a" stroke="none" stroke-width="0"/>
<path d="M236.5,348.3 L250.6,348.3 L252,347.2 L253.5,345.6 L254.5,343.5 L255.4,341.2 L256.6,338.3 L257.8,335.5 L258.5,333.5 L259.2,331.6 L260,332.3 L260.7,332.6 L261.6,333.8 L262.6,334 L263.3,333.2 L264,333.5 L264.8,334.3 L265.5,335 L266.2,336.8 L266.9,338.3 L268.1,339.8 L269.3,341.2 L270.5,342.5 L271.7,343.6 L273.2,344.9 L274.6,346 L276.3,346.9 L278,347.6 L280,348.3 L315.3,348.3" fill="none" stroke="#68a94a" stroke-width="0.9" stroke-linejoin="round"/>
<path d="M236.5,358.9 L247.7,358.9 L249.6,358.3 L251.5,357.1 L252.8,355.2 L254,352.8 L254.7,349.5 L255.4,346 L256.3,344.2 L257.3,342.7 L258,341.8 L258.75,341.2 L259.7,341.8 L260.7,342.7 L261.6,343.4 L262.6,344.6 L263.3,346.5 L264,348 L265.2,349.8 L266.4,351.3 L267.6,353 L268.8,354.7 L270.2,356 L271.7,357.1 L273.2,358.2 L274.6,358.9 L315.3,358.9 Z" fill="#4b2068" stroke="none" stroke-width="0"/>
<path d="M236.5,358.9 L247.7,358.9 L249.6,358.3 L251.5,357.1 L252.8,355.2 L254,352.8 L254.7,349.5 L255.4,346 L256.3,344.2 L257.3,342.7 L258,341.8 L258.75,341.2 L259.7,341.8 L260.7,342.7 L261.6,343.4 L262.6,344.6 L263.3,346.5 L264,348 L265.2,349.8 L266.4,351.3 L267.6,353 L268.8,354.7 L270.2,356 L271.7,357.1 L273.2,358.2 L274.6,358.9 L315.3,358.9" fill="none" stroke="#4b2068" stroke-width="0.9" stroke-linejoin="round"/>
<path d="M236.5,368.8 L248.2,368.8 L249.8,366.8 L251.5,364.8 L253,362.6 L254.4,360.5 L255.6,357.8 L256.8,355.2 L257.7,353.2 L258.5,351.3 L259.1,352.5 L259.7,353.7 L260.2,354.3 L260.7,355.2 L261.4,355.8 L262.1,356.6 L263,358.3 L264,360 L265.2,361.6 L266.4,363.3 L267.6,364.8 L268.8,366.2 L269.8,367.3 L270.8,368.8 L315.3,368.8 Z" fill="#e8951e" stroke="none" stroke-width="0"/>
<path d="M236.5,368.8 L248.2,368.8 L249.8,366.8 L251.5,364.8 L253,362.6 L254.4,360.5 L255.6,357.8 L256.8,355.2 L257.7,353.2 L258.5,351.3 L259.1,352.5 L259.7,353.7 L260.2,354.3 L260.7,355.2 L261.4,355.8 L262.1,356.6 L263,358.3 L264,360 L265.2,361.6 L266.4,363.3 L267.6,364.8 L268.8,366.2 L269.8,367.3 L270.8,368.8 L315.3,368.8" fill="none" stroke="#e8951e" stroke-width="0.9" stroke-linejoin="round"/>
<rect x="236.5" y="294.4" width="78.8" height="74.4" fill="none" stroke="#111" stroke-width="1.35"/>
<text transform="translate(313.7,314.3) scale(0.86,1)" font-size="5" text-anchor="end" fill="#231f20" style="stroke-width:0.08px">892</text>
<text transform="translate(313.7,324.4) scale(0.86,1)" font-size="5" text-anchor="end" fill="#231f20" style="stroke-width:0.08px">2947</text>
<text transform="translate(313.7,334.9) scale(0.86,1)" font-size="5" text-anchor="end" fill="#231f20" style="stroke-width:0.08px">2130</text>
<text transform="translate(313.7,345.3) scale(0.86,1)" font-size="5" text-anchor="end" fill="#231f20" style="stroke-width:0.08px">1882</text>
<text transform="translate(313.7,355.9) scale(0.86,1)" font-size="5" text-anchor="end" fill="#231f20" style="stroke-width:0.08px">1239</text>
<text transform="translate(313.7,365.8) scale(0.86,1)" font-size="5" text-anchor="end" fill="#231f20" style="stroke-width:0.08px">1121</text>
<text transform="translate(313,302.6) scale(0.86,1)" font-size="5" text-anchor="end" fill="#231f20" style="stroke-width:0.08px">MFI:</text>
<line x1="238.3" y1="368.8" x2="238.3" y2="370.6" stroke="#111" stroke-width="0.6" stroke-linecap="butt"/>
<line x1="239.05" y1="368.8" x2="239.05" y2="370.6" stroke="#111" stroke-width="0.6" stroke-linecap="butt"/>
<line x1="239.8" y1="368.8" x2="239.8" y2="370.6" stroke="#111" stroke-width="0.6" stroke-linecap="butt"/>
<line x1="240.55" y1="368.8" x2="240.55" y2="370.6" stroke="#111" stroke-width="0.6" stroke-linecap="butt"/>
<line x1="241.3" y1="368.8" x2="241.3" y2="370.6" stroke="#111" stroke-width="0.6" stroke-linecap="butt"/>
<line x1="242.05" y1="368.8" x2="242.05" y2="370.6" stroke="#111" stroke-width="0.6" stroke-linecap="butt"/>
<line x1="248.54" y1="368.8" x2="248.54" y2="371.8" stroke="#111" stroke-width="0.7" stroke-linecap="butt"/>
<line x1="254.14" y1="368.8" x2="254.14" y2="370.5" stroke="#111" stroke-width="0.7" stroke-linecap="butt"/>
<line x1="257.41" y1="368.8" x2="257.41" y2="370.5" stroke="#111" stroke-width="0.7" stroke-linecap="butt"/>
<line x1="259.74" y1="368.8" x2="259.74" y2="370.5" stroke="#111" stroke-width="0.7" stroke-linecap="butt"/>
<line x1="261.54" y1="368.8" x2="261.54" y2="371" stroke="#111" stroke-width="0.7" stroke-linecap="butt"/>
<line x1="263.02" y1="368.8" x2="263.02" y2="370.5" stroke="#111" stroke-width="0.7" stroke-linecap="butt"/>
<line x1="264.26" y1="368.8" x2="264.26" y2="370.5" stroke="#111" stroke-width="0.7" stroke-linecap="butt"/>
<line x1="265.34" y1="368.8" x2="265.34" y2="370.5" stroke="#111" stroke-width="0.7" stroke-linecap="butt"/>
<line x1="266.29" y1="368.8" x2="266.29" y2="370.5" stroke="#111" stroke-width="0.7" stroke-linecap="butt"/>
<line x1="267.15" y1="368.8" x2="267.15" y2="371.8" stroke="#111" stroke-width="0.7" stroke-linecap="butt"/>
<line x1="272.75" y1="368.8" x2="272.75" y2="370.5" stroke="#111" stroke-width="0.7" stroke-linecap="butt"/>
<line x1="276.02" y1="368.8" x2="276.02" y2="370.5" stroke="#111" stroke-width="0.7" stroke-linecap="butt"/>
<line x1="278.35" y1="368.8" x2="278.35" y2="370.5" stroke="#111" stroke-width="0.7" stroke-linecap="butt"/>
<line x1="280.15" y1="368.8" x2="280.15" y2="371" stroke="#111" stroke-width="0.7" stroke-linecap="butt"/>
<line x1="281.63" y1="368.8" x2="281.63" y2="370.5" stroke="#111" stroke-width="0.7" stroke-linecap="butt"/>
<line x1="282.87" y1="368.8" x2="282.87" y2="370.5" stroke="#111" stroke-width="0.7" stroke-linecap="butt"/>
<line x1="283.95" y1="368.8" x2="283.95" y2="370.5" stroke="#111" stroke-width="0.7" stroke-linecap="butt"/>
<line x1="284.9" y1="368.8" x2="284.9" y2="370.5" stroke="#111" stroke-width="0.7" stroke-linecap="butt"/>
<line x1="285.75" y1="368.8" x2="285.75" y2="371.8" stroke="#111" stroke-width="0.7" stroke-linecap="butt"/>
<line x1="291.36" y1="368.8" x2="291.36" y2="370.5" stroke="#111" stroke-width="0.7" stroke-linecap="butt"/>
<line x1="294.63" y1="368.8" x2="294.63" y2="370.5" stroke="#111" stroke-width="0.7" stroke-linecap="butt"/>
<line x1="296.96" y1="368.8" x2="296.96" y2="370.5" stroke="#111" stroke-width="0.7" stroke-linecap="butt"/>
<line x1="298.76" y1="368.8" x2="298.76" y2="371" stroke="#111" stroke-width="0.7" stroke-linecap="butt"/>
<line x1="300.24" y1="368.8" x2="300.24" y2="370.5" stroke="#111" stroke-width="0.7" stroke-linecap="butt"/>
<line x1="301.48" y1="368.8" x2="301.48" y2="370.5" stroke="#111" stroke-width="0.7" stroke-linecap="butt"/>
<line x1="302.56" y1="368.8" x2="302.56" y2="370.5" stroke="#111" stroke-width="0.7" stroke-linecap="butt"/>
<line x1="303.51" y1="368.8" x2="303.51" y2="370.5" stroke="#111" stroke-width="0.7" stroke-linecap="butt"/>
<line x1="304.36" y1="368.8" x2="304.36" y2="371.8" stroke="#111" stroke-width="0.7" stroke-linecap="butt"/>
<line x1="309.97" y1="368.8" x2="309.97" y2="370.5" stroke="#111" stroke-width="0.7" stroke-linecap="butt"/>
<line x1="313.24" y1="368.8" x2="313.24" y2="370.5" stroke="#111" stroke-width="0.7" stroke-linecap="butt"/>
<text transform="translate(276.2,381.5) scale(0.88,1)" font-size="6.8" text-anchor="middle" fill="#231f20">GzmB</text>
<text transform="translate(15.4,350.3) scale(0.9,1)" font-size="6.2" text-anchor="start" fill="#231f20">PA</text>
<line x1="25.2" y1="330" x2="25.2" y2="367" stroke="#231f20" stroke-width="0.9" stroke-linecap="butt"/>
<text transform="translate(93.8,411.6) scale(0.9,1)" font-size="8.3" text-anchor="middle" fill="#231f20">IFN-γ</text>
<line x1="70.5" y1="417.2" x2="70.5" y2="478.5" stroke="#231f20" stroke-width="1.1" stroke-linecap="butt"/>
<line x1="69.95" y1="478.5" x2="116.5" y2="478.5" stroke="#231f20" stroke-width="1.1" stroke-linecap="butt"/>
<line x1="67.4" y1="478.5" x2="70.5" y2="478.5" stroke="#231f20" stroke-width="1" stroke-linecap="butt"/>
<text transform="translate(64.4,479.96) scale(0.98,1)" font-size="5.3" text-anchor="end" fill="#231f20" style="stroke-width:0.08px">0.0</text>
<line x1="69.2" y1="468.25" x2="70.5" y2="468.25" stroke="#231f20" stroke-width="0.7" stroke-linecap="butt"/>
<line x1="67.4" y1="458.5" x2="70.5" y2="458.5" stroke="#231f20" stroke-width="1" stroke-linecap="butt"/>
<text transform="translate(64.4,460.46) scale(0.98,1)" font-size="5.3" text-anchor="end" fill="#231f20" style="stroke-width:0.08px">0.5</text>
<line x1="69.2" y1="448.75" x2="70.5" y2="448.75" stroke="#231f20" stroke-width="0.7" stroke-linecap="butt"/>
<line x1="67.4" y1="439.5" x2="70.5" y2="439.5" stroke="#231f20" stroke-width="1" stroke-linecap="butt"/>
<text transform="translate(64.4,440.96) scale(0.98,1)" font-size="5.3" text-anchor="end" fill="#231f20" style="stroke-width:0.08px">1.0</text>
<line x1="69.2" y1="429.25" x2="70.5" y2="429.25" stroke="#231f20" stroke-width="0.7" stroke-linecap="butt"/>
<line x1="67.4" y1="419.5" x2="70.5" y2="419.5" stroke="#231f20" stroke-width="1" stroke-linecap="butt"/>
<text transform="translate(64.4,421.46) scale(0.98,1)" font-size="5.3" text-anchor="end" fill="#231f20" style="stroke-width:0.08px">1.5</text>
<text transform="translate(41.9,448) rotate(-90) scale(0.88,1)" font-size="6.6" text-anchor="middle" fill="#231f20">FC ΔMFI IFN-γ+ NK</text>
<text transform="translate(50.9,448) rotate(-90) scale(0.88,1)" font-size="6.6" text-anchor="middle" fill="#231f20">(vs BSA ctrl)</text>
<path d="M75.75,439 L84.5,432.37 L93,439 L101.5,459.67 L110,467.47" fill="none" stroke="#111" stroke-width="0.9"/>
<circle cx="75.75" cy="439" r="1.55" fill="#fff" stroke="#b5173a" stroke-width="0.75"/>
<line x1="75.5" y1="478" x2="75.5" y2="480.9" stroke="#231f20" stroke-width="1" stroke-linecap="butt"/>
<text transform="translate(78.35,488.2) rotate(-45) scale(0.9,1)" font-size="6" text-anchor="end" fill="#231f20">0 µM</text>
<line x1="84.5" y1="426.91" x2="84.5" y2="437.83" stroke="#111" stroke-width="0.7" stroke-linecap="butt"/>
<line x1="83.2" y1="426.91" x2="85.8" y2="426.91" stroke="#111" stroke-width="0.7" stroke-linecap="butt"/>
<line x1="83.2" y1="437.83" x2="85.8" y2="437.83" stroke="#111" stroke-width="0.7" stroke-linecap="butt"/>
<circle cx="84.5" cy="432.37" r="1.6" fill="#1f3f7a" stroke="none" stroke-width="0"/>
<line x1="84.5" y1="478" x2="84.5" y2="480.9" stroke="#231f20" stroke-width="1" stroke-linecap="butt"/>
<text transform="translate(87.1,488.2) rotate(-45) scale(0.9,1)" font-size="6" text-anchor="end" fill="#231f20">10 µM</text>
<line x1="93" y1="435.88" x2="93" y2="442.12" stroke="#111" stroke-width="0.7" stroke-linecap="butt"/>
<line x1="91.7" y1="435.88" x2="94.3" y2="435.88" stroke="#111" stroke-width="0.7" stroke-linecap="butt"/>
<line x1="91.7" y1="442.12" x2="94.3" y2="442.12" stroke="#111" stroke-width="0.7" stroke-linecap="butt"/>
<circle cx="93" cy="439" r="1.6" fill="#1f3f7a" stroke="none" stroke-width="0"/>
<line x1="93.5" y1="478" x2="93.5" y2="480.9" stroke="#231f20" stroke-width="1" stroke-linecap="butt"/>
<text transform="translate(95.6,488.2) rotate(-45) scale(0.9,1)" font-size="6" text-anchor="end" fill="#231f20">100 µM</text>
<line x1="101.5" y1="458.11" x2="101.5" y2="461.23" stroke="#111" stroke-width="0.7" stroke-linecap="butt"/>
<line x1="100.2" y1="458.11" x2="102.8" y2="458.11" stroke="#111" stroke-width="0.7" stroke-linecap="butt"/>
<line x1="100.2" y1="461.23" x2="102.8" y2="461.23" stroke="#111" stroke-width="0.7" stroke-linecap="butt"/>
<circle cx="101.5" cy="459.67" r="1.6" fill="#1f3f7a" stroke="none" stroke-width="0"/>
<line x1="101.5" y1="478" x2="101.5" y2="480.9" stroke="#231f20" stroke-width="1" stroke-linecap="butt"/>
<text transform="translate(104.1,488.2) rotate(-45) scale(0.9,1)" font-size="6" text-anchor="end" fill="#231f20">500 µM</text>
<line x1="110" y1="466.69" x2="110" y2="468.25" stroke="#111" stroke-width="0.7" stroke-linecap="butt"/>
<line x1="108.7" y1="466.69" x2="111.3" y2="466.69" stroke="#111" stroke-width="0.7" stroke-linecap="butt"/>
<line x1="108.7" y1="468.25" x2="111.3" y2="468.25" stroke="#111" stroke-width="0.7" stroke-linecap="butt"/>
<circle cx="110" cy="467.47" r="1.6" fill="#1f3f7a" stroke="none" stroke-width="0"/>
<line x1="110.5" y1="478" x2="110.5" y2="480.9" stroke="#231f20" stroke-width="1" stroke-linecap="butt"/>
<text transform="translate(112.6,488.2) rotate(-45) scale(0.9,1)" font-size="6" text-anchor="end" fill="#231f20">1000 µM</text>
<text transform="translate(84.3,424.5) scale(0.93,1)" font-size="5.6" text-anchor="middle" fill="#231f20">ns</text>
<text transform="translate(92.9,432.8) scale(0.93,1)" font-size="5.6" text-anchor="middle" fill="#231f20">ns</text>
<text transform="translate(103.9,454.77)" font-size="5.6" text-anchor="middle" fill="#231f20">****</text>
<text transform="translate(111.3,465.77)" font-size="5.6" text-anchor="middle" fill="#231f20">****</text>
<text transform="translate(182.55,411.6) scale(0.9,1)" font-size="8.3" text-anchor="middle" fill="#231f20">TNF</text>
<line x1="159.5" y1="417.2" x2="159.5" y2="478.5" stroke="#231f20" stroke-width="1.1" stroke-linecap="butt"/>
<line x1="158.7" y1="478.5" x2="205.25" y2="478.5" stroke="#231f20" stroke-width="1.1" stroke-linecap="butt"/>
<line x1="156.15" y1="478.5" x2="159.25" y2="478.5" stroke="#231f20" stroke-width="1" stroke-linecap="butt"/>
<text transform="translate(153.15,479.96) scale(0.98,1)" font-size="5.3" text-anchor="end" fill="#231f20" style="stroke-width:0.08px">0.0</text>
<line x1="157.95" y1="468.25" x2="159.25" y2="468.25" stroke="#231f20" stroke-width="0.7" stroke-linecap="butt"/>
<line x1="156.15" y1="458.5" x2="159.25" y2="458.5" stroke="#231f20" stroke-width="1" stroke-linecap="butt"/>
<text transform="translate(153.15,460.46) scale(0.98,1)" font-size="5.3" text-anchor="end" fill="#231f20" style="stroke-width:0.08px">0.5</text>
<line x1="157.95" y1="448.75" x2="159.25" y2="448.75" stroke="#231f20" stroke-width="0.7" stroke-linecap="butt"/>
<line x1="156.15" y1="439.5" x2="159.25" y2="439.5" stroke="#231f20" stroke-width="1" stroke-linecap="butt"/>
<text transform="translate(153.15,440.96) scale(0.98,1)" font-size="5.3" text-anchor="end" fill="#231f20" style="stroke-width:0.08px">1.0</text>
<line x1="157.95" y1="429.25" x2="159.25" y2="429.25" stroke="#231f20" stroke-width="0.7" stroke-linecap="butt"/>
<line x1="156.15" y1="419.5" x2="159.25" y2="419.5" stroke="#231f20" stroke-width="1" stroke-linecap="butt"/>
<text transform="translate(153.15,421.46) scale(0.98,1)" font-size="5.3" text-anchor="end" fill="#231f20" style="stroke-width:0.08px">1.5</text>
<text transform="translate(132,448) rotate(-90) scale(0.88,1)" font-size="6.6" text-anchor="middle" fill="#231f20">FC ΔMFI TNF</text>
<text transform="translate(141,448) rotate(-90) scale(0.88,1)" font-size="6.6" text-anchor="middle" fill="#231f20">(vs BSA ctrl)</text>
<path d="M165,439 L173.5,437.83 L182,442.12 L190.75,452.65 L199.5,455.38" fill="none" stroke="#111" stroke-width="0.9"/>
<circle cx="165" cy="439" r="1.55" fill="#fff" stroke="#b5173a" stroke-width="0.75"/>
<line x1="165.5" y1="478" x2="165.5" y2="480.9" stroke="#231f20" stroke-width="1" stroke-linecap="butt"/>
<text transform="translate(167.6,488.2) rotate(-45) scale(0.9,1)" font-size="6" text-anchor="end" fill="#231f20">0 µM</text>
<line x1="173.5" y1="435.88" x2="173.5" y2="439.78" stroke="#111" stroke-width="0.7" stroke-linecap="butt"/>
<line x1="172.2" y1="435.88" x2="174.8" y2="435.88" stroke="#111" stroke-width="0.7" stroke-linecap="butt"/>
<line x1="172.2" y1="439.78" x2="174.8" y2="439.78" stroke="#111" stroke-width="0.7" stroke-linecap="butt"/>
<circle cx="173.5" cy="437.83" r="1.6" fill="#1f3f7a" stroke="none" stroke-width="0"/>
<line x1="173.5" y1="478" x2="173.5" y2="480.9" stroke="#231f20" stroke-width="1" stroke-linecap="butt"/>
<text transform="translate(176.1,488.2) rotate(-45) scale(0.9,1)" font-size="6" text-anchor="end" fill="#231f20">10 µM</text>
<line x1="182" y1="441.34" x2="182" y2="442.9" stroke="#111" stroke-width="0.7" stroke-linecap="butt"/>
<line x1="180.7" y1="441.34" x2="183.3" y2="441.34" stroke="#111" stroke-width="0.7" stroke-linecap="butt"/>
<line x1="180.7" y1="442.9" x2="183.3" y2="442.9" stroke="#111" stroke-width="0.7" stroke-linecap="butt"/>
<circle cx="182" cy="442.12" r="1.6" fill="#1f3f7a" stroke="none" stroke-width="0"/>
<line x1="182.5" y1="478" x2="182.5" y2="480.9" stroke="#231f20" stroke-width="1" stroke-linecap="butt"/>
<text transform="translate(184.6,488.2) rotate(-45) scale(0.9,1)" font-size="6" text-anchor="end" fill="#231f20">100 µM</text>
<line x1="190.75" y1="451.09" x2="190.75" y2="454.21" stroke="#111" stroke-width="0.7" stroke-linecap="butt"/>
<line x1="189.45" y1="451.09" x2="192.05" y2="451.09" stroke="#111" stroke-width="0.7" stroke-linecap="butt"/>
<line x1="189.45" y1="454.21" x2="192.05" y2="454.21" stroke="#111" stroke-width="0.7" stroke-linecap="butt"/>
<circle cx="190.75" cy="452.65" r="1.6" fill="#1f3f7a" stroke="none" stroke-width="0"/>
<line x1="190.5" y1="478" x2="190.5" y2="480.9" stroke="#231f20" stroke-width="1" stroke-linecap="butt"/>
<text transform="translate(193.35,488.2) rotate(-45) scale(0.9,1)" font-size="6" text-anchor="end" fill="#231f20">500 µM</text>
<line x1="199.5" y1="454.6" x2="199.5" y2="456.16" stroke="#111" stroke-width="0.7" stroke-linecap="butt"/>
<line x1="198.2" y1="454.6" x2="200.8" y2="454.6" stroke="#111" stroke-width="0.7" stroke-linecap="butt"/>
<line x1="198.2" y1="456.16" x2="200.8" y2="456.16" stroke="#111" stroke-width="0.7" stroke-linecap="butt"/>
<circle cx="199.5" cy="455.38" r="1.6" fill="#1f3f7a" stroke="none" stroke-width="0"/>
<line x1="199.5" y1="478" x2="199.5" y2="480.9" stroke="#231f20" stroke-width="1" stroke-linecap="butt"/>
<text transform="translate(202.1,488.2) rotate(-45) scale(0.9,1)" font-size="6" text-anchor="end" fill="#231f20">1000 µM</text>
<text transform="translate(173.5,432.25) scale(0.93,1)" font-size="5.6" text-anchor="middle" fill="#231f20">ns</text>
<text transform="translate(182,437.25) scale(0.93,1)" font-size="5.6" text-anchor="middle" fill="#231f20">ns</text>
<text transform="translate(190.75,447.12)" font-size="5.6" text-anchor="middle" fill="#231f20">****</text>
<text transform="translate(200,452.87)" font-size="5.6" text-anchor="middle" fill="#231f20">****</text>
<text transform="translate(272.05,411.6) scale(0.9,1)" font-size="8.3" text-anchor="middle" fill="#231f20">GzmB</text>
<line x1="248.5" y1="417.2" x2="248.5" y2="478.5" stroke="#231f20" stroke-width="1.1" stroke-linecap="butt"/>
<line x1="248.2" y1="478.5" x2="294.75" y2="478.5" stroke="#231f20" stroke-width="1.1" stroke-linecap="butt"/>
<line x1="245.65" y1="478.5" x2="248.75" y2="478.5" stroke="#231f20" stroke-width="1" stroke-linecap="butt"/>
<text transform="translate(242.65,479.96) scale(0.98,1)" font-size="5.3" text-anchor="end" fill="#231f20" style="stroke-width:0.08px">0.0</text>
<line x1="247.45" y1="468.25" x2="248.75" y2="468.25" stroke="#231f20" stroke-width="0.7" stroke-linecap="butt"/>
<line x1="245.65" y1="458.5" x2="248.75" y2="458.5" stroke="#231f20" stroke-width="1" stroke-linecap="butt"/>
<text transform="translate(242.65,460.46) scale(0.98,1)" font-size="5.3" text-anchor="end" fill="#231f20" style="stroke-width:0.08px">0.5</text>
<line x1="247.45" y1="448.75" x2="248.75" y2="448.75" stroke="#231f20" stroke-width="0.7" stroke-linecap="butt"/>
<line x1="245.65" y1="439.5" x2="248.75" y2="439.5" stroke="#231f20" stroke-width="1" stroke-linecap="butt"/>
<text transform="translate(242.65,440.96) scale(0.98,1)" font-size="5.3" text-anchor="end" fill="#231f20" style="stroke-width:0.08px">1.0</text>
<line x1="247.45" y1="429.25" x2="248.75" y2="429.25" stroke="#231f20" stroke-width="0.7" stroke-linecap="butt"/>
<line x1="245.65" y1="419.5" x2="248.75" y2="419.5" stroke="#231f20" stroke-width="1" stroke-linecap="butt"/>
<text transform="translate(242.65,421.46) scale(0.98,1)" font-size="5.3" text-anchor="end" fill="#231f20" style="stroke-width:0.08px">1.5</text>
<text transform="translate(221.6,448) rotate(-90) scale(0.88,1)" font-size="6.6" text-anchor="middle" fill="#231f20">FC ΔMFI GzmB</text>
<text transform="translate(230.4,448) rotate(-90) scale(0.88,1)" font-size="6.6" text-anchor="middle" fill="#231f20">(vs BSA ctrl)</text>
<path d="M254.5,439 L263,442.9 L271.5,449.92 L280,458.5 L288.75,462.4" fill="none" stroke="#111" stroke-width="0.9"/>
<circle cx="254.5" cy="439" r="1.55" fill="#fff" stroke="#b5173a" stroke-width="0.75"/>
<line x1="254.5" y1="478" x2="254.5" y2="480.9" stroke="#231f20" stroke-width="1" stroke-linecap="butt"/>
<text transform="translate(257.1,488.2) rotate(-45) scale(0.9,1)" font-size="6" text-anchor="end" fill="#231f20">0 µM</text>
<line x1="263" y1="437.44" x2="263" y2="448.36" stroke="#111" stroke-width="0.7" stroke-linecap="butt"/>
<line x1="261.7" y1="437.44" x2="264.3" y2="437.44" stroke="#111" stroke-width="0.7" stroke-linecap="butt"/>
<line x1="261.7" y1="448.36" x2="264.3" y2="448.36" stroke="#111" stroke-width="0.7" stroke-linecap="butt"/>
<circle cx="263" cy="442.9" r="1.6" fill="#1f3f7a" stroke="none" stroke-width="0"/>
<line x1="263.5" y1="478" x2="263.5" y2="480.9" stroke="#231f20" stroke-width="1" stroke-linecap="butt"/>
<text transform="translate(265.6,488.2) rotate(-45) scale(0.9,1)" font-size="6" text-anchor="end" fill="#231f20">10 µM</text>
<line x1="271.5" y1="444.07" x2="271.5" y2="455.77" stroke="#111" stroke-width="0.7" stroke-linecap="butt"/>
<line x1="270.2" y1="444.07" x2="272.8" y2="444.07" stroke="#111" stroke-width="0.7" stroke-linecap="butt"/>
<line x1="270.2" y1="455.77" x2="272.8" y2="455.77" stroke="#111" stroke-width="0.7" stroke-linecap="butt"/>
<circle cx="271.5" cy="449.92" r="1.6" fill="#1f3f7a" stroke="none" stroke-width="0"/>
<line x1="271.5" y1="478" x2="271.5" y2="480.9" stroke="#231f20" stroke-width="1" stroke-linecap="butt"/>
<text transform="translate(274.1,488.2) rotate(-45) scale(0.9,1)" font-size="6" text-anchor="end" fill="#231f20">100 µM</text>
<line x1="280" y1="455.38" x2="280" y2="461.62" stroke="#111" stroke-width="0.7" stroke-linecap="butt"/>
<line x1="278.7" y1="455.38" x2="281.3" y2="455.38" stroke="#111" stroke-width="0.7" stroke-linecap="butt"/>
<line x1="278.7" y1="461.62" x2="281.3" y2="461.62" stroke="#111" stroke-width="0.7" stroke-linecap="butt"/>
<circle cx="280" cy="458.5" r="1.6" fill="#1f3f7a" stroke="none" stroke-width="0"/>
<line x1="280.5" y1="478" x2="280.5" y2="480.9" stroke="#231f20" stroke-width="1" stroke-linecap="butt"/>
<text transform="translate(282.6,488.2) rotate(-45) scale(0.9,1)" font-size="6" text-anchor="end" fill="#231f20">500 µM</text>
<line x1="288.75" y1="458.5" x2="288.75" y2="466.3" stroke="#111" stroke-width="0.7" stroke-linecap="butt"/>
<line x1="287.45" y1="458.5" x2="290.05" y2="458.5" stroke="#111" stroke-width="0.7" stroke-linecap="butt"/>
<line x1="287.45" y1="466.3" x2="290.05" y2="466.3" stroke="#111" stroke-width="0.7" stroke-linecap="butt"/>
<circle cx="288.75" cy="462.4" r="1.6" fill="#1f3f7a" stroke="none" stroke-width="0"/>
<line x1="288.5" y1="478" x2="288.5" y2="480.9" stroke="#231f20" stroke-width="1" stroke-linecap="butt"/>
<text transform="translate(291.35,488.2) rotate(-45) scale(0.9,1)" font-size="6" text-anchor="end" fill="#231f20">1000 µM</text>
<text transform="translate(263,434.5) scale(0.93,1)" font-size="5.6" text-anchor="middle" fill="#231f20">ns</text>
<text transform="translate(271.5,441.5) scale(0.93,1)" font-size="5.6" text-anchor="middle" fill="#231f20">ns</text>
<text transform="translate(280,455.37)" font-size="5.6" text-anchor="middle" fill="#231f20">**</text>
<text transform="translate(288.75,458.37)" font-size="5.6" text-anchor="middle" fill="#231f20">**</text>
<text transform="translate(388.7,300.5) scale(0.9,1)" font-size="8.3" text-anchor="middle" fill="#231f20">IFN-γ</text>
<line x1="370.5" y1="305.2" x2="370.5" y2="366.7" stroke="#231f20" stroke-width="1.1" stroke-linecap="butt"/>
<line x1="369.85" y1="366.5" x2="404.7" y2="366.5" stroke="#231f20" stroke-width="1.1" stroke-linecap="butt"/>
<line x1="367.3" y1="366.5" x2="370.4" y2="366.5" stroke="#231f20" stroke-width="1" stroke-linecap="butt"/>
<text transform="translate(364.3,368.16) scale(0.98,1)" font-size="5.3" text-anchor="end" fill="#231f20" style="stroke-width:0.08px">0.0</text>
<line x1="369.1" y1="357.88" x2="370.4" y2="357.88" stroke="#231f20" stroke-width="0.7" stroke-linecap="butt"/>
<line x1="367.3" y1="349.5" x2="370.4" y2="349.5" stroke="#231f20" stroke-width="1" stroke-linecap="butt"/>
<text transform="translate(364.3,351.53) scale(0.98,1)" font-size="5.3" text-anchor="end" fill="#231f20" style="stroke-width:0.08px">0.5</text>
<line x1="369.1" y1="341.25" x2="370.4" y2="341.25" stroke="#231f20" stroke-width="0.7" stroke-linecap="butt"/>
<line x1="367.3" y1="332.5" x2="370.4" y2="332.5" stroke="#231f20" stroke-width="1" stroke-linecap="butt"/>
<text transform="translate(364.3,334.89) scale(0.98,1)" font-size="5.3" text-anchor="end" fill="#231f20" style="stroke-width:0.08px">1.0</text>
<line x1="369.1" y1="324.62" x2="370.4" y2="324.62" stroke="#231f20" stroke-width="0.7" stroke-linecap="butt"/>
<line x1="367.3" y1="316.5" x2="370.4" y2="316.5" stroke="#231f20" stroke-width="1" stroke-linecap="butt"/>
<text transform="translate(364.3,318.26) scale(0.98,1)" font-size="5.3" text-anchor="end" fill="#231f20" style="stroke-width:0.08px">1.5</text>
<text transform="translate(342.6,335.8) rotate(-90) scale(0.88,1)" font-size="6.6" text-anchor="middle" fill="#231f20">FC ΔMFI IFN-γ+ NK</text>
<text transform="translate(350.6,335.8) rotate(-90) scale(0.88,1)" font-size="6.6" text-anchor="middle" fill="#231f20">(vs BSA ctrl)</text>
<line x1="380" y1="321.29" x2="394.8" y2="331.27" stroke="#111" stroke-width="0.8" stroke-linecap="butt"/>
<line x1="380" y1="322.95" x2="394.8" y2="332.93" stroke="#111" stroke-width="0.8" stroke-linecap="butt"/>
<line x1="380" y1="324.62" x2="394.8" y2="334.6" stroke="#111" stroke-width="0.8" stroke-linecap="butt"/>
<line x1="380" y1="329.61" x2="394.8" y2="336.26" stroke="#111" stroke-width="0.8" stroke-linecap="butt"/>
<line x1="380" y1="332.93" x2="394.8" y2="342.25" stroke="#111" stroke-width="0.8" stroke-linecap="butt"/>
<line x1="380" y1="335.59" x2="394.8" y2="337.92" stroke="#111" stroke-width="0.8" stroke-linecap="butt"/>
<line x1="380" y1="337.92" x2="394.8" y2="339.59" stroke="#111" stroke-width="0.8" stroke-linecap="butt"/>
<line x1="380" y1="341.25" x2="394.8" y2="341.25" stroke="#111" stroke-width="0.8" stroke-linecap="butt"/>
<line x1="380" y1="342.91" x2="394.8" y2="342.91" stroke="#111" stroke-width="0.8" stroke-linecap="butt"/>
<line x1="380" y1="343.58" x2="394.8" y2="343.58" stroke="#111" stroke-width="0.8" stroke-linecap="butt"/>
<circle cx="380" cy="321.29" r="1.45" fill="#fff" stroke="#b5173a" stroke-width="0.75"/>
<circle cx="380" cy="322.95" r="1.45" fill="#fff" stroke="#b5173a" stroke-width="0.75"/>
<circle cx="380" cy="324.62" r="1.45" fill="#fff" stroke="#b5173a" stroke-width="0.75"/>
<circle cx="380" cy="329.61" r="1.45" fill="#fff" stroke="#b5173a" stroke-width="0.75"/>
<circle cx="380" cy="332.93" r="1.45" fill="#fff" stroke="#b5173a" stroke-width="0.75"/>
<circle cx="380" cy="335.59" r="1.45" fill="#fff" stroke="#b5173a" stroke-width="0.75"/>
<circle cx="380" cy="337.92" r="1.45" fill="#fff" stroke="#b5173a" stroke-width="0.75"/>
<circle cx="380" cy="341.25" r="1.45" fill="#fff" stroke="#b5173a" stroke-width="0.75"/>
<circle cx="380" cy="342.91" r="1.45" fill="#fff" stroke="#b5173a" stroke-width="0.75"/>
<circle cx="380" cy="343.58" r="1.45" fill="#fff" stroke="#b5173a" stroke-width="0.75"/>
<circle cx="394.8" cy="331.27" r="1.5" fill="#1f3f7a" stroke="none" stroke-width="0"/>
<circle cx="394.8" cy="332.93" r="1.5" fill="#1f3f7a" stroke="none" stroke-width="0"/>
<circle cx="394.8" cy="334.6" r="1.5" fill="#1f3f7a" stroke="none" stroke-width="0"/>
<circle cx="394.8" cy="336.26" r="1.5" fill="#1f3f7a" stroke="none" stroke-width="0"/>
<circle cx="394.8" cy="342.25" r="1.5" fill="#1f3f7a" stroke="none" stroke-width="0"/>
<circle cx="394.8" cy="337.92" r="1.5" fill="#1f3f7a" stroke="none" stroke-width="0"/>
<circle cx="394.8" cy="339.59" r="1.5" fill="#1f3f7a" stroke="none" stroke-width="0"/>
<circle cx="394.8" cy="341.25" r="1.5" fill="#1f3f7a" stroke="none" stroke-width="0"/>
<circle cx="394.8" cy="342.91" r="1.5" fill="#1f3f7a" stroke="none" stroke-width="0"/>
<circle cx="394.8" cy="343.58" r="1.5" fill="#1f3f7a" stroke="none" stroke-width="0"/>
<line x1="380" y1="310.5" x2="394.8" y2="310.5" stroke="#111" stroke-width="1.1" stroke-linecap="butt"/>
<text transform="translate(387.4,310.57)" font-size="5.6" text-anchor="middle" fill="#231f20">**</text>
<line x1="380.5" y1="366.2" x2="380.5" y2="369.1" stroke="#231f20" stroke-width="1" stroke-linecap="butt"/>
<text transform="translate(382.2,376.4) rotate(-45) scale(0.9,1)" font-size="5.5" text-anchor="end" fill="#231f20">BSA</text>
<line x1="394.5" y1="366.2" x2="394.5" y2="369.1" stroke="#231f20" stroke-width="1" stroke-linecap="butt"/>
<text transform="translate(397,376.4) rotate(-45) scale(0.9,1)" font-size="5.5" text-anchor="end" fill="#231f20">PA</text>
<text transform="translate(472.3,300.5) scale(0.9,1)" font-size="8.3" text-anchor="middle" fill="#231f20">GzmB</text>
<line x1="454.5" y1="305.2" x2="454.5" y2="366.7" stroke="#231f20" stroke-width="1.1" stroke-linecap="butt"/>
<line x1="453.45" y1="366.5" x2="488.3" y2="366.5" stroke="#231f20" stroke-width="1.1" stroke-linecap="butt"/>
<line x1="450.9" y1="366.5" x2="454" y2="366.5" stroke="#231f20" stroke-width="1" stroke-linecap="butt"/>
<text transform="translate(447.9,368.16) scale(0.98,1)" font-size="5.3" text-anchor="end" fill="#231f20" style="stroke-width:0.08px">0.0</text>
<line x1="452.7" y1="357.88" x2="454" y2="357.88" stroke="#231f20" stroke-width="0.7" stroke-linecap="butt"/>
<line x1="450.9" y1="349.5" x2="454" y2="349.5" stroke="#231f20" stroke-width="1" stroke-linecap="butt"/>
<text transform="translate(447.9,351.53) scale(0.98,1)" font-size="5.3" text-anchor="end" fill="#231f20" style="stroke-width:0.08px">0.5</text>
<line x1="452.7" y1="341.25" x2="454" y2="341.25" stroke="#231f20" stroke-width="0.7" stroke-linecap="butt"/>
<line x1="450.9" y1="332.5" x2="454" y2="332.5" stroke="#231f20" stroke-width="1" stroke-linecap="butt"/>
<text transform="translate(447.9,334.89) scale(0.98,1)" font-size="5.3" text-anchor="end" fill="#231f20" style="stroke-width:0.08px">1.0</text>
<line x1="452.7" y1="324.62" x2="454" y2="324.62" stroke="#231f20" stroke-width="0.7" stroke-linecap="butt"/>
<line x1="450.9" y1="316.5" x2="454" y2="316.5" stroke="#231f20" stroke-width="1" stroke-linecap="butt"/>
<text transform="translate(447.9,318.26) scale(0.98,1)" font-size="5.3" text-anchor="end" fill="#231f20" style="stroke-width:0.08px">1.5</text>
<text transform="translate(427.6,335.8) rotate(-90) scale(0.88,1)" font-size="6.6" text-anchor="middle" fill="#231f20">FC ΔMFI GzmB+ NK</text>
<text transform="translate(435.6,335.8) rotate(-90) scale(0.88,1)" font-size="6.6" text-anchor="middle" fill="#231f20">(vs BSA ctrl)</text>
<line x1="463.6" y1="317.96" x2="478.4" y2="320.29" stroke="#111" stroke-width="0.8" stroke-linecap="butt"/>
<line x1="463.6" y1="317.96" x2="478.4" y2="332.93" stroke="#111" stroke-width="0.8" stroke-linecap="butt"/>
<line x1="463.6" y1="326.95" x2="478.4" y2="334.6" stroke="#111" stroke-width="0.8" stroke-linecap="butt"/>
<line x1="463.6" y1="331.27" x2="478.4" y2="337.92" stroke="#111" stroke-width="0.8" stroke-linecap="butt"/>
<line x1="463.6" y1="332.27" x2="478.4" y2="339.59" stroke="#111" stroke-width="0.8" stroke-linecap="butt"/>
<line x1="463.6" y1="334.6" x2="478.4" y2="341.25" stroke="#111" stroke-width="0.8" stroke-linecap="butt"/>
<line x1="463.6" y1="336.26" x2="478.4" y2="343.58" stroke="#111" stroke-width="0.8" stroke-linecap="butt"/>
<line x1="463.6" y1="337.92" x2="478.4" y2="344.58" stroke="#111" stroke-width="0.8" stroke-linecap="butt"/>
<line x1="463.6" y1="345.57" x2="478.4" y2="349.57" stroke="#111" stroke-width="0.8" stroke-linecap="butt"/>
<circle cx="463.6" cy="317.96" r="1.45" fill="#fff" stroke="#b5173a" stroke-width="0.75"/>
<circle cx="463.6" cy="317.96" r="1.45" fill="#fff" stroke="#b5173a" stroke-width="0.75"/>
<circle cx="463.6" cy="326.95" r="1.45" fill="#fff" stroke="#b5173a" stroke-width="0.75"/>
<circle cx="463.6" cy="331.27" r="1.45" fill="#fff" stroke="#b5173a" stroke-width="0.75"/>
<circle cx="463.6" cy="332.27" r="1.45" fill="#fff" stroke="#b5173a" stroke-width="0.75"/>
<circle cx="463.6" cy="334.6" r="1.45" fill="#fff" stroke="#b5173a" stroke-width="0.75"/>
<circle cx="463.6" cy="336.26" r="1.45" fill="#fff" stroke="#b5173a" stroke-width="0.75"/>
<circle cx="463.6" cy="337.92" r="1.45" fill="#fff" stroke="#b5173a" stroke-width="0.75"/>
<circle cx="463.6" cy="345.57" r="1.45" fill="#fff" stroke="#b5173a" stroke-width="0.75"/>
<circle cx="478.4" cy="320.29" r="1.5" fill="#1f3f7a" stroke="none" stroke-width="0"/>
<circle cx="478.4" cy="332.93" r="1.5" fill="#1f3f7a" stroke="none" stroke-width="0"/>
<circle cx="478.4" cy="334.6" r="1.5" fill="#1f3f7a" stroke="none" stroke-width="0"/>
<circle cx="478.4" cy="337.92" r="1.5" fill="#1f3f7a" stroke="none" stroke-width="0"/>
<circle cx="478.4" cy="339.59" r="1.5" fill="#1f3f7a" stroke="none" stroke-width="0"/>
<circle cx="478.4" cy="341.25" r="1.5" fill="#1f3f7a" stroke="none" stroke-width="0"/>
<circle cx="478.4" cy="343.58" r="1.5" fill="#1f3f7a" stroke="none" stroke-width="0"/>
<circle cx="478.4" cy="344.58" r="1.5" fill="#1f3f7a" stroke="none" stroke-width="0"/>
<circle cx="478.4" cy="349.57" r="1.5" fill="#1f3f7a" stroke="none" stroke-width="0"/>
<line x1="463.6" y1="310.5" x2="478.4" y2="310.5" stroke="#111" stroke-width="1.1" stroke-linecap="butt"/>
<text transform="translate(471,310.57)" font-size="5.6" text-anchor="middle" fill="#231f20">***</text>
<line x1="463.5" y1="366.2" x2="463.5" y2="369.1" stroke="#231f20" stroke-width="1" stroke-linecap="butt"/>
<text transform="translate(465.8,376.4) rotate(-45) scale(0.9,1)" font-size="5.5" text-anchor="end" fill="#231f20">BSA</text>
<line x1="478.5" y1="366.2" x2="478.5" y2="369.1" stroke="#231f20" stroke-width="1" stroke-linecap="butt"/>
<text transform="translate(480.6,376.4) rotate(-45) scale(0.9,1)" font-size="5.5" text-anchor="end" fill="#231f20">PA</text>
<text transform="translate(380.2,411.2) scale(0.9,1)" font-size="8.3" text-anchor="middle" fill="#231f20">IFN-γ</text>
<line x1="370.5" y1="417.5" x2="370.5" y2="478.8" stroke="#231f20" stroke-width="1.1" stroke-linecap="butt"/>
<line x1="369.85" y1="478.5" x2="388.6" y2="478.5" stroke="#231f20" stroke-width="1.1" stroke-linecap="butt"/>
<line x1="367.3" y1="478.5" x2="370.4" y2="478.5" stroke="#231f20" stroke-width="1" stroke-linecap="butt"/>
<text transform="translate(364.3,480.26) scale(0.98,1)" font-size="5.3" text-anchor="end" fill="#231f20" style="stroke-width:0.08px">0.0</text>
<line x1="367.3" y1="468.5" x2="370.4" y2="468.5" stroke="#231f20" stroke-width="1" stroke-linecap="butt"/>
<text transform="translate(364.3,470.51) scale(0.98,1)" font-size="5.3" text-anchor="end" fill="#231f20" style="stroke-width:0.08px">0.2</text>
<line x1="367.3" y1="458.5" x2="370.4" y2="458.5" stroke="#231f20" stroke-width="1" stroke-linecap="butt"/>
<text transform="translate(364.3,460.76) scale(0.98,1)" font-size="5.3" text-anchor="end" fill="#231f20" style="stroke-width:0.08px">0.4</text>
<line x1="367.3" y1="449.5" x2="370.4" y2="449.5" stroke="#231f20" stroke-width="1" stroke-linecap="butt"/>
<text transform="translate(364.3,451.01) scale(0.98,1)" font-size="5.3" text-anchor="end" fill="#231f20" style="stroke-width:0.08px">0.6</text>
<line x1="367.3" y1="439.5" x2="370.4" y2="439.5" stroke="#231f20" stroke-width="1" stroke-linecap="butt"/>
<text transform="translate(364.3,441.26) scale(0.98,1)" font-size="5.3" text-anchor="end" fill="#231f20" style="stroke-width:0.08px">0.8</text>
<line x1="367.3" y1="429.5" x2="370.4" y2="429.5" stroke="#231f20" stroke-width="1" stroke-linecap="butt"/>
<text transform="translate(364.3,431.51) scale(0.98,1)" font-size="5.3" text-anchor="end" fill="#231f20" style="stroke-width:0.08px">1.0</text>
<line x1="367.3" y1="419.5" x2="370.4" y2="419.5" stroke="#231f20" stroke-width="1" stroke-linecap="butt"/>
<text transform="translate(364.3,421.76) scale(0.98,1)" font-size="5.3" text-anchor="end" fill="#231f20" style="stroke-width:0.08px">1.2</text>
<text transform="translate(343.2,448.3) rotate(-90) scale(0.88,1)" font-size="6.4" text-anchor="middle" fill="#231f20">FC ΔMFI IFN-γ+ NK</text>
<text transform="translate(352.2,448.3) rotate(-90) scale(0.88,1)" font-size="6.4" text-anchor="middle" fill="#231f20">(vs BSA ctrl)</text>
<rect x="372.9" y="429.55" width="4.2" height="48.75" fill="#b00a2e" stroke="none" stroke-width="0"/>
<line x1="375" y1="429.55" x2="375" y2="428.57" stroke="#111" stroke-width="0.7" stroke-linecap="butt"/>
<line x1="373.8" y1="428.57" x2="376.2" y2="428.57" stroke="#111" stroke-width="0.7" stroke-linecap="butt"/>
<circle cx="374.1" cy="429.06" r="1.15" fill="#fff" stroke="#111" stroke-width="0.6"/>
<circle cx="375" cy="430.04" r="1.15" fill="#fff" stroke="#111" stroke-width="0.6"/>
<circle cx="375.9" cy="430.53" r="1.15" fill="#fff" stroke="#111" stroke-width="0.6"/>
<line x1="375.5" y1="478.3" x2="375.5" y2="481.2" stroke="#231f20" stroke-width="1" stroke-linecap="butt"/>
<rect x="382.4" y="453.93" width="4.2" height="24.38" fill="#2a4f95" stroke="none" stroke-width="0"/>
<line x1="384.5" y1="453.93" x2="384.5" y2="450.51" stroke="#111" stroke-width="0.7" stroke-linecap="butt"/>
<line x1="383.3" y1="450.51" x2="385.7" y2="450.51" stroke="#111" stroke-width="0.7" stroke-linecap="butt"/>
<circle cx="383.6" cy="444.18" r="1.15" fill="#fff" stroke="#111" stroke-width="0.6"/>
<circle cx="384.5" cy="446.12" r="1.15" fill="#fff" stroke="#111" stroke-width="0.6"/>
<circle cx="385.4" cy="455.39" r="1.15" fill="#fff" stroke="#111" stroke-width="0.6"/>
<circle cx="383.6" cy="457.82" r="1.15" fill="#fff" stroke="#111" stroke-width="0.6"/>
<circle cx="384.5" cy="459.78" r="1.15" fill="#fff" stroke="#111" stroke-width="0.6"/>
<line x1="384.5" y1="478.3" x2="384.5" y2="481.2" stroke="#231f20" stroke-width="1" stroke-linecap="butt"/>
<line x1="374.8" y1="423.5" x2="384" y2="423.5" stroke="#111" stroke-width="1" stroke-linecap="butt"/>
<text transform="translate(379.4,424.27)" font-size="5.6" text-anchor="middle" fill="#231f20">***</text>
<text transform="translate(378,488.2) rotate(-45) scale(0.9,1)" font-size="6.1" text-anchor="end" fill="#231f20">BSA (0µM)</text>
<text transform="translate(387.5,488.2) rotate(-45) scale(0.9,1)" font-size="6.1" text-anchor="end" fill="#231f20">PA + SA + OA + LA</text>
<text transform="translate(441.4,411.2) scale(0.9,1)" font-size="8.3" text-anchor="middle" fill="#231f20">TNF</text>
<line x1="431.5" y1="417.5" x2="431.5" y2="478.8" stroke="#231f20" stroke-width="1.1" stroke-linecap="butt"/>
<line x1="431.05" y1="478.5" x2="449.8" y2="478.5" stroke="#231f20" stroke-width="1.1" stroke-linecap="butt"/>
<line x1="428.5" y1="478.5" x2="431.6" y2="478.5" stroke="#231f20" stroke-width="1" stroke-linecap="butt"/>
<text transform="translate(425.5,480.26) scale(0.98,1)" font-size="5.3" text-anchor="end" fill="#231f20" style="stroke-width:0.08px">0.0</text>
<line x1="428.5" y1="468.5" x2="431.6" y2="468.5" stroke="#231f20" stroke-width="1" stroke-linecap="butt"/>
<text transform="translate(425.5,470.51) scale(0.98,1)" font-size="5.3" text-anchor="end" fill="#231f20" style="stroke-width:0.08px">0.2</text>
<line x1="428.5" y1="458.5" x2="431.6" y2="458.5" stroke="#231f20" stroke-width="1" stroke-linecap="butt"/>
<text transform="translate(425.5,460.76) scale(0.98,1)" font-size="5.3" text-anchor="end" fill="#231f20" style="stroke-width:0.08px">0.4</text>
<line x1="428.5" y1="449.5" x2="431.6" y2="449.5" stroke="#231f20" stroke-width="1" stroke-linecap="butt"/>
<text transform="translate(425.5,451.01) scale(0.98,1)" font-size="5.3" text-anchor="end" fill="#231f20" style="stroke-width:0.08px">0.6</text>
<line x1="428.5" y1="439.5" x2="431.6" y2="439.5" stroke="#231f20" stroke-width="1" stroke-linecap="butt"/>
<text transform="translate(425.5,441.26) scale(0.98,1)" font-size="5.3" text-anchor="end" fill="#231f20" style="stroke-width:0.08px">0.8</text>
<line x1="428.5" y1="429.5" x2="431.6" y2="429.5" stroke="#231f20" stroke-width="1" stroke-linecap="butt"/>
<text transform="translate(425.5,431.51) scale(0.98,1)" font-size="5.3" text-anchor="end" fill="#231f20" style="stroke-width:0.08px">1.0</text>
<line x1="428.5" y1="419.5" x2="431.6" y2="419.5" stroke="#231f20" stroke-width="1" stroke-linecap="butt"/>
<text transform="translate(425.5,421.76) scale(0.98,1)" font-size="5.3" text-anchor="end" fill="#231f20" style="stroke-width:0.08px">1.2</text>
<text transform="translate(404.6,448.3) rotate(-90) scale(0.88,1)" font-size="6.4" text-anchor="middle" fill="#231f20">FC ΔMFI TNF</text>
<text transform="translate(413.6,448.3) rotate(-90) scale(0.88,1)" font-size="6.4" text-anchor="middle" fill="#231f20">(vs BSA ctrl)</text>
<rect x="434.1" y="429.55" width="4.2" height="48.75" fill="#b00a2e" stroke="none" stroke-width="0"/>
<line x1="436.2" y1="429.55" x2="436.2" y2="428.09" stroke="#111" stroke-width="0.7" stroke-linecap="butt"/>
<line x1="435" y1="428.09" x2="437.4" y2="428.09" stroke="#111" stroke-width="0.7" stroke-linecap="butt"/>
<circle cx="435.3" cy="425.65" r="1.15" fill="#fff" stroke="#111" stroke-width="0.6"/>
<circle cx="436.2" cy="428.57" r="1.15" fill="#fff" stroke="#111" stroke-width="0.6"/>
<circle cx="437.1" cy="431.5" r="1.15" fill="#fff" stroke="#111" stroke-width="0.6"/>
<line x1="436.5" y1="478.3" x2="436.5" y2="481.2" stroke="#231f20" stroke-width="1" stroke-linecap="butt"/>
<rect x="443.6" y="440.76" width="4.2" height="37.54" fill="#2a4f95" stroke="none" stroke-width="0"/>
<line x1="445.7" y1="440.76" x2="445.7" y2="434.91" stroke="#111" stroke-width="0.7" stroke-linecap="butt"/>
<line x1="444.5" y1="434.91" x2="446.9" y2="434.91" stroke="#111" stroke-width="0.7" stroke-linecap="butt"/>
<circle cx="444.8" cy="427.11" r="1.15" fill="#fff" stroke="#111" stroke-width="0.6"/>
<circle cx="445.7" cy="439.3" r="1.15" fill="#fff" stroke="#111" stroke-width="0.6"/>
<circle cx="446.6" cy="456.36" r="1.15" fill="#fff" stroke="#111" stroke-width="0.6"/>
<line x1="445.5" y1="478.3" x2="445.5" y2="481.2" stroke="#231f20" stroke-width="1" stroke-linecap="butt"/>
<line x1="436" y1="420.5" x2="446" y2="420.5" stroke="#111" stroke-width="1" stroke-linecap="butt"/>
<text transform="translate(441,418.8) scale(0.93,1)" font-size="5.6" text-anchor="middle" fill="#231f20">ns</text>
<text transform="translate(439.2,488.2) rotate(-45) scale(0.9,1)" font-size="6.1" text-anchor="end" fill="#231f20">BSA (0µM)</text>
<text transform="translate(448.7,488.2) rotate(-45) scale(0.9,1)" font-size="6.1" text-anchor="end" fill="#231f20">PA + SA + OA + LA</text>
<text transform="translate(503.3,411.2) scale(0.9,1)" font-size="8.3" text-anchor="middle" fill="#231f20">GzmB</text>
<line x1="493.5" y1="417.5" x2="493.5" y2="478.8" stroke="#231f20" stroke-width="1.1" stroke-linecap="butt"/>
<line x1="492.95" y1="478.5" x2="511.7" y2="478.5" stroke="#231f20" stroke-width="1.1" stroke-linecap="butt"/>
<line x1="490.4" y1="478.5" x2="493.5" y2="478.5" stroke="#231f20" stroke-width="1" stroke-linecap="butt"/>
<text transform="translate(487.4,480.26) scale(0.98,1)" font-size="5.3" text-anchor="end" fill="#231f20" style="stroke-width:0.08px">0.0</text>
<line x1="490.4" y1="468.5" x2="493.5" y2="468.5" stroke="#231f20" stroke-width="1" stroke-linecap="butt"/>
<text transform="translate(487.4,470.51) scale(0.98,1)" font-size="5.3" text-anchor="end" fill="#231f20" style="stroke-width:0.08px">0.2</text>
<line x1="490.4" y1="458.5" x2="493.5" y2="458.5" stroke="#231f20" stroke-width="1" stroke-linecap="butt"/>
<text transform="translate(487.4,460.76) scale(0.98,1)" font-size="5.3" text-anchor="end" fill="#231f20" style="stroke-width:0.08px">0.4</text>
<line x1="490.4" y1="449.5" x2="493.5" y2="449.5" stroke="#231f20" stroke-width="1" stroke-linecap="butt"/>
<text transform="translate(487.4,451.01) scale(0.98,1)" font-size="5.3" text-anchor="end" fill="#231f20" style="stroke-width:0.08px">0.6</text>
<line x1="490.4" y1="439.5" x2="493.5" y2="439.5" stroke="#231f20" stroke-width="1" stroke-linecap="butt"/>
<text transform="translate(487.4,441.26) scale(0.98,1)" font-size="5.3" text-anchor="end" fill="#231f20" style="stroke-width:0.08px">0.8</text>
<line x1="490.4" y1="429.5" x2="493.5" y2="429.5" stroke="#231f20" stroke-width="1" stroke-linecap="butt"/>
<text transform="translate(487.4,431.51) scale(0.98,1)" font-size="5.3" text-anchor="end" fill="#231f20" style="stroke-width:0.08px">1.0</text>
<line x1="490.4" y1="419.5" x2="493.5" y2="419.5" stroke="#231f20" stroke-width="1" stroke-linecap="butt"/>
<text transform="translate(487.4,421.76) scale(0.98,1)" font-size="5.3" text-anchor="end" fill="#231f20" style="stroke-width:0.08px">1.2</text>
<text transform="translate(468,448.3) rotate(-90) scale(0.88,1)" font-size="6.4" text-anchor="middle" fill="#231f20">FC ΔMFI GzmB</text>
<text transform="translate(476.8,448.3) rotate(-90) scale(0.88,1)" font-size="6.4" text-anchor="middle" fill="#231f20">(vs BSA ctrl)</text>
<rect x="496" y="429.55" width="4.2" height="48.75" fill="#b00a2e" stroke="none" stroke-width="0"/>
<line x1="498.1" y1="429.55" x2="498.1" y2="428.09" stroke="#111" stroke-width="0.7" stroke-linecap="butt"/>
<line x1="496.9" y1="428.09" x2="499.3" y2="428.09" stroke="#111" stroke-width="0.7" stroke-linecap="butt"/>
<circle cx="497.2" cy="422.24" r="1.15" fill="#fff" stroke="#111" stroke-width="0.6"/>
<circle cx="498.1" cy="428.57" r="1.15" fill="#fff" stroke="#111" stroke-width="0.6"/>
<circle cx="499" cy="430.53" r="1.15" fill="#fff" stroke="#111" stroke-width="0.6"/>
<circle cx="497.2" cy="436.86" r="1.15" fill="#fff" stroke="#111" stroke-width="0.6"/>
<line x1="498.5" y1="478.3" x2="498.5" y2="481.2" stroke="#231f20" stroke-width="1" stroke-linecap="butt"/>
<rect x="505.5" y="444.18" width="4.2" height="34.12" fill="#2a4f95" stroke="none" stroke-width="0"/>
<line x1="507.6" y1="444.18" x2="507.6" y2="439.3" stroke="#111" stroke-width="0.7" stroke-linecap="butt"/>
<line x1="506.4" y1="439.3" x2="508.8" y2="439.3" stroke="#111" stroke-width="0.7" stroke-linecap="butt"/>
<circle cx="506.7" cy="435.4" r="1.15" fill="#fff" stroke="#111" stroke-width="0.6"/>
<circle cx="507.6" cy="438.33" r="1.15" fill="#fff" stroke="#111" stroke-width="0.6"/>
<circle cx="508.5" cy="451.49" r="1.15" fill="#fff" stroke="#111" stroke-width="0.6"/>
<circle cx="506.7" cy="454.9" r="1.15" fill="#fff" stroke="#111" stroke-width="0.6"/>
<line x1="507.5" y1="478.3" x2="507.5" y2="481.2" stroke="#231f20" stroke-width="1" stroke-linecap="butt"/>
<line x1="497.5" y1="418.5" x2="507" y2="418.5" stroke="#111" stroke-width="1" stroke-linecap="butt"/>
<text transform="translate(502.25,418.77)" font-size="5.6" text-anchor="middle" fill="#231f20">*</text>
<text transform="translate(501.1,488.2) rotate(-45) scale(0.9,1)" font-size="6.1" text-anchor="end" fill="#231f20">BSA (0µM)</text>
<text transform="translate(510.6,488.2) rotate(-45) scale(0.9,1)" font-size="6.1" text-anchor="end" fill="#231f20">PA + SA + OA + LA</text></svg>
</body></html>
